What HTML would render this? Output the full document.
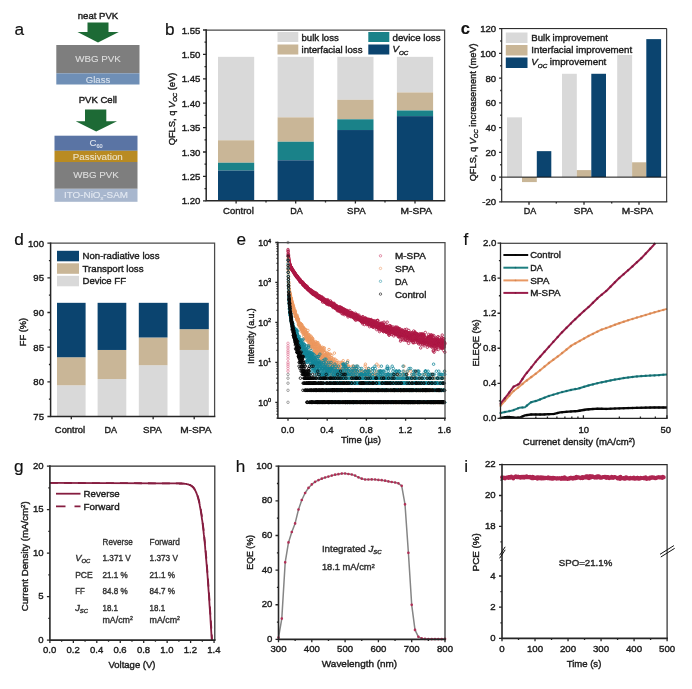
<!DOCTYPE html>
<html lang="en"><head><meta charset="utf-8"><title>Figure</title>
<style>html,body{margin:0;padding:0;background:#fff}svg{display:block}text{stroke:#1c1c1c;stroke-width:.4px}</style></head>
<body>
<svg width="692" height="689" viewBox="0 0 692 689" font-family='"Liberation Sans", sans-serif' fill="#1c1c1c">
<rect width="692" height="689" fill="#fff"/>
<text x="14.5" y="34.5" font-size="17.2" fill="#111" style="stroke:#111;stroke-width:0.15px">a</text>
<text x="165" y="34.5" font-size="17.2" fill="#111" style="stroke:#111;stroke-width:0.15px">b</text>
<text x="460.8" y="33.6" font-size="16.5" fill="#111" style="stroke:#111;stroke-width:0.15px" font-weight="bold">c</text>
<text x="14.3" y="244.9" font-size="17.2" fill="#111" style="stroke:#111;stroke-width:0.15px">d</text>
<text x="236.5" y="245.2" font-size="17.2" fill="#111" style="stroke:#111;stroke-width:0.15px">e</text>
<text x="463.5" y="244.9" font-size="17.2" fill="#111" style="stroke:#111;stroke-width:0.15px">f</text>
<text x="14" y="471.5" font-size="17.2" fill="#111" style="stroke:#111;stroke-width:0.15px">g</text>
<text x="235.8" y="471.7" font-size="17.2" fill="#111" style="stroke:#111;stroke-width:0.15px">h</text>
<text x="464.3" y="471.7" font-size="17.2" fill="#111" style="stroke:#111;stroke-width:0.15px">i</text>
<text x="98" y="18.6" font-size="9.7" text-anchor="middle" textLength="40.4" lengthAdjust="spacingAndGlyphs">neat PVK</text>
<path d="M87.5 22.5H108.5V32H118.8L98 42.6L77.5 32H87.5Z" fill="#1d6a35"/>
<rect x="56.3" y="45" width="83.2" height="28.3" fill="#7e7e7e"/>
<rect x="56.3" y="73.3" width="83.2" height="11.2" fill="#6f8fb6"/>
<text x="98" y="62.4" font-size="9.7" text-anchor="middle" textLength="45.5" lengthAdjust="spacingAndGlyphs" fill="#dedede" style="stroke:#dedede;stroke-width:0.12px">WBG PVK</text>
<text x="98" y="82.5" font-size="9.7" text-anchor="middle" textLength="24.5" lengthAdjust="spacingAndGlyphs" fill="#d6e0ec" style="stroke:#d6e0ec;stroke-width:0.12px">Glass</text>
<text x="97.8" y="102.6" font-size="9.7" text-anchor="middle" textLength="38.3" lengthAdjust="spacingAndGlyphs">PVK Cell</text>
<path d="M85 109.5H106.3V121.2H117L96.2 131.4L75.7 121.2H85Z" fill="#1d6a35"/>
<rect x="54.5" y="135.7" width="83" height="15.1" fill="#5a74a4"/>
<rect x="54.5" y="150.8" width="83" height="11.2" fill="#b98b22"/>
<rect x="54.5" y="162" width="83" height="26.8" fill="#7e7e7e"/>
<rect x="54.5" y="188.8" width="83" height="13" fill="#a8b7ce"/>
<text x="96" y="145.6" font-size="9.7" text-anchor="middle" fill="#dfe5ef" style="stroke:#dfe5ef;stroke-width:0.12px">C<tspan dy="2" font-size="5.5">60</tspan></text>
<text x="97.8" y="159.6" font-size="9.7" text-anchor="middle" textLength="50" lengthAdjust="spacingAndGlyphs" fill="#ece1c2" style="stroke:#ece1c2;stroke-width:0.12px">Passivation</text>
<text x="96" y="177.6" font-size="9.7" text-anchor="middle" textLength="45.5" lengthAdjust="spacingAndGlyphs" fill="#dedede" style="stroke:#dedede;stroke-width:0.12px">WBG PVK</text>
<text x="96" y="197.6" font-size="9.7" text-anchor="middle" textLength="64" lengthAdjust="spacingAndGlyphs" fill="#e3e9f2" style="stroke:#e3e9f2;stroke-width:0.12px">ITO-NiO<tspan dy="2" font-size="5.5">x</tspan><tspan dy="-2">-SAM</tspan></text>
<rect x="218" y="56.84" width="36.2" height="83.45" fill="#d9d9d9"/>
<rect x="218" y="140.29" width="36.2" height="22.45" fill="#c9b697"/>
<rect x="218" y="162.74" width="36.2" height="7.81" fill="#1a8289"/>
<rect x="218" y="170.54" width="36.2" height="30.26" fill="#0b446f"/>
<rect x="277.6" y="56.84" width="36.2" height="60.51" fill="#d9d9d9"/>
<rect x="277.6" y="117.35" width="36.2" height="24.4" fill="#c9b697"/>
<rect x="277.6" y="141.75" width="36.2" height="18.54" fill="#1a8289"/>
<rect x="277.6" y="160.3" width="36.2" height="40.5" fill="#0b446f"/>
<rect x="337.3" y="56.84" width="36.2" height="42.94" fill="#d9d9d9"/>
<rect x="337.3" y="99.78" width="36.2" height="19.52" fill="#c9b697"/>
<rect x="337.3" y="119.3" width="36.2" height="10.74" fill="#1a8289"/>
<rect x="337.3" y="130.04" width="36.2" height="70.76" fill="#0b446f"/>
<rect x="396.9" y="56.84" width="36.2" height="35.62" fill="#d9d9d9"/>
<rect x="396.9" y="92.46" width="36.2" height="18.06" fill="#c9b697"/>
<rect x="396.9" y="110.52" width="36.2" height="5.61" fill="#1a8289"/>
<rect x="396.9" y="116.13" width="36.2" height="84.67" fill="#0b446f"/>
<path d="M206.2 30H444.6V200.8" fill="none" stroke="#4a4a4a" stroke-width="1.25"/>
<path d="M206.2 30V200.8H444.6" fill="none" stroke="#262626" stroke-width="1.5" stroke-linecap="square"/>
<text x="200.4" y="204.3" font-size="9.6" text-anchor="end">1.20</text>
<text x="200.4" y="179.9" font-size="9.6" text-anchor="end">1.25</text>
<text x="200.4" y="155.5" font-size="9.6" text-anchor="end">1.30</text>
<text x="200.4" y="131.1" font-size="9.6" text-anchor="end">1.35</text>
<text x="200.4" y="106.7" font-size="9.6" text-anchor="end">1.40</text>
<text x="200.4" y="82.3" font-size="9.6" text-anchor="end">1.45</text>
<text x="200.4" y="57.9" font-size="9.6" text-anchor="end">1.50</text>
<text x="200.4" y="33.5" font-size="9.6" text-anchor="end">1.55</text>
<path d="M206.2 200.8h-3.2M206.2 188.6h-1.7M206.2 176.4h-3.2M206.2 164.2h-1.7M206.2 152h-3.2M206.2 139.8h-1.7M206.2 127.6h-3.2M206.2 115.4h-1.7M206.2 103.2h-3.2M206.2 91h-1.7M206.2 78.8h-3.2M206.2 66.6h-1.7M206.2 54.4h-3.2M206.2 42.2h-1.7M206.2 30h-3.2M236.1 200.8v2.8M295.7 200.8v2.8M355.4 200.8v2.8M415 200.8v2.8M266 200.8v1.6M325.5 200.8v1.6M385 200.8v1.6" fill="none" stroke="#262626" stroke-width="1.3"/>
<text x="238.4" y="214" font-size="9.7" text-anchor="middle" textLength="30.8" lengthAdjust="spacingAndGlyphs">Control</text>
<text x="296.4" y="214" font-size="9.7" text-anchor="middle" textLength="12.5" lengthAdjust="spacingAndGlyphs">DA</text>
<text x="356.4" y="214" font-size="9.7" text-anchor="middle" textLength="18.6" lengthAdjust="spacingAndGlyphs">SPA</text>
<text x="416.3" y="214" font-size="9.7" text-anchor="middle" textLength="31.6" lengthAdjust="spacingAndGlyphs">M-SPA</text>
<text x="175.2" y="109" font-size="9.6" text-anchor="middle" transform="rotate(-90 175.2 109)" textLength="72.7" lengthAdjust="spacingAndGlyphs">QFLS, q <tspan font-style="italic">V</tspan><tspan dy="2.2" font-size="6.2" font-style="italic">OC</tspan><tspan dy="-2.2"> (eV)</tspan></text>
<rect x="277.5" y="32" width="20.8" height="10" fill="#d9d9d9"/>
<rect x="277.5" y="44.5" width="20.8" height="10" fill="#c9b697"/>
<rect x="368.3" y="32" width="21" height="10" fill="#1a8289"/>
<rect x="368.3" y="44.5" width="21" height="10" fill="#0b446f"/>
<text x="301.5" y="40.6" font-size="9.7" textLength="37.3" lengthAdjust="spacingAndGlyphs">bulk loss</text>
<text x="301.5" y="52.8" font-size="9.7" textLength="61" lengthAdjust="spacingAndGlyphs">interfacial loss</text>
<text x="392.5" y="40.6" font-size="9.7" textLength="48" lengthAdjust="spacingAndGlyphs">device loss</text>
<text x="392.5" y="52.3" font-size="9.7"><tspan font-style="italic">V</tspan><tspan dy="2.2" font-size="6.2" font-style="italic">OC</tspan></text>
<rect x="507" y="117.35" width="15" height="59.79" fill="#d9d9d9"/>
<rect x="522" y="177.14" width="14.8" height="4.95" fill="#c9b697"/>
<rect x="536.8" y="151.15" width="14.5" height="25.99" fill="#0b446f"/>
<rect x="562" y="73.78" width="14.8" height="103.36" fill="#d9d9d9"/>
<rect x="576.8" y="170.09" width="14.5" height="7.06" fill="#c9b697"/>
<rect x="591.3" y="73.78" width="14.7" height="103.36" fill="#0b446f"/>
<rect x="617.2" y="54.97" width="14.9" height="122.18" fill="#d9d9d9"/>
<rect x="632.1" y="162.29" width="14.2" height="14.85" fill="#c9b697"/>
<rect x="646.3" y="39.12" width="14.8" height="138.02" fill="#0b446f"/>
<line x1="501.7" y1="177.14" x2="666.7" y2="177.14" stroke="#111" stroke-width="1"/>
<path d="M501.7 28.6H666.7V201.9" fill="none" stroke="#1a1a1a" stroke-width="1"/>
<path d="M501.7 28.6V201.9H666.7" fill="none" stroke="#262626" stroke-width="1.15" stroke-linecap="square"/>
<text x="496.2" y="205.4" font-size="9.6" text-anchor="end">-20</text>
<text x="496.2" y="180.64" font-size="9.6" text-anchor="end">0</text>
<text x="496.2" y="155.89" font-size="9.6" text-anchor="end">20</text>
<text x="496.2" y="131.13" font-size="9.6" text-anchor="end">40</text>
<text x="496.2" y="106.37" font-size="9.6" text-anchor="end">60</text>
<text x="496.2" y="81.61" font-size="9.6" text-anchor="end">80</text>
<text x="496.2" y="56.86" font-size="9.6" text-anchor="end">100</text>
<text x="496.2" y="32.1" font-size="9.6" text-anchor="end">120</text>
<path d="M501.7 201.9h-2.6M501.7 189.52h-1.5M501.7 177.14h-2.6M501.7 164.76h-1.5M501.7 152.39h-2.6M501.7 140.01h-1.5M501.7 127.63h-2.6M501.7 115.25h-1.5M501.7 102.87h-2.6M501.7 90.49h-1.5M501.7 78.11h-2.6M501.7 65.74h-1.5M501.7 53.36h-2.6M501.7 40.98h-1.5M501.7 28.6h-2.6M529 201.9v2.8M584 201.9v2.8M639 201.9v2.8M556.3 201.9v1.6M611.7 201.9v1.6" fill="none" stroke="#262626" stroke-width="1.3"/>
<text x="529.9" y="214.4" font-size="9.7" text-anchor="middle" textLength="12.5" lengthAdjust="spacingAndGlyphs">DA</text>
<text x="583.4" y="214.4" font-size="9.7" text-anchor="middle" textLength="19.3" lengthAdjust="spacingAndGlyphs">SPA</text>
<text x="637.4" y="214.4" font-size="9.7" text-anchor="middle" textLength="31.4" lengthAdjust="spacingAndGlyphs">M-SPA</text>
<text x="476.2" y="112.4" font-size="9.6" text-anchor="middle" transform="rotate(-90 476.2 112.4)" textLength="137.9" lengthAdjust="spacingAndGlyphs">QFLS, q <tspan font-style="italic">V</tspan><tspan dy="2.2" font-size="6.2" font-style="italic">OC</tspan><tspan dy="-2.2"> increasement (meV)</tspan></text>
<rect x="505.8" y="32.5" width="21.7" height="10.5" fill="#d9d9d9"/>
<rect x="505.8" y="45" width="21.7" height="10.5" fill="#c9b697"/>
<rect x="505.8" y="57.5" width="21.7" height="10.5" fill="#0b446f"/>
<text x="531.3" y="40.9" font-size="9.7" textLength="76.7" lengthAdjust="spacingAndGlyphs">Bulk improvement</text>
<text x="531.3" y="53.3" font-size="9.7" textLength="100.8" lengthAdjust="spacingAndGlyphs">Interfacial improvement</text>
<text x="531.3" y="65.3" font-size="9.7" textLength="75" lengthAdjust="spacingAndGlyphs"><tspan font-style="italic">V</tspan><tspan dy="2.2" font-size="6.2" font-style="italic">OC</tspan><tspan dy="-2.2"> improvement</tspan></text>
<rect x="57" y="385.31" width="28.6" height="31.19" fill="#d9d9d9"/>
<rect x="57" y="357.23" width="28.6" height="28.07" fill="#c9b697"/>
<rect x="57" y="302.82" width="28.6" height="54.42" fill="#0b446f"/>
<rect x="97.6" y="379.07" width="28.7" height="37.43" fill="#d9d9d9"/>
<rect x="97.6" y="349.95" width="28.7" height="29.11" fill="#c9b697"/>
<rect x="97.6" y="302.82" width="28.7" height="47.14" fill="#0b446f"/>
<rect x="138.8" y="365.2" width="28.7" height="51.3" fill="#d9d9d9"/>
<rect x="138.8" y="337.48" width="28.7" height="27.73" fill="#c9b697"/>
<rect x="138.8" y="302.82" width="28.7" height="34.66" fill="#0b446f"/>
<rect x="179.6" y="349.95" width="29.2" height="66.55" fill="#d9d9d9"/>
<rect x="179.6" y="329.16" width="29.2" height="20.8" fill="#c9b697"/>
<rect x="179.6" y="302.82" width="29.2" height="26.34" fill="#0b446f"/>
<path d="M50.6 243.2H214.6V416.5" fill="none" stroke="#4a4a4a" stroke-width="1.25"/>
<path d="M50.6 243.2V416.5H214.6" fill="none" stroke="#262626" stroke-width="1.5" stroke-linecap="square"/>
<text x="44" y="420" font-size="9.6" text-anchor="end">75</text>
<text x="44" y="385.34" font-size="9.6" text-anchor="end">80</text>
<text x="44" y="350.68" font-size="9.6" text-anchor="end">85</text>
<text x="44" y="316.02" font-size="9.6" text-anchor="end">90</text>
<text x="44" y="281.36" font-size="9.6" text-anchor="end">95</text>
<text x="44" y="246.7" font-size="9.6" text-anchor="end">100</text>
<path d="M50.6 416.5h-3.2M50.6 399.17h-1.7M50.6 381.84h-3.2M50.6 364.51h-1.7M50.6 347.18h-3.2M50.6 329.85h-1.7M50.6 312.52h-3.2M50.6 295.19h-1.7M50.6 277.86h-3.2M50.6 260.53h-1.7M50.6 243.2h-3.2M71.3 416.5v2.8M111.95 416.5v2.8M153.15 416.5v2.8M194.2 416.5v2.8" fill="none" stroke="#262626" stroke-width="1.3"/>
<text x="70" y="432.9" font-size="9.7" text-anchor="middle" textLength="30.3" lengthAdjust="spacingAndGlyphs">Control</text>
<text x="110.8" y="432.9" font-size="9.7" text-anchor="middle" textLength="12.5" lengthAdjust="spacingAndGlyphs">DA</text>
<text x="152.3" y="432.9" font-size="9.7" text-anchor="middle" textLength="18.8" lengthAdjust="spacingAndGlyphs">SPA</text>
<text x="195.8" y="432.9" font-size="9.7" text-anchor="middle" textLength="31.3" lengthAdjust="spacingAndGlyphs">M-SPA</text>
<text x="26" y="332" font-size="9.6" text-anchor="middle" transform="rotate(-90 26 332)" textLength="28.4" lengthAdjust="spacingAndGlyphs">FF (%)</text>
<rect x="57" y="250.8" width="22" height="10.5" fill="#0b446f"/>
<rect x="57" y="263.3" width="22" height="10.5" fill="#c9b697"/>
<rect x="57" y="275.8" width="22" height="10.5" fill="#d9d9d9"/>
<text x="82.5" y="259.4" font-size="9.7" textLength="77" lengthAdjust="spacingAndGlyphs">Non-radiative loss</text>
<text x="82.5" y="271.9" font-size="9.7" textLength="61" lengthAdjust="spacingAndGlyphs">Transport loss</text>
<text x="82.5" y="284.4" font-size="9.7" textLength="43.5" lengthAdjust="spacingAndGlyphs">Device FF</text>
<defs>
<marker id="mm" markerWidth="5" markerHeight="5" refX="2.5" refY="2.5" markerUnits="userSpaceOnUse"><circle cx="2.5" cy="2.5" r="1.25" fill="none" stroke="#b01c48" stroke-width="0.8"/></marker>
<marker id="ms" markerWidth="5" markerHeight="5" refX="2.5" refY="2.5" markerUnits="userSpaceOnUse"><circle cx="2.5" cy="2.5" r="1.25" fill="none" stroke="#ee9b62" stroke-width="0.8"/></marker>
<marker id="md" markerWidth="5" markerHeight="5" refX="2.5" refY="2.5" markerUnits="userSpaceOnUse"><circle cx="2.5" cy="2.5" r="1.25" fill="none" stroke="#16889a" stroke-width="0.8"/></marker>
<marker id="mc" markerWidth="5" markerHeight="5" refX="2.5" refY="2.5" markerUnits="userSpaceOnUse"><circle cx="2.5" cy="2.5" r="1.25" fill="none" stroke="#0a0a0a" stroke-width="0.8"/></marker>
<marker id="mg" markerWidth="5" markerHeight="5" refX="2.5" refY="2.5" markerUnits="userSpaceOnUse"><circle cx="2.5" cy="2.5" r="1.25" fill="none" stroke="#8a8a8a" stroke-width="0.8"/></marker>
<marker id="mp" markerWidth="5" markerHeight="5" refX="2.5" refY="2.5" markerUnits="userSpaceOnUse"><circle cx="2.5" cy="2.5" r="1.25" fill="none" stroke="#e58aa5" stroke-width="0.8"/></marker>
<clipPath id="ce"><rect x="275.9" y="240.5" width="171.1" height="177.7"/></clipPath>
</defs>
<polyline clip-path="url(#ce)" points="288.0,249.5 288.1,250.9 288.2,251.5 288.2,253.2 288.3,254.5 288.4,254.8 288.5,255.7 288.5,256.8 288.6,257.6 288.7,258.2 288.8,258.8 288.9,259.6 288.9,260.1 289.0,260.2 289.1,261.2 289.2,261.5 289.3,262.2 289.3,262.5 289.4,263.1 289.5,263.2 289.6,263.5 289.6,264.1 289.7,264.5 289.8,264.4 289.9,264.7 290.0,264.7 290.0,265.0 290.1,265.5 290.2,265.8 290.3,266.0 290.4,266.7 290.4,266.0 290.5,266.2 290.6,266.5 290.7,267.4 290.7,267.3 290.8,267.6 290.9,267.1 291.0,267.2 291.1,266.9 291.1,267.5 291.2,267.4 291.3,267.8 291.4,268.0 291.5,268.2 291.5,268.8 291.6,268.1 291.7,269.3 291.8,268.2 291.8,269.0 291.9,269.4 292.0,269.9 292.1,269.2 292.2,269.6 292.2,270.0 292.3,269.6 292.4,270.1 292.5,269.1 292.5,270.9 292.6,270.9 292.7,270.3 292.8,270.9 292.9,270.4 292.9,270.9 293.0,270.4 293.1,270.7 293.2,270.9 293.3,271.0 293.3,271.1 293.4,271.7 293.5,271.1 293.6,271.2 293.6,272.2 293.7,271.7 293.8,272.3 293.9,271.7 294.0,272.7 294.0,271.9 294.1,272.8 294.2,272.6 294.3,272.3 294.4,272.5 294.4,273.2 294.5,272.9 294.6,274.3 294.7,273.0 294.7,273.4 294.8,273.1 294.9,273.7 295.0,273.2 295.1,274.7 295.1,274.0 295.2,274.6 295.3,274.3 295.4,274.2 295.5,274.3 295.5,274.9 295.6,275.2 295.7,275.2 295.8,275.0 295.8,274.8 295.9,275.0 296.0,275.4 296.1,275.4 296.2,275.3 296.2,276.0 296.3,276.0 296.4,274.9 296.5,276.5 296.5,275.9 296.6,277.3 296.7,275.9 296.8,276.0 296.9,276.5 296.9,277.0 297.0,276.4 297.1,276.5 297.2,276.5 297.3,277.0 297.3,276.2 297.4,277.5 297.5,277.5 297.6,277.1 297.6,277.1 297.7,277.6 297.8,278.0 297.9,277.5 298.0,277.2 298.0,277.2 298.1,278.1 298.2,278.9 298.3,278.8 298.4,279.0 298.4,278.3 298.5,278.3 298.6,278.5 298.7,278.6 298.7,278.8 298.8,279.0 298.9,278.8 299.0,279.3 299.1,279.9 299.1,279.8 299.2,279.4 299.3,279.0 299.4,278.9 299.5,279.4 299.5,279.7 299.6,279.0 299.7,280.7 299.8,280.4 299.8,280.1 299.9,280.3 300.0,280.7 300.1,281.7 300.2,280.7 300.2,279.6 300.3,282.2 300.4,281.4 300.5,280.9 300.6,281.1 300.6,280.6 300.7,281.8 300.8,281.5 300.9,281.9 300.9,281.8 301.0,282.2 301.1,281.5 301.2,282.1 301.3,281.5 301.3,282.6 301.4,282.4 301.5,281.8 301.6,281.4 301.6,282.4 301.7,282.6 301.8,282.9 301.9,283.1 302.0,282.6 302.0,282.4 302.1,283.0 302.2,282.2 302.3,282.1 302.4,283.4 302.4,282.9 302.5,283.5 302.6,284.4 302.7,284.1 302.7,282.1 302.8,283.9 302.9,284.9 303.0,283.4 303.1,284.1 303.1,284.0 303.2,284.2 303.3,283.9 303.4,283.4 303.5,283.2 303.5,284.5 303.6,284.0 303.7,284.0 303.8,285.7 303.8,284.9 303.9,285.4 304.0,285.5 304.1,284.4 304.2,285.1 304.2,285.1 304.3,285.4 304.4,285.8 304.5,284.7 304.6,285.7 304.6,285.3 304.7,285.6 304.8,285.9 304.9,285.1 304.9,286.3 305.0,285.2 305.1,286.0 305.2,285.3 305.3,286.0 305.3,287.3 305.4,287.2 305.5,285.3 305.6,286.7 305.6,285.6 305.7,285.7 305.8,286.6 305.9,287.4 306.0,288.0 306.0,287.7 306.1,286.5 306.2,286.5 306.3,286.5 306.4,287.1 306.4,287.3 306.5,287.4 306.6,287.8 306.7,286.5 306.7,287.0 306.8,287.7 306.9,287.3 307.0,287.8 307.1,286.3 307.1,287.3 307.2,288.1 307.3,287.7 307.4,288.2 307.5,288.1 307.5,288.0 307.6,287.5 307.7,287.7 307.8,289.3 307.8,289.7 307.9,288.4 308.0,288.1 308.1,289.6 308.2,290.0 308.2,289.4 308.3,288.6 308.4,289.0 308.5,289.4 308.6,288.7 308.6,289.0 308.7,289.3 308.8,289.9 308.9,289.9 308.9,288.6 309.0,289.9 309.1,289.7 309.2,289.2 309.3,289.1 309.3,290.3 309.4,289.5 309.5,289.9 309.6,290.4 309.6,290.2 309.7,289.8 309.8,291.3 309.9,290.6 310.0,291.3 310.0,290.6 310.1,291.5 310.2,289.8 310.3,290.1 310.4,291.8 310.4,291.7 310.5,290.3 310.6,290.1 310.7,291.8 310.7,291.1 310.8,290.5 310.9,289.9 311.0,291.4 311.1,291.0 311.1,292.2 311.2,290.7 311.3,292.8 311.4,291.9 311.5,291.5 311.5,291.1 311.6,291.8 311.7,291.9 311.8,290.7 311.8,292.4 311.9,291.5 312.0,292.1 312.1,292.5 312.2,292.6 312.2,292.1 312.3,293.8 312.4,292.8 312.5,293.2 312.6,292.1 312.6,291.2 312.7,291.8 312.8,293.5 312.9,292.7 312.9,292.6 313.0,291.8 313.1,292.6 313.2,293.2 313.3,292.9 313.3,294.4 313.4,292.7 313.5,293.9 313.6,293.1 313.6,294.2 313.7,293.8 313.8,294.2 313.9,293.7 314.0,293.5 314.0,292.4 314.1,294.1 314.2,294.3 314.3,293.6 314.4,294.7 314.4,293.8 314.5,292.3 314.6,293.9 314.7,293.8 314.7,295.3 314.8,293.9 314.9,293.7 315.0,293.4 315.1,294.1 315.1,295.3 315.2,294.4 315.3,293.7 315.4,294.2 315.5,294.2 315.5,293.9 315.6,295.1 315.7,294.3 315.8,295.3 315.8,295.4 315.9,292.8 316.0,294.5 316.1,295.4 316.2,296.7 316.2,295.2 316.3,295.8 316.4,294.2 316.5,295.7 316.6,295.4 316.6,294.9 316.7,295.1 316.8,295.2 316.9,294.9 316.9,293.7 317.0,295.3 317.1,294.8 317.2,295.7 317.3,295.0 317.3,295.9 317.4,294.7 317.5,297.4 317.6,295.5 317.7,296.1 317.7,296.5 317.8,296.4 317.9,296.6 318.0,296.5 318.0,296.9 318.1,295.6 318.2,297.1 318.3,296.3 318.4,297.5 318.4,296.1 318.5,297.6 318.6,296.9 318.7,297.0 318.7,296.7 318.8,295.9 318.9,295.9 319.0,298.0 319.1,297.8 319.1,295.8 319.2,296.9 319.3,298.0 319.4,296.6 319.5,297.1 319.5,298.2 319.6,297.3 319.7,298.0 319.8,298.5 319.8,298.2 319.9,296.7 320.0,296.0 320.1,296.9 320.2,297.4 320.2,297.5 320.3,298.5 320.4,297.6 320.5,298.3 320.6,299.1 320.6,297.8 320.7,297.6 320.8,298.9 320.9,297.4 320.9,297.5 321.0,298.7 321.1,298.0 321.2,297.9 321.3,298.5 321.3,299.3 321.4,298.0 321.5,298.3 321.6,298.2 321.7,296.7 321.7,299.7 321.8,299.2 321.9,298.7 322.0,299.6 322.0,297.7 322.1,297.6 322.2,298.7 322.3,299.9 322.4,297.9 322.4,300.6 322.5,299.1 322.6,302.1 322.7,300.1 322.7,300.0 322.8,299.1 322.9,299.9 323.0,300.0 323.1,299.9 323.1,299.1 323.2,300.2 323.3,300.6 323.4,300.4 323.5,299.6 323.5,300.0 323.6,300.5 323.7,299.1 323.8,299.9 323.8,298.3 323.9,299.0 324.0,301.9 324.1,300.1 324.2,300.0 324.2,300.0 324.3,301.6 324.4,300.0 324.5,300.9 324.6,299.9 324.6,302.0 324.7,301.9 324.8,301.4 324.9,300.4 324.9,300.0 325.0,300.7 325.1,301.3 325.2,300.4 325.3,301.8 325.3,300.5 325.4,301.8 325.5,301.1 325.6,300.6 325.7,300.7 325.7,300.0 325.8,302.0 325.9,302.9 326.0,300.7 326.0,302.8 326.1,300.9 326.2,301.5 326.3,301.4 326.4,302.2 326.4,301.4 326.5,300.3 326.6,300.2 326.7,301.5 326.7,304.2 326.8,303.3 326.9,301.4 327.0,303.1 327.1,302.1 327.1,301.5 327.2,302.0 327.3,301.1 327.4,301.3 327.5,300.8 327.5,302.4 327.6,302.4 327.7,299.7 327.8,302.2 327.8,303.9 327.9,302.4 328.0,300.5 328.1,302.3 328.2,302.8 328.2,302.3 328.3,304.7 328.4,302.2 328.5,303.5 328.6,304.5 328.6,302.4 328.7,302.9 328.8,303.7 328.9,303.0 328.9,301.6 329.0,302.7 329.1,302.1 329.2,303.6 329.3,303.7 329.3,301.8 329.4,304.4 329.5,303.5 329.6,303.6 329.7,303.9 329.7,303.3 329.8,304.2 329.9,304.2 330.0,303.9 330.0,303.2 330.1,303.7 330.2,305.0 330.3,304.7 330.4,302.9 330.4,300.9 330.5,304.9 330.6,304.8 330.7,304.4 330.7,303.0 330.8,304.3 330.9,304.5 331.0,304.3 331.1,304.5 331.1,305.4 331.2,302.1 331.3,304.7 331.4,303.7 331.5,302.9 331.5,303.9 331.6,304.2 331.7,304.7 331.8,303.5 331.8,304.8 331.9,303.1 332.0,304.2 332.1,304.6 332.2,303.7 332.2,306.0 332.3,304.9 332.4,303.8 332.5,306.5 332.6,305.1 332.6,304.8 332.7,305.3 332.8,306.1 332.9,305.0 332.9,305.8 333.0,306.3 333.1,307.6 333.2,304.0 333.3,304.0 333.3,305.1 333.4,304.8 333.5,305.2 333.6,305.8 333.7,305.5 333.7,307.0 333.8,305.0 333.9,303.4 334.0,306.4 334.0,303.4 334.1,305.7 334.2,305.1 334.3,305.5 334.4,307.4 334.4,306.4 334.5,305.2 334.6,305.8 334.7,307.5 334.7,306.9 334.8,306.0 334.9,306.9 335.0,306.9 335.1,308.0 335.1,304.9 335.2,308.3 335.3,305.8 335.4,307.2 335.5,306.4 335.5,305.6 335.6,306.8 335.7,306.6 335.8,308.6 335.8,306.0 335.9,307.3 336.0,307.2 336.1,308.1 336.2,305.5 336.2,305.6 336.3,305.8 336.4,308.2 336.5,307.3 336.6,308.1 336.6,308.6 336.7,307.5 336.8,306.7 336.9,309.0 336.9,308.0 337.0,308.0 337.1,309.7 337.2,307.9 337.3,306.3 337.3,310.7 337.4,307.5 337.5,308.6 337.6,308.6 337.7,307.9 337.7,309.4 337.8,306.9 337.9,307.9 338.0,309.9 338.0,308.6 338.1,308.4 338.2,310.5 338.3,309.4 338.4,307.4 338.4,308.9 338.5,307.9 338.6,310.9 338.7,307.8 338.8,309.6 338.8,309.1 338.9,307.2 339.0,309.0 339.1,308.8 339.1,309.7 339.2,310.4 339.3,309.7 339.4,310.1 339.5,307.1 339.5,308.0 339.6,311.0 339.7,307.8 339.8,306.9 339.8,310.0 339.9,311.4 340.0,310.1 340.1,311.8 340.2,307.8 340.2,309.0 340.3,307.2 340.4,309.4 340.5,310.7 340.6,308.7 340.6,308.6 340.7,310.4 340.8,310.9 340.9,310.5 340.9,307.5 341.0,309.4 341.1,309.9 341.2,309.7 341.3,310.1 341.3,310.8 341.4,307.6 341.5,308.0 341.6,308.8 341.7,309.3 341.7,311.4 341.8,313.5 341.9,308.6 342.0,310.5 342.0,310.5 342.1,309.4 342.2,309.4 342.3,310.4 342.4,310.8 342.4,308.3 342.5,309.6 342.6,310.1 342.7,313.9 342.8,311.4 342.8,310.8 342.9,310.6 343.0,310.1 343.1,310.9 343.1,312.5 343.2,311.8 343.3,312.7 343.4,311.0 343.5,310.0 343.5,312.3 343.6,311.2 343.7,311.4 343.8,309.1 343.8,309.0 343.9,310.5 344.0,311.8 344.1,309.5 344.2,309.9 344.2,309.9 344.3,314.7 344.4,311.0 344.5,312.2 344.6,311.8 344.6,313.3 344.7,309.8 344.8,311.4 344.9,313.1 344.9,309.9 345.0,313.7 345.1,313.3 345.2,313.1 345.3,311.4 345.3,312.5 345.4,311.6 345.5,312.7 345.6,310.5 345.7,313.6 345.7,313.2 345.8,312.1 345.9,311.9 346.0,312.4 346.0,311.7 346.1,310.5 346.2,312.8 346.3,313.6 346.4,311.0 346.4,312.3 346.5,312.2 346.6,313.8 346.7,314.9 346.8,310.9 346.8,310.3 346.9,311.4 347.0,312.7 347.1,313.5 347.1,312.1 347.2,312.6 347.3,313.2 347.4,313.8 347.5,313.6 347.5,313.1 347.6,314.8 347.7,314.8 347.8,311.7 347.8,313.5 347.9,311.4 348.0,316.9 348.1,313.1 348.2,315.5 348.2,311.4 348.3,312.1 348.4,312.1 348.5,312.5 348.6,313.4 348.6,311.7 348.7,313.3 348.8,313.8 348.9,313.5 348.9,313.2 349.0,313.0 349.1,313.9 349.2,313.4 349.3,315.4 349.3,313.5 349.4,313.0 349.5,315.8 349.6,314.7 349.7,313.8 349.7,310.6 349.8,312.8 349.9,315.7 350.0,314.9 350.0,315.4 350.1,313.3 350.2,314.0 350.3,315.4 350.4,315.8 350.4,315.4 350.5,314.5 350.6,313.0 350.7,316.0 350.8,314.1 350.8,312.9 350.9,316.4 351.0,313.5 351.1,314.5 351.1,316.9 351.2,313.3 351.3,314.4 351.4,312.9 351.5,314.9 351.5,316.0 351.6,314.4 351.7,312.5 351.8,313.6 351.8,315.1 351.9,314.8 352.0,313.5 352.1,314.0 352.2,316.1 352.2,312.7 352.3,315.5 352.4,314.7 352.5,316.3 352.6,315.4 352.6,315.1 352.7,315.2 352.8,314.4 352.9,315.5 352.9,314.4 353.0,317.1 353.1,317.3 353.2,316.1 353.3,314.2 353.3,316.8 353.4,313.5 353.5,315.6 353.6,317.2 353.7,314.9 353.7,316.6 353.8,314.9 353.9,315.2 354.0,316.0 354.0,315.4 354.1,317.2 354.2,318.5 354.3,317.8 354.4,315.0 354.4,317.7 354.5,316.6 354.6,317.1 354.7,315.4 354.8,316.8 354.8,315.4 354.9,316.8 355.0,319.5 355.1,315.4 355.1,316.9 355.2,315.7 355.3,313.2 355.4,316.1 355.5,314.7 355.5,317.8 355.6,317.7 355.7,314.5 355.8,315.4 355.8,320.3 355.9,318.1 356.0,315.5 356.1,316.4 356.2,314.6 356.2,315.1 356.3,315.2 356.4,316.7 356.5,318.0 356.6,318.1 356.6,319.1 356.7,317.1 356.8,316.2 356.9,316.4 356.9,317.8 357.0,316.0 357.1,318.8 357.2,317.6 357.3,314.7 357.3,316.8 357.4,319.1 357.5,318.4 357.6,317.3 357.7,316.6 357.7,317.6 357.8,318.0 357.9,316.1 358.0,316.9 358.0,319.1 358.1,316.9 358.2,319.8 358.3,317.2 358.4,318.9 358.4,316.7 358.5,319.4 358.6,318.1 358.7,316.6 358.8,319.1 358.8,318.0 358.9,317.8 359.0,315.2 359.1,318.4 359.1,317.6 359.2,317.8 359.3,318.7 359.4,318.4 359.5,318.8 359.5,318.3 359.6,317.1 359.7,318.1 359.8,319.2 359.9,319.4 359.9,318.3 360.0,318.1 360.1,318.9 360.2,319.2 360.2,317.2 360.3,320.4 360.4,318.5 360.5,319.4 360.6,320.3 360.6,318.1 360.7,319.8 360.8,320.7 360.9,319.4 360.9,320.4 361.0,321.1 361.1,320.6 361.2,317.6 361.3,320.4 361.3,318.9 361.4,318.1 361.5,322.1 361.6,320.0 361.7,320.7 361.7,319.7 361.8,320.6 361.9,320.9 362.0,321.9 362.0,317.7 362.1,321.9 362.2,320.4 362.3,320.3 362.4,318.7 362.4,321.6 362.5,321.2 362.6,319.4 362.7,316.8 362.8,323.8 362.8,316.7 362.9,320.7 363.0,321.1 363.1,322.1 363.1,318.7 363.2,320.1 363.3,318.9 363.4,320.9 363.5,320.6 363.5,322.4 363.6,321.6 363.7,319.1 363.8,319.4 363.9,322.1 363.9,318.5 364.0,319.4 364.1,321.7 364.2,321.9 364.2,320.3 364.3,320.7 364.4,324.6 364.5,320.7 364.6,321.2 364.6,319.2 364.7,320.3 364.8,322.2 364.9,320.3 364.9,320.9 365.0,319.5 365.1,320.7 365.2,318.0 365.3,318.1 365.3,322.4 365.4,320.4 365.5,319.4 365.6,320.6 365.7,321.2 365.7,319.2 365.8,320.0 365.9,319.2 366.0,322.8 366.0,321.7 366.1,318.4 366.2,320.4 366.3,322.8 366.4,322.4 366.4,320.6 366.5,321.1 366.6,319.8 366.7,322.1 366.8,324.6 366.8,320.7 366.9,319.4 367.0,319.4 367.1,320.4 367.1,324.0 367.2,320.1 367.3,320.4 367.4,319.8 367.5,321.4 367.5,321.1 367.6,322.8 367.7,321.9 367.8,319.7 367.9,320.0 367.9,319.7 368.0,324.2 368.1,319.1 368.2,320.0 368.2,322.2 368.3,321.7 368.4,320.4 368.5,321.7 368.6,322.2 368.6,324.8 368.7,319.7 368.8,321.9 368.9,324.4 368.9,323.7 369.0,322.8 369.1,324.2 369.2,320.4 369.3,322.1 369.3,319.5 369.4,320.0 369.5,319.7 369.6,326.7 369.7,321.4 369.7,324.6 369.8,323.5 369.9,322.9 370.0,321.7 370.0,323.8 370.1,324.6 370.2,323.5 370.3,323.5 370.4,322.8 370.4,321.9 370.5,322.2 370.6,321.6 370.7,320.4 370.8,324.0 370.8,322.8 370.9,325.8 371.0,324.2 371.1,323.5 371.1,320.0 371.2,319.5 371.3,323.3 371.4,321.1 371.5,324.8 371.5,324.6 371.6,320.7 371.7,321.2 371.8,325.8 371.9,323.1 371.9,323.8 372.0,325.0 372.1,323.1 372.2,326.1 372.2,323.5 372.3,324.2 372.4,326.7 372.5,322.6 372.6,324.2 372.6,323.7 372.7,320.7 372.8,320.9 372.9,323.5 372.9,324.0 373.0,325.4 373.1,327.2 373.2,322.1 373.3,323.3 373.3,326.7 373.4,325.0 373.5,324.4 373.6,324.6 373.7,321.7 373.7,325.2 373.8,325.4 373.9,324.4 374.0,325.2 374.0,325.4 374.1,325.2 374.2,320.7 374.3,322.2 374.4,325.8 374.4,327.6 374.5,323.8 374.6,324.0 374.7,321.7 374.8,323.5 374.8,323.5 374.9,322.6 375.0,324.0 375.1,323.3 375.1,324.8 375.2,325.4 375.3,323.7 375.4,323.3 375.5,325.8 375.5,325.0 375.6,325.6 375.7,321.1 375.8,326.5 375.9,322.6 375.9,326.3 376.0,325.4 376.1,326.5 376.2,325.0 376.2,326.7 376.3,325.4 376.4,324.8 376.5,327.4 376.6,323.5 376.6,326.9 376.7,329.6 376.8,325.6 376.9,325.6 377.0,320.7 377.0,323.5 377.1,326.5 377.2,326.3 377.3,325.0 377.3,325.2 377.4,325.2 377.5,327.4 377.6,323.7 377.7,320.7 377.7,320.3 377.8,325.0 377.9,327.4 378.0,328.6 378.0,325.6 378.1,325.6 378.2,325.2 378.3,324.0 378.4,325.8 378.4,326.3 378.5,327.4 378.6,328.1 378.7,325.0 378.8,327.2 378.8,325.2 378.9,326.7 379.0,324.0 379.1,327.2 379.1,326.9 379.2,323.7 379.3,324.6 379.4,329.9 379.5,327.2 379.5,331.6 379.6,328.6 379.7,327.9 379.8,326.5 379.9,325.8 379.9,327.6 380.0,323.1 380.1,326.9 380.2,328.8 380.2,323.8 380.3,325.6 380.4,324.6 380.5,327.4 380.6,326.3 380.6,326.3 380.7,326.3 380.8,326.7 380.9,329.9 381.0,329.1 381.0,324.0 381.1,325.4 381.2,326.5 381.3,328.8 381.3,327.4 381.4,325.6 381.5,325.8 381.6,326.7 381.7,323.5 381.7,326.3 381.8,325.4 381.9,324.6 382.0,324.8 382.0,324.6 382.1,322.9 382.2,325.2 382.3,324.6 382.4,326.7 382.4,330.7 382.5,326.5 382.6,325.2 382.7,325.8 382.8,326.9 382.8,325.8 382.9,330.7 383.0,325.8 383.1,324.6 383.1,328.1 383.2,329.6 383.3,324.6 383.4,327.6 383.5,331.6 383.5,325.6 383.6,331.6 383.7,326.5 383.8,327.6 383.9,330.1 383.9,328.6 384.0,322.2 384.1,326.5 384.2,329.1 384.2,328.6 384.3,326.7 384.4,328.3 384.5,327.9 384.6,331.0 384.6,331.0 384.7,329.6 384.8,329.1 384.9,328.8 385.0,327.6 385.0,330.1 385.1,329.6 385.2,324.2 385.3,327.9 385.3,327.4 385.4,326.5 385.5,328.8 385.6,327.2 385.7,331.9 385.7,330.4 385.8,331.6 385.9,329.1 386.0,326.7 386.0,331.6 386.1,328.8 386.2,326.9 386.3,331.9 386.4,328.6 386.4,331.9 386.5,328.1 386.6,331.0 386.7,328.1 386.8,329.3 386.8,326.7 386.9,331.6 387.0,326.5 387.1,332.5 387.1,330.1 387.2,322.2 387.3,326.5 387.4,328.8 387.5,327.6 387.5,331.0 387.6,327.2 387.7,327.4 387.8,328.1 387.9,327.9 387.9,326.3 388.0,331.6 388.1,333.4 388.2,327.9 388.2,328.3 388.3,327.2 388.4,331.3 388.5,328.3 388.6,331.3 388.6,329.1 388.7,331.0 388.8,328.3 388.9,328.6 389.0,335.1 389.0,328.8 389.1,333.7 389.2,329.3 389.3,331.3 389.3,335.1 389.4,326.1 389.5,329.9 389.6,327.9 389.7,333.1 389.7,325.6 389.8,329.9 389.9,329.9 390.0,330.1 390.0,329.1 390.1,329.3 390.2,332.2 390.3,333.1 390.4,328.1 390.4,325.8 390.5,327.4 390.6,330.1 390.7,331.0 390.8,331.6 390.8,328.1 390.9,326.9 391.0,330.7 391.1,328.6 391.1,329.9 391.2,327.4 391.3,330.1 391.4,329.6 391.5,334.4 391.5,328.8 391.6,329.1 391.7,331.6 391.8,331.9 391.9,332.2 391.9,328.6 392.0,331.3 392.1,331.9 392.2,330.7 392.2,328.8 392.3,334.1 392.4,329.9 392.5,331.9 392.6,330.1 392.6,331.6 392.7,330.4 392.8,331.9 392.9,326.9 393.0,328.8 393.0,332.2 393.1,330.7 393.2,328.6 393.3,329.6 393.3,330.1 393.4,328.6 393.5,332.8 393.6,330.1 393.7,333.4 393.7,329.6 393.8,335.9 393.9,332.8 394.0,331.0 394.0,332.8 394.1,331.9 394.2,328.6 394.3,331.6 394.4,329.9 394.4,329.1 394.5,330.1 394.6,333.4 394.7,330.1 394.8,331.3 394.8,333.7 394.9,334.1 395.0,332.8 395.1,329.3 395.1,327.2 395.2,333.1 395.3,330.4 395.4,331.3 395.5,332.2 395.5,329.6 395.6,330.1 395.7,328.1 395.8,332.5 395.9,329.1 395.9,331.0 396.0,327.2 396.1,329.6 396.2,334.8 396.2,333.7 396.3,330.1 396.4,329.9 396.5,334.1 396.6,331.3 396.6,334.1 396.7,334.1 396.8,331.9 396.9,332.5 397.0,331.6 397.0,331.9 397.1,327.2 397.2,330.7 397.3,332.5 397.3,333.7 397.4,333.7 397.5,334.4 397.6,331.0 397.7,332.8 397.7,331.9 397.8,332.5 397.9,328.3 398.0,330.1 398.1,328.1 398.1,328.6 398.2,336.6 398.3,330.7 398.4,334.4 398.4,333.7 398.5,335.1 398.6,333.7 398.7,330.4 398.8,329.6 398.8,337.0 398.9,335.9 399.0,334.1 399.1,330.7 399.1,334.4 399.2,330.7 399.3,330.4 399.4,329.1 399.5,334.4 399.5,331.6 399.6,332.8 399.7,337.0 399.8,328.6 399.9,336.3 399.9,331.3 400.0,335.9 400.1,334.1 400.2,330.7 400.2,334.4 400.3,332.2 400.4,333.4 400.5,341.1 400.6,333.7 400.6,334.8 400.7,333.1 400.8,332.5 400.9,339.7 401.0,334.1 401.0,334.1 401.1,331.3 401.2,331.6 401.3,334.1 401.3,336.3 401.4,330.4 401.5,335.1 401.6,332.2 401.7,335.1 401.7,331.3 401.8,335.1 401.9,334.1 402.0,330.1 402.1,330.1 402.1,335.5 402.2,335.1 402.3,333.4 402.4,334.4 402.4,330.7 402.5,339.2 402.6,335.9 402.7,332.2 402.8,335.5 402.8,335.1 402.9,334.4 403.0,332.5 403.1,333.7 403.1,333.4 403.2,337.5 403.3,333.1 403.4,332.8 403.5,340.1 403.5,335.5 403.6,335.5 403.7,335.1 403.8,332.5 403.9,336.6 403.9,335.1 404.0,335.5 404.1,331.0 404.2,331.6 404.2,331.6 404.3,332.8 404.4,335.9 404.5,334.1 404.6,333.7 404.6,333.7 404.7,336.3 404.8,329.6 404.9,335.1 405.0,334.4 405.0,333.4 405.1,340.1 405.2,334.8 405.3,333.4 405.3,337.9 405.4,335.1 405.5,339.2 405.6,334.1 405.7,337.0 405.7,331.6 405.8,332.5 405.9,337.0 406.0,336.3 406.1,334.4 406.1,332.8 406.2,332.8 406.3,332.8 406.4,335.5 406.4,336.3 406.5,332.2 406.6,329.3 406.7,340.6 406.8,334.1 406.8,332.2 406.9,332.2 407.0,332.5 407.1,333.1 407.1,333.1 407.2,340.6 407.3,334.4 407.4,334.1 407.5,333.4 407.5,334.4 407.6,337.9 407.7,333.1 407.8,335.1 407.9,332.5 407.9,340.1 408.0,333.1 408.1,334.4 408.2,336.6 408.2,336.3 408.3,337.9 408.4,337.0 408.5,336.6 408.6,335.1 408.6,343.3 408.7,337.9 408.8,330.4 408.9,338.7 409.0,334.1 409.0,333.1 409.1,334.4 409.2,335.1 409.3,335.9 409.3,336.3 409.4,335.5 409.5,332.8 409.6,337.0 409.7,336.6 409.7,336.3 409.8,335.5 409.9,335.1 410.0,336.6 410.1,336.3 410.1,340.6 410.2,334.8 410.3,337.5 410.4,338.3 410.4,337.5 410.5,336.3 410.6,335.9 410.7,339.2 410.8,334.1 410.8,332.5 410.9,337.9 411.0,340.6 411.1,334.1 411.1,337.9 411.2,336.3 411.3,338.3 411.4,340.1 411.5,337.5 411.5,338.7 411.6,339.7 411.7,334.8 411.8,335.5 411.9,333.4 411.9,334.4 412.0,332.8 412.1,335.5 412.2,340.6 412.2,338.7 412.3,336.6 412.4,335.5 412.5,335.1 412.6,336.6 412.6,340.1 412.7,337.9 412.8,336.6 412.9,335.9 413.0,334.8 413.0,342.7 413.1,342.2 413.2,334.1 413.3,338.7 413.3,335.1 413.4,337.5 413.5,339.2 413.6,335.9 413.7,334.1 413.7,331.0 413.8,339.2 413.9,334.8 414.0,342.7 414.1,334.4 414.1,337.0 414.2,333.1 414.3,335.9 414.4,338.7 414.4,335.9 414.5,340.6 414.6,335.9 414.7,333.1 414.8,337.0 414.8,336.3 414.9,331.9 415.0,339.2 415.1,334.8 415.1,332.8 415.2,337.9 415.3,333.4 415.4,339.2 415.5,337.9 415.5,342.2 415.6,333.7 415.7,335.5 415.8,339.2 415.9,339.2 415.9,337.5 416.0,338.7 416.1,338.3 416.2,338.3 416.2,337.0 416.3,337.0 416.4,338.7 416.5,333.7 416.6,339.2 416.6,334.1 416.7,334.4 416.8,339.2 416.9,335.5 417.0,334.1 417.0,340.6 417.1,334.4 417.2,337.9 417.3,335.5 417.3,338.3 417.4,335.1 417.5,339.2 417.6,334.1 417.7,341.1 417.7,334.8 417.8,342.7 417.9,335.5 418.0,335.5 418.1,342.7 418.1,337.9 418.2,337.5 418.3,339.7 418.4,337.5 418.4,337.0 418.5,339.2 418.6,340.6 418.7,343.9 418.8,339.2 418.8,337.5 418.9,340.6 419.0,341.1 419.1,338.3 419.2,340.6 419.2,335.9 419.3,339.7 419.4,339.2 419.5,334.8 419.5,341.6 419.6,337.9 419.7,333.7 419.8,336.6 419.9,338.3 419.9,335.1 420.0,341.6 420.1,340.1 420.2,342.7 420.2,337.9 420.3,341.1 420.4,340.6 420.5,341.6 420.6,344.5 420.6,337.0 420.7,347.9 420.8,341.6 420.9,334.1 421.0,339.7 421.0,339.2 421.1,339.2 421.2,342.7 421.3,339.7 421.3,334.4 421.4,335.5 421.5,338.7 421.6,335.9 421.7,342.7 421.7,335.1 421.8,342.7 421.9,334.4 422.0,342.2 422.1,337.0 422.1,337.0 422.2,340.6 422.3,342.2 422.4,342.2 422.4,333.7 422.5,338.3 422.6,344.5 422.7,335.1 422.8,340.1 422.8,334.8 422.9,340.6 423.0,340.6 423.1,341.1 423.2,337.9 423.2,334.4 423.3,343.3 423.4,339.7 423.5,334.8 423.5,335.9 423.6,336.3 423.7,338.7 423.8,338.7 423.9,339.7 423.9,338.3 424.0,345.8 424.1,336.6 424.2,335.9 424.2,343.9 424.3,340.6 424.4,343.3 424.5,335.5 424.6,340.6 424.6,341.6 424.7,343.3 424.8,341.1 424.9,343.3 425.0,342.7 425.0,340.6 425.1,339.7 425.2,341.6 425.3,332.5 425.3,342.7 425.4,337.9 425.5,341.1 425.6,340.1 425.7,342.2 425.7,341.6 425.8,340.6 425.9,341.1 426.0,342.2 426.1,341.1 426.1,338.7 426.2,340.6 426.3,339.7 426.4,342.2 426.4,341.6 426.5,340.1 426.6,344.5 426.7,341.6 426.8,342.2 426.8,344.5 426.9,343.9 427.0,340.6 427.1,342.7 427.2,338.3 427.2,338.7 427.3,347.2 427.4,340.6 427.5,342.7 427.5,338.7 427.6,337.9 427.7,337.5 427.8,341.1 427.9,337.0 427.9,339.7 428.0,344.5 428.1,341.6 428.2,338.7 428.2,343.9 428.3,341.1 428.4,339.2 428.5,338.3 428.6,341.6 428.6,337.9 428.7,334.4 428.8,336.6 428.9,342.7 429.0,339.2 429.0,345.8 429.1,336.3 429.2,340.1 429.3,338.3 429.3,343.3 429.4,337.5 429.5,337.9 429.6,337.5 429.7,337.9 429.7,341.1 429.8,336.3 429.9,343.9 430.0,345.1 430.1,340.6 430.1,336.3 430.2,342.2 430.3,342.2 430.4,337.0 430.4,345.8 430.5,337.5 430.6,343.9 430.7,338.3 430.8,337.5 430.8,338.3 430.9,335.1 431.0,343.3 431.1,344.5 431.2,335.9 431.2,339.7 431.3,340.1 431.4,340.6 431.5,342.7 431.5,334.8 431.6,337.0 431.7,338.7 431.8,341.1 431.9,346.5 431.9,347.2 432.0,345.1 432.1,339.2 432.2,342.7 432.2,343.3 432.3,342.7 432.4,335.9 432.5,345.1 432.6,343.9 432.6,345.1 432.7,339.7 432.8,339.7 432.9,336.3 433.0,341.1 433.0,342.7 433.1,340.1 433.2,344.5 433.3,350.3 433.3,344.5 433.4,351.2 433.5,340.1 433.6,342.2 433.7,335.5 433.7,345.1 433.8,345.8 433.9,340.1 434.0,341.1 434.1,342.7 434.1,352.2 434.2,341.1 434.3,343.9 434.4,339.7 434.4,347.2 434.5,343.3 434.6,346.5 434.7,342.2 434.8,344.5 434.8,339.2 434.9,345.8 435.0,343.3 435.1,348.7 435.2,339.2 435.2,338.7 435.3,340.1 435.4,342.7 435.5,344.5 435.5,348.7 435.6,344.5 435.7,341.6 435.8,337.5 435.9,345.8 435.9,343.3 436.0,342.2 436.1,341.1 436.2,345.8 436.3,343.3 436.3,340.1 436.4,343.3 436.5,340.1 436.6,347.2 436.6,349.5 436.7,345.8 436.8,343.3 436.9,345.8 437.0,342.2 437.0,338.3 437.1,341.6 437.2,345.8 437.3,342.2 437.3,343.9 437.4,343.3 437.5,339.7 437.6,340.6 437.7,341.6 437.7,344.5 437.8,340.6 437.9,345.8 438.0,336.6 438.1,339.7 438.1,345.1 438.2,340.1 438.3,349.5 438.4,343.9 438.4,342.2 438.5,345.8 438.6,340.6 438.7,340.6 438.8,342.7 438.8,344.5 438.9,340.6 439.0,340.6 439.1,342.2 439.2,337.5 439.2,340.6 439.3,344.5 439.4,341.6 439.5,342.7 439.5,342.2 439.6,343.3 439.7,343.3 439.8,345.8 439.9,346.5 439.9,345.8 440.0,341.1 440.1,344.5 440.2,343.9 440.3,343.3 440.3,345.8 440.4,342.2 440.5,341.1 440.6,340.1 440.6,341.1 440.7,343.9 440.8,339.7 440.9,343.9 441.0,347.9 441.0,340.1 441.1,347.9 441.2,347.9 441.3,338.7 441.3,345.8 441.4,342.2 441.5,340.6 441.6,343.9 441.7,343.3 441.7,343.3 441.8,337.5 441.9,347.9 442.0,342.2 442.1,343.9 442.1,347.2 442.2,335.1 442.3,343.9 442.4,344.5 442.4,347.9 442.5,340.6 442.6,346.5 442.7,347.9 442.8,342.7 442.8,344.5 442.9,343.3 443.0,339.2 443.1,343.3 443.2,338.7 443.2,347.2 443.3,340.6 443.4,347.9 443.5,342.7 443.5,350.3 443.6,342.7 443.7,345.8 443.8,346.5 443.9,341.6 443.9,338.7 444.0,342.7 444.1,344.5 444.2,345.1 444.3,342.7 444.3,347.2 444.4,342.2 444.5,343.9 444.6,343.9 444.6,342.7 444.7,343.9 444.8,352.2" fill="none" stroke="none" marker-start="url(#mm)" marker-mid="url(#mm)" marker-end="url(#mm)"/>
<polyline clip-path="url(#ce)" points="288.0,258.7 288.1,262.4 288.2,266.0 288.2,269.0 288.3,271.2 288.4,274.5 288.5,276.8 288.5,279.3 288.6,281.8 288.7,282.8 288.8,283.3 288.9,285.4 288.9,286.8 289.0,288.6 289.1,288.8 289.2,289.1 289.3,290.1 289.3,291.8 289.4,290.8 289.5,292.0 289.6,291.8 289.6,292.8 289.7,293.2 289.8,294.1 289.9,294.1 290.0,293.2 290.0,294.1 290.1,294.6 290.2,294.2 290.3,296.5 290.4,296.0 290.4,296.9 290.5,295.8 290.6,297.2 290.7,297.4 290.7,298.0 290.8,297.8 290.9,297.7 291.0,298.0 291.1,299.1 291.1,299.2 291.2,301.0 291.3,298.6 291.4,300.2 291.5,300.4 291.5,301.3 291.6,301.4 291.7,300.2 291.8,303.3 291.8,302.2 291.9,303.5 292.0,302.9 292.1,302.8 292.2,302.0 292.2,304.0 292.3,303.5 292.4,304.5 292.5,303.7 292.5,304.6 292.6,305.1 292.7,308.3 292.8,307.1 292.9,304.8 292.9,306.4 293.0,307.4 293.1,307.9 293.2,306.4 293.3,306.6 293.3,309.8 293.4,307.6 293.5,306.0 293.6,307.9 293.6,308.7 293.7,309.7 293.8,310.8 293.9,308.1 294.0,311.1 294.0,309.6 294.1,310.7 294.2,310.5 294.3,312.8 294.4,311.5 294.4,312.7 294.5,311.2 294.6,313.1 294.7,313.7 294.7,312.9 294.8,311.4 294.9,312.2 295.0,310.3 295.1,311.3 295.1,312.7 295.2,311.8 295.3,315.8 295.4,316.3 295.5,316.6 295.5,315.2 295.6,314.0 295.7,316.6 295.8,316.2 295.8,316.6 295.9,315.8 296.0,316.2 296.1,316.4 296.2,316.4 296.2,316.4 296.3,314.8 296.4,316.1 296.5,317.5 296.5,317.8 296.6,319.7 296.7,318.1 296.8,316.9 296.9,318.7 296.9,317.8 297.0,318.1 297.1,317.2 297.2,319.4 297.3,315.5 297.3,320.1 297.4,318.9 297.5,317.1 297.6,318.8 297.6,318.9 297.7,319.1 297.8,319.1 297.9,320.6 298.0,320.9 298.0,321.4 298.1,319.4 298.2,322.6 298.3,318.8 298.4,319.4 298.4,324.4 298.5,320.9 298.6,325.2 298.7,322.6 298.7,322.9 298.8,325.0 298.9,323.1 299.0,322.4 299.1,325.0 299.1,323.1 299.2,325.0 299.3,325.0 299.4,327.2 299.5,324.6 299.5,323.3 299.6,324.0 299.7,323.8 299.8,323.1 299.8,323.7 299.9,324.8 300.0,323.5 300.1,325.0 300.2,325.8 300.2,323.5 300.3,325.0 300.4,326.7 300.5,325.8 300.6,326.1 300.6,326.1 300.7,323.7 300.8,324.0 300.9,331.0 300.9,328.6 301.0,326.7 301.1,328.8 301.2,326.9 301.3,328.3 301.3,324.4 301.4,325.2 301.5,329.3 301.6,326.1 301.6,326.9 301.7,328.6 301.8,329.3 301.9,329.6 302.0,324.8 302.0,330.7 302.1,326.3 302.2,329.1 302.3,326.7 302.4,330.1 302.4,328.3 302.5,332.8 302.6,328.6 302.7,329.9 302.7,329.9 302.8,331.3 302.9,328.3 303.0,330.1 303.1,328.3 303.1,331.9 303.2,328.8 303.3,332.2 303.4,334.4 303.5,327.2 303.5,328.3 303.6,331.3 303.7,328.3 303.8,336.3 303.8,333.4 303.9,330.7 304.0,331.0 304.1,331.9 304.2,331.3 304.2,331.0 304.3,334.4 304.4,338.7 304.5,333.1 304.6,329.3 304.6,333.7 304.7,329.6 304.8,340.1 304.9,337.9 304.9,331.9 305.0,331.9 305.1,331.6 305.2,331.9 305.3,333.7 305.3,333.1 305.4,329.3 305.5,333.1 305.6,331.9 305.6,329.9 305.7,334.4 305.8,338.7 305.9,337.0 306.0,332.5 306.0,337.5 306.1,336.6 306.2,333.4 306.3,334.1 306.4,333.1 306.4,335.1 306.5,332.2 306.6,334.8 306.7,337.9 306.7,333.7 306.8,336.3 306.9,334.8 307.0,334.4 307.1,336.6 307.1,337.0 307.2,337.0 307.3,339.2 307.4,337.9 307.5,337.9 307.5,337.0 307.6,340.6 307.7,340.6 307.8,335.1 307.8,338.7 307.9,330.4 308.0,341.6 308.1,334.1 308.2,337.0 308.2,339.7 308.3,337.0 308.4,334.4 308.5,337.9 308.6,337.5 308.6,340.1 308.7,336.3 308.8,339.2 308.9,337.0 308.9,344.5 309.0,342.7 309.1,337.5 309.2,339.7 309.3,341.1 309.3,338.7 309.4,339.2 309.5,339.7 309.6,343.9 309.6,335.1 309.7,340.1 309.8,337.9 309.9,348.7 310.0,339.7 310.0,339.2 310.1,345.1 310.2,345.8 310.3,338.7 310.4,341.6 310.4,339.2 310.5,339.2 310.6,341.1 310.7,341.1 310.7,341.6 310.8,345.1 310.9,337.0 311.0,339.7 311.1,336.3 311.1,345.8 311.2,343.9 311.3,345.1 311.4,339.7 311.5,341.1 311.5,344.5 311.6,342.2 311.7,346.5 311.8,341.1 311.8,345.8 311.9,342.7 312.0,346.5 312.1,343.3 312.2,337.9 312.2,340.6 312.3,343.9 312.4,340.1 312.5,348.7 312.6,338.7 312.6,345.1 312.7,347.2 312.8,339.2 312.9,347.2 312.9,341.6 313.0,343.3 313.1,343.9 313.2,342.7 313.3,346.5 313.3,341.1 313.4,356.5 313.5,342.2 313.6,347.2 313.6,345.1 313.7,347.2 313.8,345.1 313.9,352.2 314.0,346.5 314.0,342.7 314.1,343.9 314.2,345.8 314.3,347.2 314.4,343.3 314.4,344.5 314.5,351.2 314.6,351.2 314.7,345.8 314.7,344.5 314.8,346.5 314.9,344.5 315.0,349.5 315.1,349.5 315.1,346.5 315.2,349.5 315.3,347.2 315.4,352.2 315.5,347.2 315.5,341.6 315.6,350.3 315.7,359.2 315.8,343.3 315.8,344.5 315.9,344.5 316.0,350.3 316.1,342.2 316.2,352.2 316.2,353.1 316.3,351.2 316.4,355.3 316.5,347.9 316.6,353.1 316.6,345.8 316.7,343.9 316.8,349.5 316.9,350.3 316.9,354.2 317.0,352.2 317.1,352.2 317.2,347.2 317.3,342.7 317.3,354.2 317.4,351.2 317.5,348.7 317.6,354.2 317.7,343.9 317.7,349.5 317.8,348.7 317.9,366.2 318.0,342.7 318.0,353.1 318.1,349.5 318.2,356.5 318.3,347.9 318.4,362.4 318.4,353.1 318.5,345.1 318.6,355.3 318.7,345.8 318.7,353.1 318.8,349.5 318.9,354.2 319.0,353.1 319.1,352.2 319.1,346.5 319.2,348.7 319.3,356.5 319.4,354.2 319.5,345.1 319.5,351.2 319.6,352.2 319.7,347.2 319.8,346.5 319.8,349.5 319.9,362.4 320.0,347.9 320.1,351.2 320.2,357.8 320.2,352.2 320.3,362.4 320.4,349.5 320.5,353.1 320.6,362.4 320.6,356.5 320.7,350.3 320.8,347.9 320.9,355.3 320.9,353.1 321.0,350.3 321.1,357.8 321.2,350.3 321.3,354.2 321.3,356.5 321.4,354.2 321.5,350.3 321.6,356.5 321.7,359.2 321.7,359.2 321.8,347.9 321.9,360.7 322.0,356.5 322.0,355.3 322.1,355.3 322.2,355.3 322.3,354.2 322.4,347.2 322.4,355.3 322.5,355.3 322.6,359.2 322.7,356.5 322.7,359.2 322.8,350.3 322.9,355.3 323.0,351.2 323.1,360.7 323.1,362.4 323.2,350.3 323.3,359.2 323.4,359.2 323.5,351.2 323.5,357.8 323.6,347.9 323.7,355.3 323.8,359.2 323.8,359.2 323.9,360.7 324.0,362.4 324.1,355.3 324.2,357.8 324.2,357.8 324.3,347.9 324.4,364.2 324.5,364.2 324.6,352.2 324.6,350.3 324.7,352.2 324.8,357.8 324.9,364.2 324.9,357.8 325.0,374.4 325.1,359.2 325.2,354.2 325.3,360.7 325.3,364.2 325.4,359.2 325.5,366.2 325.6,368.5 325.7,360.7 325.7,374.4 325.8,355.3 325.9,364.2 326.0,355.3 326.0,356.5 326.1,355.3 326.2,356.5 326.3,353.1 326.4,368.5 326.4,368.5 326.5,366.2 326.6,364.2 326.7,359.2 326.7,354.2 326.8,364.2 326.9,371.2 327.0,357.8 327.1,360.7 327.1,364.2 327.2,356.5 327.3,357.8 327.4,360.7 327.5,353.1 327.5,353.1 327.6,359.2 327.7,362.4 327.8,371.2 327.8,357.8 327.9,366.2 328.0,359.2 328.1,360.7 328.2,371.2 328.2,364.2 328.3,362.4 328.4,354.2 328.5,366.2 328.6,366.2 328.6,371.2 328.7,356.5 328.8,359.2 328.9,366.2 328.9,355.3 329.0,349.5 329.1,368.5 329.2,359.2 329.3,359.2 329.3,364.2 329.4,362.4 329.5,362.4 329.6,354.2 329.7,368.5 329.7,366.2 329.8,360.7 329.9,362.4 330.0,360.7 330.0,359.2 330.1,366.2 330.2,357.8 330.3,362.4 330.4,354.2 330.4,362.4 330.5,371.2 330.6,371.2 330.7,364.2 330.7,364.2 330.8,359.2 330.9,366.2 331.0,362.4 331.1,374.4 331.1,362.4 331.2,364.2 331.3,360.7 331.4,357.8 331.5,366.2 331.5,357.8 331.6,364.2 331.7,366.2 331.8,366.2 331.8,355.3 331.9,374.4 332.0,362.4 332.1,360.7 332.2,390.3 332.2,364.2 332.3,368.5 332.4,374.4 332.5,364.2 332.6,374.4 332.6,368.5 332.7,362.4 332.8,364.2 332.9,362.4 332.9,371.2 333.0,360.7 333.1,383.2 333.2,364.2 333.3,366.2 333.3,371.2 333.4,362.4 333.5,374.4 333.6,359.2 333.7,368.5 333.7,366.2 333.8,359.2 333.9,366.2 334.0,366.2 334.0,374.4 334.1,368.5 334.2,362.4 334.3,364.2 334.4,353.1 334.4,374.4 334.5,371.2 334.6,368.5 334.7,374.4 334.7,374.4 334.8,371.2 334.9,374.4 335.0,383.2 335.1,359.2 335.1,371.2 335.2,371.2 335.3,374.4 335.4,368.5 335.5,366.2 335.5,378.2 335.6,364.2 335.7,364.2 335.8,368.5 335.8,366.2 335.9,390.3 336.0,366.2 336.1,374.4 336.2,362.4 336.2,371.2 336.3,364.2 336.4,366.2 336.5,378.2 336.6,378.2 336.6,371.2 336.7,362.4 336.8,366.2 336.9,374.4 336.9,360.7 337.0,362.4 337.1,378.2 337.2,378.2 337.3,368.5 337.3,378.2 337.4,371.2 337.5,378.2 337.6,368.5 337.7,383.2 337.7,366.2 337.8,366.2 337.9,374.4 338.0,378.2 338.0,366.2 338.1,402.3 338.2,390.3 338.3,368.5 338.4,374.4 338.4,374.4 338.5,371.2 338.6,366.2 338.7,366.2 338.8,383.2 338.8,374.4 338.9,368.5 339.0,371.2 339.1,362.4 339.1,378.2 339.2,374.4 339.3,378.2 339.4,378.2 339.5,371.2 339.5,368.5 339.6,378.2 339.7,383.2 339.8,368.5 339.8,378.2 339.9,374.4 340.0,368.5 340.1,378.2 340.2,378.2 340.2,390.3 340.3,374.4 340.5,374.4 340.6,390.3 340.6,390.3 340.7,374.4 340.8,383.2 340.9,362.4 340.9,371.2 341.0,374.4 341.1,364.2 341.2,390.3 341.3,364.2 341.3,390.3 341.4,368.5 341.5,368.5 341.6,366.2 341.7,378.2 341.7,383.2 341.8,374.4 341.9,374.4 342.0,374.4 342.0,378.2 342.1,378.2 342.2,364.2 342.3,374.4 342.4,374.4 342.4,362.4 342.5,383.2 342.6,371.2 342.7,378.2 342.8,378.2 342.8,390.3 342.9,371.2 343.0,378.2 343.1,402.3 343.1,383.2 343.2,360.7 343.3,368.5 343.4,374.4 343.5,378.2 343.5,383.2 343.6,366.2 343.7,383.2 343.8,383.2 343.8,374.4 343.9,390.3 344.0,390.3 344.2,366.2 344.2,374.4 344.3,371.2 344.4,383.2 344.5,364.2 344.6,368.5 344.6,378.2 344.7,383.2 344.8,374.4 344.9,374.4 344.9,378.2 345.0,368.5 345.1,383.2 345.2,378.2 345.3,390.3 345.3,374.4 345.4,378.2 345.5,368.5 345.6,378.2 345.7,368.5 345.7,368.5 345.8,402.3 345.9,371.2 346.0,371.2 346.0,378.2 346.1,374.4 346.2,374.4 346.3,390.3 346.4,378.2 346.4,383.2 346.5,364.2 346.6,374.4 346.7,383.2 346.8,374.4 346.8,374.4 346.9,390.3 347.0,390.3 347.1,383.2 347.1,378.2 347.2,390.3 347.3,390.3 347.4,362.4 347.5,368.5 347.5,371.2 347.6,374.4 347.7,374.4 347.8,383.2 347.8,360.7 347.9,374.4 348.0,366.2 348.1,378.2 348.2,366.2 348.2,383.2 348.3,383.2 348.4,374.4 348.5,383.2 348.6,383.2 348.6,383.2 348.7,371.2 348.8,383.2 348.9,390.3 348.9,383.2 349.0,374.4 349.1,366.2 349.2,383.2 349.3,374.4 349.3,390.3 349.4,390.3 349.5,374.4 349.6,383.2 349.7,402.3 349.7,371.2 349.8,374.4 349.9,383.2 350.0,383.2 350.0,390.3 350.1,402.3 350.2,378.2 350.3,390.3 350.4,383.2 350.4,383.2 350.5,378.2 350.6,378.2 350.7,402.3 350.8,383.2 350.8,378.2 350.9,374.4 351.0,378.2 351.1,374.4 351.1,378.2 351.2,374.4 351.3,402.3 351.5,371.2 351.5,378.2 351.6,383.2 351.7,402.3 351.8,378.2 351.8,390.3 351.9,383.2 352.0,378.2 352.1,383.2 352.2,390.3 352.2,383.2 352.3,366.2 352.4,374.4 352.5,371.2 352.6,378.2 352.6,374.4 352.7,374.4 352.8,378.2 352.9,368.5 352.9,390.3 353.0,371.2 353.1,390.3 353.2,383.2 353.3,390.3 353.3,390.3 353.4,366.2 353.5,368.5 353.6,390.3 353.7,390.3 353.7,390.3 353.8,390.3 353.9,374.4 354.0,390.3 354.0,378.2 354.1,378.2 354.2,374.4 354.3,374.4 354.4,378.2 354.4,383.2 354.5,374.4 354.6,371.2 354.7,378.2 354.8,383.2 354.9,390.3 355.0,378.2 355.1,390.3 355.1,368.5 355.2,371.2 355.3,378.2 355.4,371.2 355.5,378.2 355.6,390.3 355.8,390.3 355.8,390.3 355.9,383.2 356.0,402.3 356.1,378.2 356.2,402.3 356.2,371.2 356.3,368.5 356.4,383.2 356.5,383.2 356.6,390.3 356.6,390.3 356.7,378.2 356.9,371.2 356.9,374.4 357.0,366.2 357.1,374.4 357.2,390.3 357.3,383.2 357.3,378.2 357.4,402.3 357.5,383.2 357.6,383.2 357.7,374.4 357.7,390.3 357.8,383.2 357.9,402.3 358.0,390.3 358.0,383.2 358.1,383.2 358.3,390.3 358.4,402.3 358.5,371.2 358.6,383.2 358.7,390.3 358.8,402.3 358.8,390.3 358.9,390.3 359.0,390.3 359.1,378.2 359.1,390.3 359.2,383.2 359.4,383.2 359.5,390.3 359.5,390.3 359.6,383.2 359.7,402.3 359.8,383.2 359.9,383.2 359.9,390.3 360.0,390.3 360.1,371.2 360.2,390.3 360.2,383.2 360.3,383.2 360.4,402.3 360.5,402.3 360.6,390.3 360.6,390.3 360.7,378.2 360.8,402.3 360.9,378.2 360.9,374.4 361.0,383.2 361.1,383.2 361.2,383.2 361.3,383.2 361.3,383.2 361.4,402.3 361.6,383.2 361.7,402.3 361.7,383.2 361.8,371.2 361.9,374.4 362.0,402.3 362.0,378.2 362.1,378.2 362.2,383.2 362.3,383.2 362.4,402.3 362.4,390.3 362.5,378.2 362.6,378.2 362.7,378.2 362.8,371.2 362.8,402.3 363.1,402.3 363.1,383.2 363.2,378.2 363.3,374.4 363.4,383.2 363.5,383.2 363.5,390.3 363.6,402.3 363.8,390.3 363.9,374.4 363.9,402.3 364.0,383.2 364.1,383.2 364.2,378.2 364.2,383.2 364.4,390.3 364.5,374.4 364.6,390.3 364.6,390.3 364.7,378.2 364.8,371.2 364.9,374.4 364.9,378.2 365.0,402.3 365.1,366.2 365.2,378.2 365.3,402.3 365.4,364.2 365.5,383.2 365.6,383.2 365.7,390.3 365.7,383.2 365.8,378.2 365.9,390.3 366.0,378.2 366.0,371.2 366.1,378.2 366.2,374.4 366.3,378.2 366.4,383.2 366.4,378.2 366.6,368.5 366.7,390.3 366.8,371.2 366.9,390.3 367.0,402.3 367.1,390.3 367.2,390.3 367.3,383.2 367.4,390.3 367.5,390.3 367.5,390.3 367.6,390.3 367.7,402.3 367.9,402.3 367.9,383.2 368.0,383.2 368.1,390.3 368.2,368.5 368.2,374.4 368.3,374.4 368.4,371.2 368.5,402.3 368.6,402.3 368.6,383.2 368.7,390.3 368.8,383.2 368.9,378.2 368.9,402.3 369.0,378.2 369.1,378.2 369.2,390.3 369.3,383.2 369.4,378.2 369.5,390.3 369.6,383.2 369.7,371.2 369.7,383.2 369.8,378.2 369.9,371.2 370.0,402.3 370.1,402.3 370.2,402.3 370.4,378.2 370.4,390.3 370.5,402.3 370.6,402.3 370.7,390.3 370.8,378.2 370.8,390.3 370.9,378.2 371.0,390.3 371.1,390.3 371.1,378.2 371.2,390.3 371.3,402.3 371.4,402.3 371.5,378.2 371.5,402.3 371.6,374.4 371.7,402.3 371.8,378.2 371.9,390.3 371.9,383.2 372.0,390.3 372.1,402.3 372.2,390.3 372.2,383.2 372.3,383.2 372.4,390.3 372.5,402.3 372.6,390.3 372.6,374.4 372.7,402.3 372.8,390.3 372.9,402.3 373.0,390.3 373.1,390.3 373.2,390.3 373.3,402.3 373.3,390.3 373.4,383.2 373.5,390.3 373.7,390.3 373.7,378.2 373.8,383.2 374.0,374.4 374.0,402.3 374.2,402.3 374.3,383.2 374.4,402.3 374.5,390.3 374.7,390.3 374.8,378.2 374.8,378.2 374.9,390.3 375.1,383.2 375.1,390.3 375.2,390.3 375.3,374.4 375.4,390.3 375.5,402.3 375.5,378.2 375.6,383.2 375.7,383.2 375.8,390.3 375.9,378.2 375.9,374.4 376.0,371.2 376.1,402.3 376.2,402.3 376.2,390.3 376.3,402.3 376.4,390.3 376.5,383.2 376.6,383.2 376.6,383.2 376.7,383.2 376.8,364.2 376.9,383.2 377.0,378.2 377.0,383.2 377.1,402.3 377.2,378.2 377.3,390.3 377.3,378.2 377.4,383.2 377.5,383.2 377.6,402.3 377.7,383.2 377.7,378.2 377.8,378.2 377.9,383.2 378.0,383.2 378.0,383.2 378.1,378.2 378.2,383.2 378.3,402.3 378.4,402.3 378.4,383.2 378.7,402.3 378.8,402.3 378.8,366.2 378.9,371.2 379.0,378.2 379.1,378.2 379.1,390.3 379.2,383.2 379.3,383.2 379.5,383.2 379.5,383.2 379.7,390.3 379.8,378.2 379.9,402.3 379.9,402.3 380.0,383.2 380.1,390.3 380.2,383.2 380.3,402.3 380.4,402.3 380.5,378.2 380.6,378.2 380.6,402.3 380.7,378.2 380.8,390.3 380.9,402.3 381.0,378.2 381.0,390.3 381.1,390.3 381.2,383.2 381.3,390.3 381.3,390.3 381.4,402.3 381.5,383.2 381.6,383.2 381.7,402.3 381.7,402.3 381.8,383.2 381.9,378.2 382.0,402.3 382.0,402.3 382.1,390.3 382.2,383.2 382.3,402.3 382.4,390.3 382.4,390.3 382.5,390.3 382.6,378.2 382.7,402.3 382.8,390.3 382.9,402.3 383.0,378.2 383.1,390.3 383.1,402.3 383.2,402.3 383.3,402.3 383.4,390.3 383.5,383.2 383.5,383.2 383.6,378.2 383.7,390.3 383.9,402.3 384.0,390.3 384.1,402.3 384.2,390.3 384.2,378.2 384.3,378.2 384.4,390.3 384.5,390.3 384.6,402.3 384.6,390.3 384.8,390.3 385.0,390.3 385.1,390.3 385.2,390.3 385.3,378.2 385.5,383.2 385.6,402.3 385.7,374.4 385.8,390.3 385.9,390.3 386.0,390.3 386.0,383.2 386.1,402.3 386.2,402.3 386.3,378.2 386.4,383.2 386.4,402.3 386.5,383.2 386.6,402.3 386.7,402.3 386.8,378.2 386.9,390.3 387.0,390.3 387.1,390.3 387.2,390.3 387.3,390.3 387.4,390.3 387.5,383.2 387.5,402.3 387.6,402.3 387.7,390.3 387.8,402.3 387.9,402.3 387.9,402.3 388.0,390.3 388.1,383.2 388.2,390.3 388.3,374.4 388.4,390.3 388.5,402.3 388.6,390.3 388.6,390.3 388.9,378.2 389.0,390.3 389.0,383.2 389.1,402.3 389.2,402.3 389.3,390.3 389.3,378.2 389.4,383.2 389.5,402.3 389.7,383.2 389.7,383.2 389.9,390.3 390.0,374.4 390.0,390.3 390.1,383.2 390.2,383.2 390.3,390.3 390.4,383.2 390.5,402.3 390.7,390.3 390.8,390.3 390.8,402.3 390.9,402.3 391.1,383.2 391.1,390.3 391.2,390.3 391.4,390.3 391.5,383.2 391.5,383.2 391.6,390.3 391.7,383.2 391.8,383.2 391.9,383.2 391.9,402.3 392.0,402.3 392.1,390.3 392.2,378.2 392.2,390.3 392.3,383.2 392.4,378.2 392.6,390.3 392.6,390.3 392.8,378.2 392.9,378.2 393.0,383.2 393.0,402.3 393.1,402.3 393.2,378.2 393.3,383.2 393.3,383.2 393.4,402.3 393.5,374.4 393.6,402.3 393.7,383.2 393.7,402.3 393.8,390.3 394.0,402.3 394.0,390.3 394.1,378.2 394.2,383.2 394.3,390.3 394.4,390.3 394.4,383.2 394.5,402.3 394.6,402.3 394.7,390.3 394.8,390.3 394.8,402.3 394.9,383.2 395.0,402.3 395.1,390.3 395.1,374.4 395.2,390.3 395.3,402.3 395.4,383.2 395.5,402.3 395.5,390.3 395.6,390.3 395.7,383.2 395.8,402.3 395.9,402.3 395.9,383.2 396.0,402.3 396.1,402.3 396.2,402.3 396.2,390.3 396.3,402.3 396.4,390.3 396.5,390.3 396.6,383.2 396.6,402.3 396.7,402.3 396.8,383.2 396.9,402.3 397.0,374.4 397.0,402.3 397.1,383.2 397.2,390.3 397.3,378.2 397.3,383.2 397.4,383.2 397.5,390.3 397.6,402.3 397.7,390.3 397.7,402.3 398.1,402.3 398.1,374.4 398.2,390.3 398.3,390.3 398.4,378.2 398.4,378.2 398.5,402.3 398.7,383.2 398.8,383.2 398.8,383.2 399.1,378.2 399.1,402.3 399.2,390.3 399.3,390.3 399.4,390.3 399.5,402.3 399.6,378.2 399.7,402.3 399.8,383.2 399.9,390.3 399.9,402.3 400.0,402.3 400.1,390.3 400.2,402.3 400.2,390.3 400.3,402.3 400.4,390.3 400.6,390.3 400.6,378.2 400.7,390.3 400.8,402.3 400.9,390.3 401.0,390.3 401.1,390.3 401.2,390.3 401.3,390.3 401.3,390.3 401.4,374.4 401.5,390.3 401.6,402.3 401.7,390.3 401.7,402.3 401.8,390.3 401.9,402.3 402.0,383.2 402.1,378.2 402.1,402.3 402.2,390.3 402.3,402.3 402.4,383.2 402.6,390.3 402.7,390.3 402.8,378.2 402.8,383.2 403.0,374.4 403.1,402.3 403.1,378.2 403.2,402.3 403.3,402.3 403.4,402.3 403.5,390.3 403.6,390.3 403.7,383.2 403.8,402.3 403.9,390.3 403.9,402.3 404.0,366.2 404.1,371.2 404.2,402.3 404.2,402.3 404.3,390.3 404.4,402.3 404.5,383.2 404.6,374.4 404.6,390.3 404.7,390.3 404.8,390.3 404.9,402.3 405.0,390.3 405.0,402.3 405.1,383.2 405.2,378.2 405.4,383.2 405.5,378.2 405.8,402.3 405.9,383.2 406.0,390.3 406.1,383.2 406.1,378.2 406.2,402.3 406.3,390.3 406.4,402.3 406.4,383.2 406.5,402.3 406.6,374.4 406.7,402.3 406.8,383.2 406.8,402.3 406.9,374.4 407.0,378.2 407.1,390.3 407.1,402.3 407.2,402.3 407.3,390.3 407.5,390.3 407.6,383.2 407.7,378.2 407.8,390.3 407.9,378.2 407.9,383.2 408.0,371.2 408.2,390.3 408.2,383.2 408.3,402.3 408.4,402.3 408.5,402.3 408.6,402.3 408.6,390.3 408.7,402.3 409.0,390.3 409.1,383.2 409.2,383.2 409.3,402.3 409.3,390.3 409.4,390.3 409.5,390.3 409.6,390.3 409.7,390.3 409.7,390.3 409.8,402.3 409.9,383.2 410.0,390.3 410.1,402.3 410.2,378.2 410.3,402.3 410.4,402.3 410.4,390.3 410.6,402.3 410.7,390.3 410.8,371.2 410.8,402.3 410.9,390.3 411.1,402.3 411.2,402.3 411.3,390.3 411.5,402.3 411.5,378.2 411.6,383.2 411.7,378.2 411.8,378.2 411.9,390.3 411.9,374.4 412.1,383.2 412.2,390.3 412.2,383.2 412.3,378.2 412.4,402.3 412.5,402.3 412.6,402.3 412.6,402.3 412.7,390.3 412.8,402.3 412.9,390.3 413.0,390.3 413.1,374.4 413.2,402.3 413.3,378.2 413.3,402.3 413.4,390.3 413.5,390.3 413.6,402.3 413.7,383.2 413.7,390.3 413.9,402.3 414.0,378.2 414.1,390.3 414.2,390.3 414.3,402.3 414.4,390.3 414.4,374.4 414.5,402.3 414.6,402.3 414.7,402.3 414.8,390.3 414.8,390.3 415.0,378.2 415.1,402.3 415.1,402.3 415.2,402.3 415.3,402.3 415.4,390.3 415.5,374.4 415.5,402.3 415.6,402.3 415.7,378.2 415.9,383.2 415.9,390.3 416.0,390.3 416.1,402.3 416.2,390.3 416.2,383.2 416.3,390.3 416.6,390.3 416.6,402.3 416.7,383.2 416.8,390.3 416.9,383.2 417.0,390.3 417.1,402.3 417.2,402.3 417.3,390.3 417.3,383.2 417.5,390.3 417.7,402.3 417.7,390.3 417.8,390.3 417.9,402.3 418.0,402.3 418.1,390.3 418.2,390.3 418.3,402.3 418.4,390.3 418.4,390.3 418.5,402.3 418.6,402.3 418.7,390.3 418.8,402.3 419.1,383.2 419.2,383.2 419.3,402.3 419.4,390.3 419.5,390.3 419.5,390.3 419.6,390.3 419.7,402.3 419.8,402.3 419.9,402.3 420.0,390.3 420.1,390.3 420.2,383.2 420.2,402.3 420.3,378.2 420.5,402.3 420.6,390.3 420.6,390.3 420.8,390.3 420.9,402.3 421.0,402.3 421.0,378.2 421.1,402.3 421.3,383.2 421.4,402.3 421.5,402.3 421.6,390.3 421.7,390.3 421.9,402.3 422.0,390.3 422.1,402.3 422.1,390.3 422.2,402.3 422.3,402.3 422.4,390.3 422.5,402.3 422.6,383.2 422.8,402.3 422.8,383.2 423.0,390.3 423.1,402.3 423.2,383.2 423.3,383.2 423.5,390.3 423.7,390.3 423.9,402.3 424.0,374.4 424.1,390.3 424.2,390.3 424.3,383.2 424.4,383.2 424.5,374.4 424.6,402.3 424.7,390.3 424.8,390.3 424.9,383.2 425.0,383.2 425.0,390.3 425.1,390.3 425.2,402.3 425.3,402.3 425.3,402.3 425.4,402.3 425.5,390.3 425.6,390.3 425.7,402.3 425.7,383.2 425.8,390.3 425.9,402.3 426.1,402.3 426.2,383.2 426.3,374.4 426.5,402.3 426.7,402.3 426.8,390.3 426.8,402.3 426.9,402.3 427.0,402.3 427.1,390.3 427.2,402.3 427.3,378.2 427.5,390.3 427.5,390.3 427.7,390.3 427.8,402.3 427.9,402.3 428.0,402.3 428.1,390.3 428.2,390.3 428.3,402.3 428.4,402.3 428.5,390.3 428.6,390.3 428.6,390.3 428.8,390.3 428.9,402.3 429.0,402.3 429.2,383.2 429.3,390.3 429.3,383.2 429.4,383.2 429.5,383.2 429.6,378.2 429.7,402.3 429.7,402.3 429.9,383.2 430.0,383.2 430.3,402.3 430.4,402.3 430.4,402.3 430.7,402.3 430.8,383.2 430.9,390.3 431.0,402.3 431.1,402.3 431.2,402.3 431.2,374.4 431.3,402.3 431.4,390.3 431.5,390.3 431.7,402.3 431.8,383.2 431.9,402.3 431.9,390.3 432.0,390.3 432.1,402.3 432.2,402.3 432.2,390.3 432.5,402.3 432.6,378.2 432.6,390.3 432.7,390.3 432.8,390.3 432.9,383.2 433.0,374.4 433.0,378.2 433.2,383.2 433.3,402.3 433.3,402.3 433.4,402.3 433.5,402.3 433.6,390.3 433.7,390.3 433.8,390.3 433.9,390.3 434.1,402.3 434.2,383.2 434.3,390.3 434.4,402.3 434.4,383.2 434.5,390.3 434.6,402.3 434.7,383.2 434.8,383.2 434.8,402.3 434.9,402.3 435.0,402.3 435.1,402.3 435.2,378.2 435.3,402.3 435.4,402.3 435.5,402.3 435.5,402.3 435.6,402.3 435.9,402.3 436.0,390.3 436.1,402.3 436.3,390.3 436.4,383.2 436.6,390.3 436.6,402.3 436.8,390.3 437.0,383.2 437.1,402.3 437.2,390.3 437.3,402.3 437.3,378.2 437.4,390.3 437.7,383.2 437.8,402.3 437.9,383.2 438.0,402.3 438.1,390.3 438.1,383.2 438.2,383.2 438.4,402.3 438.4,402.3 438.5,402.3 438.7,402.3 438.8,390.3 438.8,390.3 438.9,383.2 439.0,390.3 439.1,390.3 439.2,390.3 439.2,402.3 439.3,383.2 439.5,378.2 439.6,402.3 439.7,390.3 439.8,402.3 439.9,402.3 439.9,402.3 440.1,402.3 440.2,402.3 440.3,402.3 440.4,390.3 440.5,390.3 440.6,402.3 440.6,378.2 440.7,402.3 440.8,402.3 440.9,402.3 441.0,402.3 441.1,402.3 441.2,390.3 441.3,390.3 441.4,378.2 441.5,402.3 441.7,378.2 441.7,383.2 441.8,383.2 441.9,390.3 442.0,402.3 442.1,402.3 442.1,402.3 442.2,402.3 442.3,390.3 442.4,402.3 442.4,402.3 442.6,378.2 442.7,390.3 442.8,383.2 442.8,383.2 442.9,402.3 443.0,383.2 443.2,390.3 443.2,402.3 443.3,383.2 443.4,390.3 443.5,402.3 443.5,390.3 443.6,390.3 443.7,402.3 443.8,378.2 443.9,390.3 444.0,402.3 444.6,390.3 444.6,371.2" fill="none" stroke="none" marker-start="url(#ms)" marker-mid="url(#ms)" marker-end="url(#ms)"/>
<polyline clip-path="url(#ce)" points="288.0,260.0 288.1,263.9 288.2,267.7 288.2,272.3 288.3,276.1 288.4,279.9 288.5,283.3 288.5,286.6 288.6,288.9 288.7,291.5 288.8,296.4 288.9,296.8 288.9,299.4 289.0,300.9 289.1,301.0 289.2,303.8 289.3,304.4 289.3,306.0 289.4,309.0 289.5,308.1 289.6,308.2 289.6,309.7 289.7,308.9 289.8,311.4 289.9,312.0 290.0,313.5 290.0,314.6 290.1,313.0 290.2,315.4 290.3,315.1 290.4,313.4 290.4,315.7 290.5,314.9 290.6,316.8 290.7,314.1 290.7,318.9 290.8,317.5 290.9,318.5 291.0,320.4 291.1,321.6 291.1,319.4 291.2,318.3 291.3,319.1 291.4,318.3 291.5,317.5 291.5,319.7 291.6,320.9 291.7,322.9 291.8,323.7 291.8,323.5 291.9,324.2 292.0,325.6 292.1,322.9 292.2,327.2 292.2,324.6 292.3,324.6 292.4,326.5 292.5,324.8 292.5,328.3 292.6,326.7 292.7,326.1 292.8,325.4 292.9,326.5 292.9,326.9 293.0,327.9 293.1,323.7 293.2,326.1 293.3,327.6 293.3,326.3 293.4,328.6 293.5,331.3 293.6,328.1 293.6,328.8 293.7,333.1 293.8,333.7 293.9,334.1 294.0,327.9 294.0,327.4 294.1,334.1 294.2,331.0 294.3,328.3 294.4,332.5 294.4,331.0 294.5,330.7 294.6,336.3 294.7,331.6 294.7,329.9 294.8,329.9 294.9,331.0 295.0,331.3 295.1,329.1 295.1,331.3 295.2,341.1 295.3,333.7 295.4,333.4 295.5,334.8 295.5,335.5 295.6,332.5 295.7,333.4 295.8,329.1 295.8,335.5 295.9,330.4 296.0,333.1 296.1,337.0 296.2,331.9 296.2,337.0 296.3,341.1 296.4,339.7 296.5,329.9 296.5,330.1 296.6,338.3 296.7,334.8 296.8,331.6 296.9,332.8 296.9,334.4 297.0,339.7 297.1,340.1 297.2,337.5 297.3,334.1 297.3,338.3 297.4,334.1 297.5,335.1 297.6,339.7 297.6,331.0 297.7,336.6 297.8,337.9 297.9,341.6 298.0,344.5 298.0,339.2 298.1,340.6 298.2,338.3 298.3,339.2 298.4,337.5 298.4,343.9 298.5,338.3 298.6,342.2 298.7,340.1 298.7,336.3 298.8,343.9 298.9,339.2 299.0,342.2 299.1,340.1 299.1,342.2 299.2,339.7 299.3,343.9 299.4,336.6 299.5,340.6 299.5,347.9 299.6,341.1 299.7,342.2 299.8,339.7 299.8,342.2 299.9,341.1 300.0,344.5 300.1,343.9 300.2,348.7 300.2,343.3 300.3,339.7 300.4,343.3 300.5,353.1 300.6,346.5 300.6,342.2 300.7,343.3 300.8,341.6 300.9,343.3 300.9,345.1 301.0,343.9 301.1,347.2 301.2,341.6 301.3,342.7 301.3,343.9 301.4,339.7 301.5,343.3 301.6,345.1 301.6,342.7 301.7,345.1 301.8,347.2 301.9,347.2 302.0,344.5 302.0,343.9 302.1,344.5 302.2,350.3 302.3,346.5 302.4,344.5 302.4,340.6 302.5,354.2 302.6,345.1 302.7,348.7 302.7,355.3 302.8,348.7 302.9,343.3 303.0,351.2 303.1,339.2 303.1,349.5 303.2,352.2 303.3,349.5 303.4,352.2 303.5,353.1 303.5,351.2 303.6,346.5 303.7,347.2 303.8,343.9 303.8,350.3 303.9,347.2 304.0,350.3 304.1,351.2 304.2,345.1 304.2,344.5 304.3,344.5 304.4,356.5 304.5,349.5 304.6,350.3 304.6,354.2 304.7,350.3 304.8,354.2 304.9,350.3 304.9,347.2 305.0,354.2 305.1,349.5 305.2,362.4 305.3,352.2 305.3,355.3 305.4,351.2 305.5,355.3 305.6,356.5 305.6,351.2 305.7,351.2 305.8,356.5 305.9,356.5 306.0,356.5 306.0,356.5 306.1,349.5 306.2,349.5 306.3,352.2 306.4,346.5 306.4,349.5 306.5,350.3 306.6,355.3 306.7,354.2 306.7,360.7 306.8,345.8 306.9,353.1 307.0,357.8 307.1,352.2 307.1,360.7 307.2,362.4 307.3,353.1 307.4,360.7 307.5,351.2 307.5,354.2 307.6,362.4 307.7,360.7 307.8,360.7 307.8,355.3 307.9,353.1 308.0,347.9 308.1,357.8 308.2,357.8 308.2,354.2 308.3,352.2 308.4,357.8 308.5,360.7 308.6,353.1 308.6,345.8 308.7,347.2 308.8,353.1 308.9,359.2 308.9,360.7 309.0,353.1 309.1,359.2 309.2,359.2 309.3,357.8 309.3,359.2 309.4,352.2 309.5,354.2 309.6,355.3 309.6,355.3 309.7,356.5 309.8,359.2 309.9,362.4 310.0,352.2 310.0,354.2 310.1,357.8 310.2,357.8 310.3,374.4 310.4,354.2 310.4,355.3 310.5,360.7 310.6,357.8 310.7,364.2 310.7,362.4 310.8,353.1 310.9,355.3 311.0,350.3 311.1,371.2 311.1,360.7 311.2,366.2 311.3,359.2 311.4,353.1 311.5,366.2 311.5,356.5 311.6,357.8 311.7,355.3 311.8,364.2 311.8,359.2 311.9,357.8 312.0,356.5 312.1,353.1 312.2,354.2 312.2,368.5 312.3,362.4 312.4,359.2 312.5,354.2 312.6,364.2 312.6,364.2 312.7,357.8 312.8,359.2 312.9,368.5 312.9,371.2 313.0,360.7 313.1,356.5 313.2,362.4 313.3,368.5 313.3,360.7 313.4,362.4 313.5,360.7 313.6,354.2 313.6,360.7 313.7,362.4 313.8,356.5 313.9,368.5 314.0,357.8 314.0,364.2 314.1,368.5 314.2,359.2 314.3,364.2 314.4,362.4 314.4,364.2 314.5,355.3 314.6,371.2 314.7,357.8 314.7,368.5 314.8,374.4 314.9,364.2 315.0,359.2 315.1,366.2 315.1,362.4 315.2,371.2 315.3,360.7 315.4,402.3 315.5,364.2 315.5,364.2 315.6,359.2 315.7,378.2 315.8,368.5 315.8,371.2 315.9,378.2 316.0,368.5 316.1,371.2 316.2,362.4 316.2,357.8 316.3,371.2 316.4,362.4 316.5,362.4 316.6,364.2 316.6,366.2 316.7,368.5 316.8,368.5 316.9,356.5 316.9,362.4 317.0,362.4 317.1,371.2 317.2,366.2 317.3,364.2 317.3,383.2 317.4,371.2 317.5,359.2 317.6,368.5 317.7,362.4 317.7,371.2 317.8,364.2 317.9,360.7 318.0,366.2 318.0,356.5 318.1,374.4 318.2,360.7 318.3,383.2 318.4,366.2 318.4,374.4 318.5,362.4 318.6,356.5 318.7,368.5 318.7,362.4 318.8,378.2 318.9,366.2 319.0,374.4 319.1,368.5 319.1,360.7 319.2,362.4 319.3,378.2 319.4,368.5 319.5,368.5 319.5,362.4 319.6,364.2 319.7,364.2 319.8,364.2 319.8,371.2 319.9,354.2 320.0,366.2 320.1,362.4 320.2,368.5 320.2,368.5 320.3,378.2 320.4,364.2 320.5,366.2 320.6,366.2 320.6,371.2 320.7,362.4 320.8,378.2 320.9,402.3 320.9,402.3 321.0,374.4 321.1,383.2 321.2,374.4 321.3,374.4 321.3,366.2 321.4,371.2 321.5,364.2 321.6,378.2 321.7,374.4 321.7,378.2 321.8,378.2 321.9,374.4 322.0,374.4 322.0,390.3 322.1,368.5 322.2,368.5 322.3,366.2 322.4,378.2 322.4,368.5 322.5,383.2 322.6,368.5 322.7,374.4 322.7,390.3 322.8,368.5 322.9,374.4 323.0,360.7 323.1,378.2 323.1,371.2 323.2,371.2 323.3,378.2 323.4,368.5 323.5,364.2 323.5,378.2 323.6,362.4 323.7,402.3 323.8,368.5 323.8,362.4 323.9,374.4 324.0,366.2 324.1,378.2 324.2,378.2 324.2,366.2 324.3,374.4 324.4,368.5 324.5,383.2 324.6,371.2 324.6,371.2 324.7,374.4 324.8,359.2 324.9,368.5 324.9,374.4 325.0,374.4 325.1,378.2 325.2,364.2 325.3,366.2 325.3,374.4 325.4,374.4 325.5,368.5 325.6,374.4 325.7,378.2 325.7,378.2 325.8,368.5 325.9,390.3 326.0,359.2 326.0,374.4 326.1,390.3 326.2,366.2 326.3,390.3 326.4,371.2 326.4,362.4 326.5,378.2 326.6,383.2 326.7,368.5 326.7,383.2 326.8,374.4 326.9,368.5 327.0,371.2 327.1,390.3 327.1,374.4 327.2,402.3 327.3,371.2 327.4,366.2 327.5,368.5 327.5,374.4 327.6,371.2 327.7,374.4 327.8,374.4 327.8,371.2 327.9,402.3 328.0,402.3 328.1,368.5 328.2,402.3 328.2,368.5 328.3,378.2 328.4,374.4 328.5,390.3 328.6,362.4 328.6,371.2 328.7,390.3 328.8,402.3 328.9,364.2 328.9,378.2 329.0,378.2 329.1,390.3 329.2,368.5 329.3,383.2 329.3,383.2 329.4,371.2 329.5,383.2 329.6,383.2 329.7,390.3 329.7,368.5 329.8,374.4 329.9,368.5 330.0,390.3 330.0,402.3 330.1,371.2 330.2,371.2 330.3,383.2 330.4,378.2 330.4,383.2 330.5,368.5 330.6,371.2 330.7,368.5 330.7,371.2 330.8,368.5 330.9,368.5 331.0,390.3 331.1,368.5 331.1,362.4 331.2,390.3 331.3,378.2 331.5,374.4 331.5,402.3 331.6,378.2 331.7,371.2 331.8,390.3 331.8,378.2 331.9,368.5 332.0,383.2 332.1,402.3 332.2,366.2 332.2,378.2 332.3,402.3 332.4,390.3 332.5,366.2 332.6,383.2 332.6,378.2 332.7,371.2 332.8,371.2 332.9,383.2 332.9,374.4 333.0,368.5 333.1,374.4 333.3,374.4 333.3,374.4 333.4,378.2 333.5,383.2 333.6,378.2 333.7,390.3 333.7,378.2 333.8,402.3 333.9,374.4 334.0,402.3 334.0,378.2 334.1,374.4 334.2,378.2 334.3,402.3 334.4,368.5 334.4,378.2 334.5,402.3 334.6,371.2 334.7,378.2 334.7,383.2 334.8,371.2 334.9,364.2 335.0,378.2 335.1,383.2 335.1,390.3 335.2,368.5 335.3,383.2 335.4,374.4 335.5,402.3 335.5,378.2 335.6,371.2 335.7,378.2 335.8,366.2 335.8,402.3 335.9,383.2 336.0,390.3 336.1,383.2 336.2,374.4 336.2,374.4 336.3,378.2 336.4,371.2 336.5,374.4 336.6,374.4 336.6,383.2 336.7,383.2 336.8,371.2 336.9,371.2 336.9,383.2 337.0,378.2 337.1,383.2 337.2,374.4 337.3,390.3 337.3,390.3 337.4,390.3 337.5,368.5 337.6,402.3 337.7,383.2 337.7,390.3 337.8,371.2 337.9,378.2 338.0,371.2 338.0,402.3 338.1,390.3 338.2,390.3 338.3,374.4 338.4,378.2 338.4,383.2 338.5,366.2 338.6,390.3 338.7,383.2 338.8,390.3 338.8,374.4 338.9,402.3 339.0,378.2 339.1,378.2 339.1,378.2 339.2,374.4 339.3,390.3 339.4,371.2 339.5,383.2 339.5,390.3 339.6,374.4 339.7,371.2 339.8,378.2 339.8,383.2 339.9,371.2 340.0,383.2 340.1,402.3 340.2,378.2 340.2,383.2 340.3,378.2 340.4,402.3 340.5,383.2 340.6,402.3 340.6,374.4 340.7,374.4 340.8,402.3 340.9,374.4 340.9,383.2 341.0,378.2 341.1,378.2 341.2,390.3 341.3,383.2 341.3,378.2 341.4,383.2 341.5,383.2 341.6,383.2 341.7,383.2 341.7,390.3 341.8,371.2 341.9,378.2 342.0,383.2 342.0,374.4 342.1,374.4 342.2,390.3 342.3,390.3 342.4,383.2 342.4,368.5 342.5,374.4 342.6,378.2 342.7,364.2 342.8,371.2 342.8,390.3 342.9,378.2 343.0,378.2 343.1,378.2 343.1,374.4 343.2,383.2 343.3,378.2 343.4,402.3 343.5,368.5 343.5,366.2 343.6,364.2 343.7,378.2 343.8,390.3 343.8,364.2 343.9,371.2 344.0,390.3 344.1,390.3 344.2,390.3 344.2,378.2 344.3,374.4 344.4,383.2 344.5,378.2 344.6,390.3 344.6,366.2 344.7,371.2 344.8,378.2 344.9,374.4 345.0,402.3 345.1,383.2 345.2,383.2 345.3,366.2 345.3,364.2 345.4,378.2 345.6,368.5 345.7,390.3 345.7,378.2 345.8,402.3 345.9,402.3 346.0,366.2 346.0,378.2 346.1,390.3 346.3,402.3 346.4,383.2 346.4,368.5 346.5,374.4 346.6,368.5 346.7,383.2 346.8,374.4 346.8,371.2 346.9,371.2 347.0,383.2 347.1,378.2 347.1,390.3 347.2,374.4 347.3,374.4 347.4,362.4 347.5,374.4 347.5,402.3 347.6,383.2 347.7,402.3 347.8,378.2 347.8,390.3 347.9,383.2 348.0,402.3 348.1,378.2 348.2,374.4 348.2,402.3 348.3,371.2 348.4,383.2 348.5,383.2 348.6,402.3 348.6,371.2 348.7,374.4 348.8,390.3 348.9,374.4 348.9,368.5 349.0,383.2 349.1,390.3 349.2,390.3 349.3,368.5 349.3,402.3 349.4,383.2 349.5,383.2 349.6,378.2 349.7,390.3 349.7,390.3 349.8,374.4 349.9,378.2 350.0,390.3 350.0,378.2 350.1,383.2 350.2,383.2 350.3,390.3 350.4,402.3 350.5,390.3 350.6,402.3 350.7,383.2 350.8,383.2 350.8,374.4 350.9,390.3 351.0,371.2 351.1,390.3 351.1,390.3 351.2,402.3 351.3,371.2 351.4,374.4 351.5,390.3 351.5,378.2 351.6,390.3 351.7,383.2 351.8,390.3 351.8,374.4 352.0,383.2 352.1,383.2 352.2,383.2 352.2,368.5 352.3,371.2 352.4,390.3 352.5,390.3 352.6,383.2 352.6,402.3 352.7,390.3 352.8,378.2 352.9,402.3 352.9,390.3 353.0,390.3 353.2,378.2 353.3,378.2 353.3,390.3 353.4,374.4 353.5,402.3 353.6,378.2 353.7,371.2 353.7,366.2 353.9,402.3 354.0,368.5 354.0,390.3 354.1,383.2 354.2,402.3 354.3,383.2 354.4,378.2 354.4,383.2 354.5,402.3 354.6,374.4 354.7,378.2 354.8,402.3 354.8,371.2 354.9,378.2 355.0,390.3 355.1,378.2 355.1,383.2 355.2,374.4 355.3,390.3 355.4,383.2 355.5,402.3 355.5,378.2 355.6,402.3 355.7,383.2 355.8,374.4 355.9,383.2 356.0,368.5 356.1,383.2 356.2,366.2 356.2,383.2 356.3,378.2 356.4,378.2 356.5,368.5 356.6,390.3 356.6,402.3 356.7,383.2 356.8,378.2 356.9,402.3 356.9,378.2 357.0,383.2 357.1,383.2 357.2,371.2 357.3,390.3 357.3,371.2 357.4,371.2 357.5,383.2 357.6,378.2 357.7,390.3 357.7,366.2 357.8,390.3 357.9,390.3 358.0,378.2 358.0,390.3 358.1,374.4 358.2,402.3 358.3,378.2 358.4,390.3 358.4,383.2 358.5,390.3 358.6,383.2 358.7,378.2 358.8,383.2 358.8,378.2 358.9,383.2 359.0,402.3 359.1,378.2 359.1,390.3 359.3,383.2 359.4,383.2 359.5,390.3 359.5,390.3 359.6,374.4 359.7,402.3 359.8,378.2 359.9,383.2 359.9,368.5 360.0,374.4 360.1,374.4 360.2,378.2 360.2,402.3 360.3,374.4 360.4,402.3 360.5,374.4 360.6,390.3 360.6,383.2 360.7,378.2 360.8,402.3 360.9,390.3 360.9,402.3 361.0,402.3 361.1,374.4 361.2,371.2 361.3,383.2 361.3,390.3 361.4,378.2 361.5,374.4 361.6,374.4 361.7,368.5 361.7,402.3 361.8,383.2 361.9,374.4 362.0,390.3 362.0,378.2 362.1,390.3 362.2,383.2 362.3,402.3 362.4,378.2 362.4,374.4 362.5,374.4 362.6,378.2 362.7,374.4 362.8,374.4 362.8,390.3 362.9,383.2 363.0,378.2 363.1,374.4 363.1,378.2 363.2,390.3 363.3,383.2 363.4,383.2 363.5,383.2 363.5,383.2 363.6,378.2 363.7,390.3 363.8,383.2 363.9,390.3 363.9,390.3 364.0,402.3 364.1,390.3 364.2,383.2 364.3,374.4 364.4,383.2 364.5,374.4 364.6,374.4 364.6,390.3 364.7,374.4 364.8,371.2 364.9,378.2 364.9,378.2 365.0,374.4 365.1,402.3 365.2,371.2 365.3,383.2 365.3,390.3 365.4,371.2 365.5,402.3 365.6,374.4 365.7,383.2 365.7,378.2 365.8,390.3 365.9,383.2 366.0,390.3 366.0,383.2 366.1,383.2 366.2,402.3 366.3,374.4 366.4,390.3 366.4,402.3 366.5,390.3 366.6,383.2 366.7,390.3 366.8,378.2 366.8,383.2 366.9,390.3 367.0,390.3 367.1,383.2 367.1,374.4 367.2,402.3 367.3,374.4 367.4,383.2 367.5,371.2 367.5,378.2 367.6,383.2 367.7,402.3 367.8,402.3 367.9,374.4 367.9,383.2 368.0,371.2 368.1,390.3 368.2,378.2 368.2,383.2 368.3,371.2 368.4,383.2 368.5,390.3 368.6,383.2 368.6,383.2 368.7,390.3 368.8,368.5 368.9,383.2 368.9,378.2 369.0,383.2 369.1,402.3 369.2,371.2 369.3,378.2 369.3,383.2 369.4,383.2 369.5,374.4 369.6,374.4 369.7,383.2 369.7,383.2 369.8,374.4 369.9,390.3 370.0,402.3 370.0,378.2 370.1,383.2 370.2,374.4 370.3,378.2 370.4,383.2 370.4,378.2 370.5,390.3 370.6,378.2 370.7,390.3 370.8,383.2 370.8,402.3 370.9,378.2 371.0,383.2 371.1,390.3 371.1,390.3 371.2,390.3 371.3,378.2 371.4,383.2 371.5,378.2 371.5,390.3 371.6,390.3 371.7,378.2 371.8,402.3 371.9,402.3 371.9,383.2 372.0,390.3 372.1,378.2 372.2,378.2 372.2,383.2 372.3,371.2 372.4,390.3 372.5,368.5 372.6,402.3 372.6,374.4 372.7,368.5 372.8,390.3 372.9,383.2 372.9,374.4 373.0,402.3 373.1,390.3 373.2,390.3 373.3,378.2 373.3,383.2 373.4,390.3 373.5,378.2 373.6,390.3 373.7,383.2 373.7,390.3 373.8,378.2 373.9,390.3 374.0,383.2 374.0,390.3 374.1,378.2 374.3,378.2 374.4,371.2 374.4,378.2 374.5,390.3 374.6,390.3 374.7,378.2 374.8,378.2 374.8,402.3 374.9,366.2 375.0,383.2 375.1,390.3 375.1,378.2 375.2,378.2 375.3,368.5 375.4,402.3 375.5,402.3 375.5,390.3 375.6,383.2 375.7,390.3 375.8,390.3 375.9,390.3 375.9,383.2 376.0,383.2 376.1,402.3 376.2,390.3 376.2,383.2 376.3,383.2 376.4,378.2 376.5,402.3 376.6,390.3 376.6,374.4 376.7,390.3 376.8,383.2 376.9,402.3 377.0,383.2 377.0,402.3 377.1,378.2 377.2,390.3 377.3,378.2 377.3,374.4 377.4,402.3 377.5,390.3 377.6,378.2 377.7,378.2 377.7,390.3 377.8,378.2 377.9,402.3 378.0,383.2 378.0,383.2 378.1,402.3 378.2,371.2 378.3,374.4 378.4,402.3 378.4,390.3 378.5,383.2 378.6,383.2 378.7,378.2 378.8,383.2 378.8,378.2 378.9,383.2 379.0,390.3 379.1,378.2 379.1,383.2 379.2,378.2 379.3,402.3 379.4,378.2 379.5,402.3 379.5,383.2 379.6,390.3 379.7,402.3 379.9,371.2 379.9,374.4 380.0,374.4 380.1,371.2 380.2,371.2 380.2,383.2 380.3,378.2 380.4,383.2 380.5,378.2 380.6,390.3 380.6,402.3 380.7,374.4 380.8,371.2 380.9,402.3 381.0,378.2 381.0,402.3 381.1,390.3 381.2,402.3 381.3,383.2 381.3,390.3 381.4,366.2 381.5,371.2 381.6,402.3 381.7,390.3 381.7,378.2 381.8,378.2 381.9,390.3 382.0,390.3 382.0,383.2 382.1,378.2 382.2,374.4 382.3,390.3 382.4,383.2 382.4,402.3 382.5,390.3 382.6,374.4 382.7,383.2 382.8,378.2 382.9,371.2 383.0,383.2 383.1,378.2 383.1,383.2 383.2,390.3 383.3,402.3 383.4,390.3 383.5,402.3 383.5,371.2 383.6,383.2 383.7,402.3 383.8,374.4 383.9,383.2 383.9,390.3 384.0,383.2 384.1,383.2 384.2,390.3 384.2,371.2 384.3,390.3 384.4,390.3 384.5,378.2 384.6,390.3 384.6,390.3 384.7,378.2 384.8,378.2 384.9,402.3 385.0,390.3 385.0,383.2 385.1,378.2 385.2,383.2 385.3,383.2 385.3,383.2 385.4,378.2 385.5,390.3 385.6,390.3 385.7,390.3 385.7,383.2 385.8,374.4 385.9,378.2 386.0,374.4 386.0,383.2 386.1,383.2 386.2,402.3 386.3,390.3 386.4,390.3 386.4,378.2 386.5,378.2 386.6,368.5 386.7,390.3 386.8,378.2 386.8,402.3 386.9,378.2 387.0,374.4 387.1,383.2 387.1,383.2 387.2,390.3 387.3,366.2 387.4,378.2 387.5,368.5 387.5,374.4 387.6,368.5 387.8,383.2 387.9,383.2 387.9,383.2 388.0,402.3 388.1,390.3 388.2,374.4 388.2,371.2 388.4,402.3 388.6,390.3 388.7,378.2 388.8,374.4 388.9,378.2 389.0,378.2 389.0,374.4 389.1,378.2 389.2,383.2 389.3,383.2 389.3,368.5 389.4,383.2 389.5,390.3 389.6,383.2 389.7,390.3 389.7,402.3 389.8,402.3 389.9,383.2 390.0,378.2 390.1,383.2 390.2,402.3 390.3,402.3 390.4,378.2 390.5,383.2 390.6,383.2 390.7,374.4 390.8,378.2 390.8,390.3 390.9,402.3 391.0,383.2 391.1,390.3 391.1,378.2 391.2,383.2 391.3,383.2 391.4,383.2 391.5,402.3 391.5,402.3 391.6,402.3 391.8,402.3 391.9,378.2 391.9,374.4 392.0,383.2 392.1,402.3 392.2,366.2 392.2,378.2 392.3,390.3 392.4,390.3 392.6,374.4 392.7,402.3 392.8,383.2 392.9,371.2 393.0,390.3 393.0,383.2 393.1,402.3 393.2,383.2 393.3,378.2 393.3,368.5 393.4,390.3 393.5,383.2 393.6,374.4 393.7,374.4 393.7,402.3 393.8,390.3 393.9,390.3 394.0,390.3 394.0,390.3 394.2,402.3 394.3,390.3 394.4,378.2 394.4,383.2 394.5,390.3 394.6,378.2 394.7,390.3 394.8,390.3 394.8,374.4 394.9,378.2 395.0,402.3 395.1,402.3 395.1,390.3 395.2,390.3 395.3,383.2 395.4,378.2 395.5,402.3 395.5,383.2 395.6,371.2 395.7,383.2 395.8,390.3 395.9,383.2 395.9,383.2 396.0,390.3 396.1,374.4 396.2,390.3 396.2,390.3 396.3,390.3 396.4,371.2 396.5,378.2 396.6,383.2 396.6,371.2 396.7,371.2 396.8,383.2 396.9,402.3 397.0,402.3 397.0,390.3 397.1,390.3 397.2,383.2 397.3,378.2 397.3,390.3 397.4,390.3 397.5,390.3 397.6,378.2 397.7,383.2 397.8,383.2 397.9,390.3 398.0,383.2 398.1,383.2 398.1,390.3 398.4,378.2 398.4,378.2 398.5,383.2 398.6,390.3 398.7,402.3 398.8,383.2 398.8,371.2 398.9,383.2 399.1,371.2 399.1,383.2 399.2,402.3 399.3,378.2 399.4,371.2 399.5,383.2 399.5,402.3 399.6,402.3 399.8,390.3 399.9,374.4 399.9,383.2 400.0,374.4 400.1,383.2 400.2,390.3 400.2,383.2 400.3,378.2 400.4,390.3 400.5,383.2 400.6,383.2 400.6,390.3 400.8,390.3 400.9,378.2 401.0,383.2 401.1,390.3 401.2,402.3 401.3,383.2 401.3,383.2 401.4,402.3 401.5,383.2 401.6,390.3 401.7,383.2 401.7,402.3 401.8,390.3 401.9,390.3 402.0,378.2 402.1,383.2 402.1,378.2 402.2,383.2 402.4,383.2 402.4,402.3 402.5,374.4 402.6,383.2 402.7,390.3 402.8,390.3 402.8,390.3 402.9,378.2 403.0,402.3 403.1,366.2 403.1,371.2 403.2,383.2 403.3,402.3 403.4,383.2 403.5,378.2 403.5,378.2 403.6,383.2 403.7,402.3 403.9,383.2 404.0,374.4 404.1,402.3 404.2,378.2 404.2,402.3 404.3,402.3 404.4,383.2 404.5,383.2 404.6,383.2 404.6,390.3 404.7,383.2 404.8,402.3 404.9,390.3 405.0,378.2 405.0,390.3 405.1,383.2 405.2,402.3 405.3,390.3 405.3,390.3 405.4,390.3 405.5,374.4 405.6,374.4 405.7,383.2 405.7,383.2 405.8,390.3 405.9,402.3 406.0,402.3 406.1,378.2 406.1,390.3 406.3,402.3 406.4,383.2 406.4,378.2 406.5,383.2 406.6,390.3 406.8,383.2 406.9,378.2 407.0,378.2 407.1,378.2 407.1,402.3 407.2,371.2 407.3,402.3 407.4,378.2 407.5,402.3 407.5,383.2 407.6,390.3 407.7,378.2 407.8,378.2 407.9,383.2 407.9,390.3 408.0,390.3 408.1,390.3 408.2,383.2 408.2,390.3 408.3,390.3 408.4,383.2 408.6,390.3 408.6,402.3 408.7,402.3 408.8,378.2 408.9,390.3 409.0,402.3 409.0,383.2 409.1,368.5 409.2,390.3 409.3,390.3 409.3,383.2 409.4,378.2 409.5,402.3 409.7,390.3 409.7,390.3 409.8,390.3 409.9,402.3 410.0,402.3 410.1,378.2 410.1,402.3 410.2,402.3 410.3,390.3 410.4,390.3 410.4,402.3 410.6,402.3 410.7,368.5 410.8,390.3 410.8,378.2 410.9,402.3 411.0,383.2 411.1,390.3 411.2,390.3 411.3,383.2 411.4,402.3 411.5,402.3 411.5,390.3 411.6,390.3 411.7,390.3 411.8,374.4 411.9,402.3 411.9,390.3 412.0,402.3 412.1,390.3 412.2,402.3 412.2,383.2 412.3,402.3 412.4,378.2 412.5,390.3 412.6,383.2 412.6,378.2 412.7,390.3 412.8,390.3 412.9,402.3 413.0,402.3 413.1,390.3 413.2,402.3 413.3,390.3 413.3,402.3 413.4,374.4 413.5,402.3 413.6,402.3 413.7,402.3 413.7,383.2 413.8,371.2 413.9,383.2 414.0,390.3 414.1,390.3 414.1,383.2 414.2,374.4 414.3,390.3 414.4,378.2 414.4,371.2 414.5,383.2 414.7,402.3 414.8,383.2 414.8,402.3 414.9,383.2 415.0,390.3 415.1,390.3 415.2,383.2 415.3,374.4 415.4,402.3 415.5,390.3 415.5,378.2 415.6,383.2 415.8,378.2 415.9,383.2 415.9,378.2 416.0,402.3 416.1,378.2 416.2,390.3 416.2,383.2 416.3,390.3 416.4,383.2 416.5,390.3 416.6,390.3 416.6,390.3 416.9,390.3 417.0,378.2 417.1,402.3 417.2,402.3 417.3,383.2 417.3,390.3 417.5,383.2 417.6,371.2 417.7,390.3 417.7,402.3 417.8,383.2 417.9,402.3 418.0,378.2 418.1,402.3 418.2,371.2 418.3,374.4 418.4,383.2 418.4,383.2 418.5,402.3 418.6,402.3 418.7,402.3 418.8,390.3 418.8,402.3 418.9,371.2 419.0,402.3 419.1,383.2 419.2,383.2 419.2,374.4 419.3,374.4 419.5,390.3 419.5,383.2 419.6,374.4 419.7,390.3 419.8,390.3 419.9,383.2 419.9,390.3 420.0,378.2 420.1,402.3 420.2,383.2 420.2,390.3 420.4,402.3 420.5,402.3 420.6,390.3 420.7,390.3 420.8,383.2 420.9,402.3 421.0,390.3 421.0,383.2 421.1,378.2 421.2,402.3 421.3,390.3 421.3,383.2 421.5,383.2 421.6,402.3 421.7,383.2 421.7,383.2 422.0,378.2 422.1,390.3 422.1,383.2 422.2,402.3 422.4,390.3 422.5,383.2 422.6,390.3 422.7,374.4 422.8,390.3 422.8,378.2 422.9,390.3 423.0,383.2 423.2,402.3 423.2,402.3 423.3,402.3 423.4,402.3 423.5,383.2 423.7,390.3 423.8,402.3 423.9,390.3 423.9,390.3 424.1,378.2 424.2,383.2 424.2,374.4 424.3,390.3 424.4,402.3 424.5,402.3 424.6,383.2 424.6,378.2 424.7,383.2 424.8,402.3 424.9,390.3 425.0,402.3 425.0,390.3 425.1,402.3 425.2,371.2 425.3,383.2 425.4,371.2 425.5,390.3 425.6,371.2 425.7,390.3 425.7,383.2 425.8,402.3 425.9,371.2 426.0,383.2 426.1,383.2 426.1,402.3 426.2,383.2 426.3,402.3 426.4,383.2 426.4,402.3 426.5,390.3 426.6,402.3 426.7,383.2 426.8,390.3 426.8,378.2 426.9,402.3 427.0,390.3 427.1,374.4 427.2,383.2 427.2,402.3 427.3,402.3 427.4,402.3 427.5,402.3 427.5,390.3 427.6,383.2 427.7,390.3 427.9,390.3 427.9,402.3 428.0,378.2 428.1,371.2 428.2,383.2 428.2,374.4 428.3,383.2 428.4,383.2 428.6,390.3 428.6,378.2 428.7,383.2 428.8,374.4 428.9,378.2 429.0,402.3 429.0,374.4 429.1,390.3 429.2,378.2 429.3,390.3 429.3,390.3 429.5,402.3 429.6,383.2 429.7,390.3 429.8,402.3 429.9,383.2 430.0,378.2 430.1,383.2 430.1,402.3 430.2,383.2 430.3,402.3 430.4,378.2 430.5,383.2 430.6,402.3 430.7,374.4 430.8,383.2 430.8,390.3 430.9,402.3 431.0,402.3 431.1,374.4 431.2,383.2 431.2,383.2 431.3,402.3 431.4,378.2 431.5,402.3 431.5,402.3 431.6,383.2 431.8,383.2 431.9,390.3 432.0,402.3 432.1,390.3 432.2,383.2 432.2,383.2 432.3,383.2 432.5,402.3 432.6,390.3 432.7,402.3 432.8,402.3 432.9,402.3 433.0,383.2 433.0,402.3 433.1,390.3 433.2,390.3 433.3,374.4 433.4,390.3 433.5,402.3 433.6,364.2 433.7,402.3 433.7,402.3 433.8,402.3 433.9,383.2 434.0,402.3 434.1,402.3 434.1,390.3 434.2,383.2 434.3,374.4 434.4,378.2 434.4,402.3 434.5,402.3 434.7,390.3 434.8,383.2 434.8,390.3 434.9,402.3 435.0,383.2 435.1,390.3 435.2,390.3 435.2,390.3 435.3,402.3 435.4,402.3 435.5,390.3 435.6,383.2 435.7,383.2 435.8,390.3 435.9,390.3 435.9,402.3 436.0,383.2 436.1,402.3 436.2,383.2 436.3,390.3 436.4,371.2 436.5,383.2 436.6,383.2 436.7,390.3 436.8,378.2 436.9,390.3 437.0,402.3 437.1,383.2 437.2,383.2 437.3,402.3 437.3,383.2 437.4,402.3 437.5,378.2 437.6,383.2 437.7,383.2 437.8,378.2 437.9,383.2 438.0,390.3 438.2,390.3 438.4,390.3 438.5,374.4 438.6,390.3 438.7,378.2 438.8,371.2 438.9,402.3 439.0,390.3 439.1,383.2 439.2,402.3 439.2,390.3 439.4,390.3 439.5,390.3 439.5,402.3 439.7,374.4 439.8,390.3 439.9,402.3 439.9,383.2 440.0,378.2 440.1,402.3 440.2,374.4 440.3,390.3 440.3,383.2 440.5,390.3 440.6,390.3 440.6,390.3 440.7,383.2 440.8,383.2 440.9,402.3 441.0,374.4 441.2,390.3 441.3,383.2 441.4,390.3 441.5,390.3 441.6,390.3 441.7,378.2 441.7,402.3 441.8,374.4 441.9,402.3 442.1,383.2 442.1,402.3 442.2,378.2 442.3,383.2 442.4,402.3 442.5,402.3 442.6,402.3 442.7,402.3 442.8,378.2 442.8,390.3 442.9,402.3 443.0,383.2 443.1,390.3 443.2,402.3 443.2,383.2 443.3,383.2 443.4,402.3 443.5,402.3 443.5,374.4 443.6,390.3 443.7,402.3 443.8,383.2 443.9,390.3 443.9,390.3 444.0,390.3 444.1,390.3 444.2,402.3 444.3,402.3 444.3,390.3 444.4,390.3 444.5,371.2 444.6,402.3 444.6,402.3 444.7,374.4" fill="none" stroke="none" marker-start="url(#md)" marker-mid="url(#md)" marker-end="url(#md)"/>
<polyline clip-path="url(#ce)" points="288.0,256.1 288.1,260.3 288.1,265.5 288.2,268.9 288.2,272.4 288.3,276.7 288.4,279.1 288.4,281.9 288.5,285.2 288.5,285.7 288.6,288.2 288.7,291.7 288.7,292.5 288.8,294.3 288.8,295.0 288.9,295.7 289.0,297.5 289.0,299.9 289.1,298.3 289.1,299.1 289.2,299.2 289.3,300.6 289.3,302.7 289.4,303.8 289.4,303.1 289.5,302.2 289.6,303.6 289.6,303.7 289.7,305.1 289.7,306.5 289.8,307.1 289.9,306.4 289.9,308.9 290.0,308.2 290.1,309.0 290.1,312.5 290.2,312.0 290.2,311.0 290.3,312.2 290.4,311.4 290.4,313.6 290.5,312.3 290.5,313.6 290.6,315.0 290.7,313.9 290.7,314.1 290.8,317.2 290.8,315.6 290.9,315.7 291.0,318.7 291.0,317.3 291.1,321.7 291.1,320.3 291.2,318.3 291.3,320.4 291.3,316.8 291.4,319.1 291.4,320.3 291.5,323.1 291.6,321.6 291.6,322.2 291.7,321.9 291.7,324.0 291.8,323.8 291.9,324.0 291.9,321.9 292.0,323.1 292.0,322.4 292.1,324.8 292.2,329.9 292.2,326.5 292.3,325.8 292.3,327.9 292.4,325.2 292.5,326.5 292.5,329.1 292.6,329.3 292.6,326.1 292.7,326.5 292.8,327.6 292.8,329.6 292.9,329.1 292.9,328.1 293.0,328.1 293.1,331.9 293.1,328.8 293.2,329.1 293.2,331.9 293.3,332.8 293.4,335.5 293.4,335.5 293.5,329.9 293.6,335.1 293.6,334.8 293.7,332.8 293.7,333.7 293.8,330.7 293.9,337.0 293.9,331.0 294.0,332.8 294.0,333.4 294.1,337.9 294.2,332.5 294.2,334.8 294.3,337.0 294.3,337.9 294.4,336.6 294.5,334.4 294.5,335.1 294.6,338.3 294.6,334.8 294.7,340.1 294.8,339.2 294.8,338.3 294.9,337.9 294.9,339.7 295.0,336.3 295.1,336.3 295.1,335.5 295.2,342.2 295.2,341.6 295.3,342.2 295.4,338.7 295.4,345.1 295.5,343.9 295.5,340.1 295.6,348.7 295.7,341.6 295.7,343.9 295.8,338.7 295.8,339.2 295.9,341.1 296.0,339.7 296.0,342.2 296.1,339.2 296.1,349.5 296.2,341.6 296.3,348.7 296.3,342.2 296.4,341.1 296.4,343.9 296.5,347.9 296.6,343.9 296.6,343.9 296.7,347.2 296.7,343.9 296.8,348.7 296.9,352.2 296.9,346.5 297.0,352.2 297.0,347.2 297.1,343.3 297.2,349.5 297.2,352.2 297.3,345.8 297.4,347.9 297.4,347.9 297.5,353.1 297.5,341.1 297.6,348.7 297.7,352.2 297.7,341.6 297.8,350.3 297.8,348.7 297.9,346.5 298.0,346.5 298.0,344.5 298.1,353.1 298.1,352.2 298.2,347.2 298.3,350.3 298.3,352.2 298.4,353.1 298.4,356.5 298.5,352.2 298.6,355.3 298.6,352.2 298.7,356.5 298.7,356.5 298.8,356.5 298.9,345.8 298.9,357.8 299.0,347.9 299.0,366.2 299.1,348.7 299.2,357.8 299.2,362.4 299.3,356.5 299.3,347.9 299.4,355.3 299.5,347.9 299.5,362.4 299.6,359.2 299.6,359.2 299.7,357.8 299.8,356.5 299.8,351.2 299.9,368.5 299.9,355.3 300.0,353.1 300.1,356.5 300.1,355.3 300.2,356.5 300.2,353.1 300.3,360.7 300.4,353.1 300.4,378.2 300.5,362.4 300.5,356.5 300.6,360.7 300.7,360.7 300.7,355.3 300.8,362.4 300.9,357.8 300.9,357.8 301.0,362.4 301.0,371.2 301.1,366.2 301.2,360.7 301.2,362.4 301.3,357.8 301.3,352.2 301.4,368.5 301.5,359.2 301.5,366.2 301.6,357.8 301.6,357.8 301.7,360.7 301.8,357.8 301.8,359.2 301.9,357.8 301.9,356.5 302.0,366.2 302.1,371.2 302.1,371.2 302.2,366.2 302.2,374.4 302.3,359.2 302.4,356.5 302.4,362.4 302.5,368.5 302.5,364.2 302.6,356.5 302.7,356.5 302.7,374.4 302.8,357.8 302.8,371.2 302.9,390.3 303.0,360.7 303.0,366.2 303.1,371.2 303.1,383.2 303.2,374.4 303.3,371.2 303.3,356.5 303.4,374.4 303.4,368.5 303.5,371.2 303.6,374.4 303.6,383.2 303.7,362.4 303.7,362.4 303.8,378.2 303.9,371.2 303.9,371.2 304.0,371.2 304.0,374.4 304.1,368.5 304.2,364.2 304.2,378.2 304.3,383.2 304.3,374.4 304.4,383.2 304.5,374.4 304.5,374.4 304.6,378.2 304.7,371.2 304.7,390.3 304.8,366.2 304.8,378.2 304.9,371.2 305.0,378.2 305.0,383.2 305.1,374.4 305.1,374.4 305.2,390.3 305.3,378.2 305.3,378.2 305.4,366.2 305.4,378.2 305.5,383.2 305.6,390.3 305.6,374.4 305.7,374.4 305.7,378.2 305.8,378.2 305.9,390.3 305.9,374.4 306.0,371.2 306.0,378.2 306.1,390.3 306.2,371.2 306.3,374.4 306.3,378.2 306.4,383.2 306.5,383.2 306.5,371.2 306.6,383.2 306.6,374.4 306.7,390.3 306.8,402.3 306.8,383.2 306.9,378.2 306.9,378.2 307.0,374.4 307.1,374.4 307.1,402.3 307.2,371.2 307.2,383.2 307.3,378.2 307.4,374.4 307.4,390.3 307.5,383.2 307.5,402.3 307.6,390.3 307.7,402.3 307.7,378.2 307.8,374.4 307.8,378.2 307.9,390.3 308.0,378.2 308.0,371.2 308.1,378.2 308.2,383.2 308.2,383.2 308.3,383.2 308.3,374.4 308.4,371.2 308.5,383.2 308.5,378.2 308.6,383.2 308.6,374.4 308.7,368.5 308.8,378.2 308.8,390.3 308.9,371.2 308.9,374.4 309.0,368.5 309.1,371.2 309.1,383.2 309.2,402.3 309.2,390.3 309.3,378.2 309.4,366.2 309.4,378.2 309.5,383.2 309.5,402.3 309.6,374.4 309.7,390.3 309.7,402.3 309.8,383.2 309.8,378.2 309.9,383.2 310.0,383.2 310.1,383.2 310.1,390.3 310.2,378.2 310.3,390.3 310.4,390.3 310.4,383.2 310.5,378.2 310.6,402.3 310.6,378.2 310.7,378.2 310.7,402.3 310.8,378.2 310.9,378.2 310.9,383.2 311.0,402.3 311.0,378.2 311.1,390.3 311.2,402.3 311.2,402.3 311.3,402.3 311.3,383.2 311.4,390.3 311.5,390.3 311.5,402.3 311.6,402.3 311.7,390.3 311.8,383.2 311.8,402.3 311.9,366.2 312.0,383.2 312.0,383.2 312.1,383.2 312.2,390.3 312.3,402.3 312.3,390.3 312.4,378.2 312.5,402.3 312.6,402.3 312.6,402.3 312.7,374.4 312.8,378.2 312.9,383.2 312.9,402.3 313.0,402.3 313.0,378.2 313.1,383.2 313.2,366.2 313.3,378.2 313.3,390.3 313.5,378.2 313.5,390.3 313.6,390.3 313.6,383.2 313.7,402.3 313.8,383.2 313.9,402.3 313.9,383.2 314.0,383.2 314.1,390.3 314.1,390.3 314.2,383.2 314.3,402.3 314.4,390.3 314.4,402.3 314.5,383.2 314.7,378.2 314.7,383.2 314.8,383.2 315.0,390.3 315.0,390.3 315.1,402.3 315.1,383.2 315.2,378.2 315.3,383.2 315.4,383.2 315.5,390.3 315.5,390.3 315.6,390.3 315.6,383.2 315.8,402.3 315.8,402.3 315.9,402.3 316.0,390.3 316.1,402.3 316.1,402.3 316.2,390.3 316.2,402.3 316.3,383.2 316.4,378.2 316.4,390.3 316.5,390.3 316.5,390.3 316.6,374.4 316.7,402.3 316.7,390.3 316.8,378.2 316.9,402.3 317.0,383.2 317.0,390.3 317.1,402.3 317.1,402.3 317.2,390.3 317.3,402.3 317.4,402.3 317.4,402.3 317.5,402.3 317.6,402.3 317.7,402.3 317.8,371.2 317.9,390.3 317.9,402.3 318.0,402.3 318.0,402.3 318.1,402.3 318.2,383.2 318.2,402.3 318.3,390.3 318.4,390.3 318.5,402.3 318.6,383.2 318.6,402.3 318.7,402.3 318.8,378.2 318.8,383.2 318.9,383.2 318.9,390.3 319.0,390.3 319.1,390.3 319.1,402.3 319.2,374.4 319.3,390.3 319.3,390.3 319.4,383.2 319.5,402.3 319.6,402.3 319.6,402.3 319.7,402.3 319.7,390.3 319.9,402.3 320.0,402.3 320.0,390.3 320.1,378.2 320.2,383.2 320.3,383.2 320.3,383.2 320.4,402.3 320.5,390.3 320.5,402.3 320.6,390.3 320.6,402.3 320.7,390.3 320.8,378.2 320.9,378.2 321.0,383.2 321.1,402.3 321.1,402.3 321.2,390.3 321.3,383.2 321.4,402.3 321.4,383.2 321.5,402.3 321.5,402.3 321.6,390.3 321.7,383.2 321.8,390.3 322.0,390.3 322.0,390.3 322.1,402.3 322.1,402.3 322.2,402.3 322.3,390.3 322.3,390.3 322.4,402.3 322.4,402.3 322.5,383.2 322.6,402.3 322.7,402.3 322.8,402.3 322.8,390.3 322.9,390.3 322.9,378.2 323.0,402.3 323.1,390.3 323.1,378.2 323.2,383.2 323.2,383.2 323.3,390.3 323.4,402.3 323.4,378.2 323.5,402.3 323.5,390.3 323.6,383.2 323.7,390.3 323.8,402.3 323.8,402.3 323.9,402.3 324.0,402.3 324.1,402.3 324.1,402.3 324.2,402.3 324.3,402.3 324.3,402.3 324.4,390.3 324.5,390.3 324.6,402.3 324.7,402.3 324.8,378.2 324.9,390.3 325.0,402.3 325.0,378.2 325.2,378.2 325.2,378.2 325.3,402.3 325.3,402.3 325.4,390.3 325.5,402.3 325.7,402.3 325.8,383.2 325.9,402.3 325.9,390.3 326.0,402.3 326.1,390.3 326.1,390.3 326.2,374.4 326.3,390.3 326.4,390.3 326.4,402.3 326.6,378.2 326.7,390.3 326.8,383.2 326.9,402.3 326.9,383.2 327.0,402.3 327.0,402.3 327.1,402.3 327.2,402.3 327.3,383.2 327.3,402.3 327.5,378.2 327.5,402.3 327.6,383.2 327.6,390.3 327.8,390.3 327.9,390.3 328.0,402.3 328.1,390.3 328.3,402.3 328.4,402.3 328.4,402.3 328.5,402.3 328.5,402.3 328.7,402.3 328.7,402.3 328.8,402.3 328.8,390.3 328.9,402.3 329.0,402.3 329.0,383.2 329.1,402.3 329.1,390.3 329.3,390.3 329.4,390.3 329.4,402.3 329.5,402.3 329.6,378.2 329.6,402.3 329.7,383.2 329.7,383.2 329.8,402.3 329.9,402.3 329.9,402.3 330.0,402.3 330.1,378.2 330.2,402.3 330.2,402.3 330.3,390.3 330.4,378.2 330.5,383.2 330.6,390.3 330.7,390.3 330.7,390.3 330.8,378.2 330.8,402.3 331.0,402.3 331.1,402.3 331.1,402.3 331.2,383.2 331.3,390.3 331.4,390.3 331.4,402.3 331.5,383.2 331.6,390.3 331.6,402.3 331.7,378.2 331.7,402.3 331.9,402.3 331.9,402.3 332.0,402.3 332.0,390.3 332.1,402.3 332.2,402.3 332.2,402.3 332.3,390.3 332.3,402.3 332.4,402.3 332.5,390.3 332.5,390.3 332.6,390.3 332.6,390.3 332.7,390.3 332.8,390.3 332.9,390.3 332.9,402.3 333.0,402.3 333.1,402.3 333.1,378.2 333.2,390.3 333.2,383.2 333.3,378.2 333.4,390.3 333.4,390.3 333.5,383.2 333.6,390.3 333.7,402.3 333.9,402.3 333.9,402.3 334.0,402.3 334.0,383.2 334.1,390.3 334.2,383.2 334.3,390.3 334.3,390.3 334.4,402.3 334.5,390.3 334.5,390.3 334.6,390.3 334.6,390.3 334.8,402.3 334.8,402.3 334.9,390.3 334.9,390.3 335.0,383.2 335.1,378.2 335.2,402.3 335.2,402.3 335.4,402.3 335.5,378.2 335.5,390.3 335.6,383.2 335.7,402.3 335.7,402.3 335.8,390.3 335.8,402.3 335.9,383.2 336.0,402.3 336.0,402.3 336.1,390.3 336.2,390.3 336.3,402.3 336.3,390.3 336.5,390.3 336.6,390.3 336.6,390.3 336.7,402.3 336.8,390.3 336.9,402.3 337.0,390.3 337.0,402.3 337.1,390.3 337.2,390.3 337.3,383.2 337.4,390.3 337.4,378.2 337.5,383.2 337.5,402.3 337.6,390.3 337.7,402.3 337.7,374.4 337.8,402.3 338.0,402.3 338.0,390.3 338.1,402.3 338.2,402.3 338.4,378.2 338.4,402.3 338.5,402.3 338.6,390.3 338.6,390.3 338.7,402.3 338.8,402.3 338.9,390.3 339.0,390.3 339.2,383.2 339.3,402.3 339.3,402.3 339.4,390.3 339.5,390.3 339.5,402.3 339.6,383.2 339.6,402.3 339.7,402.3 339.8,378.2 339.8,390.3 339.9,383.2 339.9,402.3 340.1,390.3 340.2,402.3 340.4,390.3 340.5,371.2 340.6,402.3 340.7,390.3 340.8,390.3 340.9,402.3 341.0,383.2 341.0,378.2 341.1,390.3 341.2,402.3 341.2,402.3 341.3,390.3 341.4,390.3 341.6,390.3 341.7,402.3 341.8,402.3 341.9,374.4 342.0,390.3 342.1,390.3 342.2,383.2 342.3,402.3 342.4,390.3 342.5,383.2 342.5,402.3 342.6,390.3 342.7,402.3 342.7,402.3 342.8,390.3 342.8,402.3 343.0,402.3 343.1,402.3 343.1,390.3 343.3,402.3 343.4,402.3 343.4,378.2 343.5,383.2 343.6,402.3 343.6,374.4 343.7,383.2 344.0,402.3 344.0,390.3 344.1,390.3 344.2,383.2 344.2,402.3 344.3,383.2 344.4,402.3 344.5,402.3 344.6,402.3 344.7,390.3 344.7,374.4 344.9,390.3 345.1,390.3 345.1,402.3 345.2,402.3 345.3,402.3 345.3,402.3 345.4,374.4 345.4,402.3 345.5,402.3 345.6,402.3 345.6,402.3 345.7,402.3 345.7,390.3 345.8,402.3 345.9,390.3 345.9,390.3 346.0,378.2 346.1,383.2 346.3,402.3 346.4,402.3 346.6,402.3 346.6,383.2 346.7,383.2 346.8,383.2 346.9,402.3 346.9,390.3 347.0,390.3 347.1,402.3 347.1,390.3 347.2,390.3 347.2,390.3 347.3,390.3 347.4,402.3 347.4,402.3 347.5,402.3 347.5,402.3 347.7,402.3 347.8,402.3 347.8,402.3 347.9,402.3 348.0,402.3 348.1,390.3 348.1,402.3 348.3,383.2 348.5,402.3 348.5,383.2 348.6,390.3 348.7,390.3 348.8,390.3 348.9,402.3 348.9,390.3 349.1,390.3 349.2,383.2 349.2,402.3 349.3,402.3 349.4,402.3 349.4,390.3 349.5,402.3 349.5,402.3 349.7,402.3 349.7,390.3 349.8,402.3 350.2,402.3 350.3,390.3 350.3,390.3 350.4,390.3 350.4,402.3 350.5,390.3 350.6,390.3 350.6,402.3 350.7,402.3 350.8,390.3 350.9,402.3 351.0,390.3 351.2,402.3 351.3,390.3 351.3,390.3 351.4,402.3 351.5,383.2 351.6,402.3 351.6,402.3 351.7,383.2 351.8,378.2 351.9,378.2 352.0,390.3 352.1,390.3 352.1,402.3 352.4,390.3 352.5,402.3 352.6,390.3 352.6,402.3 352.7,402.3 352.8,402.3 352.9,402.3 352.9,390.3 353.0,402.3 353.2,402.3 353.2,402.3 353.3,402.3 353.4,402.3 353.5,402.3 353.5,390.3 353.6,402.3 353.6,402.3 353.7,402.3 353.8,402.3 353.8,402.3 353.9,378.2 354.0,402.3 354.1,390.3 354.1,402.3 354.2,390.3 354.4,390.3 354.5,402.3 354.7,390.3 354.7,383.2 354.8,402.3 354.8,390.3 354.9,402.3 355.0,390.3 355.0,390.3 355.2,402.3 355.3,390.3 355.4,402.3 355.4,402.3 355.6,390.3 355.8,402.3 355.8,390.3 355.9,378.2 355.9,390.3 356.0,402.3 356.1,402.3 356.2,390.3 356.2,390.3 356.3,402.3 356.4,378.2 356.4,378.2 356.5,390.3 356.7,402.3 356.7,402.3 356.8,402.3 356.8,402.3 356.9,390.3 357.0,390.3 357.1,390.3 357.2,402.3 357.3,402.3 357.3,390.3 357.4,390.3 357.5,402.3 357.6,402.3 357.6,402.3 357.7,378.2 357.8,390.3 358.1,402.3 358.2,402.3 358.4,390.3 358.6,390.3 358.8,402.3 358.9,390.3 359.1,390.3 359.2,402.3 359.3,402.3 359.4,390.3 359.5,378.2 359.6,383.2 359.6,378.2 359.7,390.3 359.7,402.3 359.8,402.3 359.9,402.3 360.0,390.3 360.0,390.3 360.1,390.3 360.2,402.3 360.3,390.3 360.3,402.3 360.4,383.2 360.5,402.3 360.6,383.2 360.7,402.3 360.8,402.3 360.9,402.3 361.1,402.3 361.1,402.3 361.2,390.3 361.2,402.3 361.4,402.3 361.4,390.3 361.5,383.2 361.6,390.3 361.7,383.2 361.7,402.3 361.8,390.3 361.8,390.3 361.9,383.2 362.0,383.2 362.3,390.3 362.4,402.3 362.6,402.3 362.6,390.3 362.7,402.3 362.8,402.3 362.9,383.2 363.0,383.2 363.1,383.2 363.1,402.3 363.3,402.3 363.4,402.3 363.4,402.3 363.5,390.3 363.6,383.2 363.7,383.2 363.7,402.3 363.8,402.3 363.8,402.3 363.9,402.3 364.0,402.3 364.1,390.3 364.2,402.3 364.3,402.3 364.3,383.2 364.4,402.3 364.5,390.3 364.6,402.3 364.7,402.3 364.8,390.3 364.9,402.3 365.0,402.3 365.0,402.3 365.2,402.3 365.3,402.3 365.3,402.3 365.4,402.3 365.5,402.3 365.5,402.3 365.6,402.3 365.6,390.3 365.7,383.2 365.9,378.2 366.1,390.3 366.2,402.3 366.2,390.3 366.3,402.3 366.4,402.3 366.6,390.3 366.8,390.3 366.9,390.3 366.9,402.3 367.0,390.3 367.0,402.3 367.1,402.3 367.2,383.2 367.3,390.3 367.5,402.3 367.6,402.3 367.8,402.3 367.8,402.3 367.9,402.3 367.9,402.3 368.0,390.3 368.1,378.2 368.2,390.3 368.4,390.3 368.7,390.3 368.7,402.3 368.8,383.2 368.9,402.3 369.0,402.3 369.1,390.3 369.3,402.3 369.3,402.3 369.4,390.3 369.4,402.3 369.6,402.3 369.6,402.3 369.7,402.3 369.7,383.2 369.8,383.2 369.9,402.3 369.9,402.3 370.0,402.3 370.1,390.3 370.1,402.3 370.2,402.3 370.3,378.2 370.4,402.3 370.4,390.3 370.5,390.3 370.7,402.3 371.1,402.3 371.1,402.3 371.2,402.3 371.3,402.3 371.3,390.3 371.4,390.3 371.7,402.3 371.8,390.3 371.9,383.2 372.0,390.3 372.2,402.3 372.2,402.3 372.3,402.3 372.4,402.3 372.5,402.3 372.6,402.3 372.6,390.3 372.7,390.3 372.8,383.2 373.1,383.2 373.1,383.2 373.2,402.3 373.2,402.3 373.3,402.3 373.4,402.3 373.5,402.3 373.6,390.3 373.7,383.2 373.8,402.3 373.9,402.3 373.9,390.3 374.0,402.3 374.2,390.3 374.3,402.3 374.5,402.3 374.6,402.3 374.6,402.3 374.8,390.3 374.9,402.3 375.1,390.3 375.2,402.3 375.4,402.3 375.7,402.3 375.7,378.2 375.8,390.3 376.0,390.3 376.1,402.3 376.2,378.2 376.3,402.3 376.3,390.3 376.4,383.2 376.4,402.3 376.6,378.2 376.6,383.2 376.7,402.3 376.8,402.3 376.9,390.3 376.9,402.3 377.0,402.3 377.0,402.3 377.1,390.3 377.2,390.3 377.3,402.3 377.5,390.3 377.5,402.3 377.7,390.3 377.7,402.3 377.8,390.3 377.9,390.3 378.0,390.3 378.0,402.3 378.1,390.3 378.1,402.3 378.2,390.3 378.3,390.3 378.4,390.3 378.5,390.3 378.6,402.3 378.6,402.3 378.7,390.3 378.7,390.3 378.8,402.3 378.9,402.3 378.9,402.3 379.0,402.3 379.1,390.3 379.3,402.3 379.3,390.3 379.5,402.3 379.6,390.3 379.6,402.3 379.8,402.3 380.0,402.3 380.1,402.3 380.1,402.3 380.2,402.3 380.5,402.3 380.5,390.3 380.7,402.3 380.8,402.3 380.9,390.3 381.0,402.3 381.0,402.3 381.2,402.3 381.3,402.3 381.3,402.3 381.4,402.3 381.5,378.2 381.6,390.3 381.9,402.3 381.9,383.2 382.0,390.3 382.1,402.3 382.2,390.3 382.3,402.3 382.4,383.2 382.4,383.2 382.6,390.3 382.7,402.3 382.9,402.3 383.0,390.3 383.1,390.3 383.3,402.3 383.3,378.2 383.4,402.3 383.5,402.3 383.6,402.3 383.7,402.3 383.8,402.3 383.9,378.2 384.1,390.3 384.2,402.3 384.4,390.3 384.5,402.3 384.6,383.2 384.7,402.3 384.9,402.3 385.0,402.3 385.2,402.3 385.3,402.3 385.3,402.3 385.4,402.3 385.4,402.3 385.5,390.3 385.6,402.3 385.6,383.2 385.7,383.2 385.8,402.3 385.9,390.3 386.0,402.3 386.1,390.3 386.2,402.3 386.3,390.3 386.4,390.3 386.6,383.2 386.6,402.3 386.7,402.3 386.8,390.3 386.8,390.3 387.0,390.3 387.1,402.3 387.1,383.2 387.4,390.3 387.4,402.3 387.5,402.3 387.6,383.2 387.7,402.3 387.8,402.3 387.8,402.3 387.9,402.3 388.1,402.3 388.1,402.3 388.3,402.3 388.3,402.3 388.4,402.3 388.5,390.3 388.5,378.2 388.6,383.2 388.8,402.3 388.9,390.3 389.0,402.3 389.1,383.2 389.1,402.3 389.3,402.3 389.6,402.3 390.0,402.3 390.1,383.2 390.3,390.3 390.4,390.3 390.4,402.3 390.5,383.2 390.6,390.3 390.6,402.3 390.7,383.2 390.7,402.3 390.8,402.3 391.0,402.3 391.2,402.3 391.6,390.3 391.6,390.3 391.7,402.3 391.8,402.3 391.9,402.3 392.0,402.3 392.0,378.2 392.1,402.3 392.2,402.3 392.4,390.3 392.5,402.3 392.7,402.3 392.9,402.3 393.0,390.3 393.2,402.3 393.2,383.2 393.3,383.2 393.3,402.3 393.4,402.3 393.5,402.3 393.5,402.3 393.6,390.3 393.8,390.3 393.8,390.3 393.9,390.3 393.9,374.4 394.0,378.2 394.1,402.3 394.2,390.3 394.2,390.3 394.3,390.3 394.4,402.3 394.5,390.3 394.7,390.3 394.8,402.3 394.9,402.3 395.0,402.3 395.1,402.3 395.3,402.3 395.4,402.3 395.6,402.3 395.7,402.3 395.8,390.3 395.9,390.3 395.9,402.3 396.0,390.3 396.1,383.2 396.2,390.3 396.2,383.2 396.4,402.3 396.4,402.3 396.5,402.3 396.7,402.3 396.9,402.3 397.2,402.3 397.3,374.4 397.4,402.3 397.6,402.3 397.7,402.3 397.9,390.3 398.0,383.2 398.1,390.3 398.3,390.3 398.4,390.3 398.5,402.3 398.6,402.3 398.6,402.3 398.7,402.3 398.8,383.2 398.9,390.3 398.9,402.3 399.1,402.3 399.1,390.3 399.2,402.3 399.6,402.3 399.8,402.3 400.0,402.3 400.2,383.2 400.2,390.3 400.3,390.3 400.4,402.3 400.5,390.3 400.6,390.3 400.6,402.3 400.7,390.3 400.8,402.3 400.9,390.3 401.1,390.3 401.1,402.3 401.2,402.3 401.3,383.2 401.4,402.3 401.4,383.2 401.5,402.3 401.5,402.3 401.7,402.3 401.7,390.3 401.9,402.3 402.0,402.3 402.0,402.3 402.1,402.3 402.1,402.3 402.2,402.3 402.3,402.3 402.4,402.3 402.4,390.3 402.6,402.3 402.9,402.3 402.9,402.3 403.1,390.3 403.2,390.3 403.3,402.3 403.4,390.3 403.5,390.3 403.6,390.3 403.7,402.3 403.7,390.3 403.8,402.3 403.9,402.3 404.0,402.3 404.0,390.3 404.1,402.3 404.3,402.3 404.4,390.3 404.5,402.3 404.6,402.3 404.6,402.3 404.7,390.3 404.7,390.3 404.8,402.3 404.9,390.3 405.0,402.3 405.2,402.3 405.3,402.3 405.5,390.3 405.6,402.3 405.6,402.3 405.7,402.3 405.8,402.3 405.9,402.3 406.0,402.3 406.1,390.3 406.2,390.3 406.2,402.3 406.3,402.3 406.4,402.3 406.4,390.3 406.6,374.4 406.7,402.3 406.7,390.3 406.9,402.3 406.9,390.3 407.0,390.3 407.0,383.2 407.2,378.2 407.2,402.3 407.3,402.3 407.4,402.3 407.5,402.3 407.6,390.3 407.6,402.3 407.7,402.3 407.8,402.3 407.9,402.3 408.0,390.3 408.1,390.3 408.1,402.3 408.2,402.3 408.2,390.3 408.3,402.3 408.4,402.3 408.4,402.3 408.5,402.3 408.6,402.3 408.9,402.3 409.0,390.3 409.1,402.3 409.1,402.3 409.2,402.3 409.3,402.3 409.3,383.2 409.4,402.3 409.4,383.2 409.5,402.3 409.6,390.3 409.7,390.3 409.8,390.3 409.9,402.3 410.0,390.3 410.1,402.3 410.3,402.3 410.5,402.3 410.5,390.3 410.6,402.3 410.7,390.3 410.7,402.3 410.8,402.3 410.9,402.3 411.0,402.3 411.3,402.3 411.3,390.3 411.4,402.3 411.5,383.2 411.6,378.2 411.6,390.3 411.7,402.3 411.8,390.3 411.9,402.3 412.0,383.2 412.0,390.3 412.1,402.3 412.3,390.3 412.3,402.3 412.5,402.3 412.5,390.3 412.6,402.3 412.7,402.3 412.8,383.2 412.9,402.3 412.9,390.3 413.2,402.3 413.2,402.3 413.3,402.3 413.4,402.3 413.4,390.3 413.6,390.3 413.9,390.3 413.9,402.3 414.1,402.3 414.2,402.3 414.3,402.3 414.6,402.3 414.7,402.3 414.8,378.2 414.8,402.3 414.9,402.3 415.3,402.3 415.4,402.3 415.5,390.3 415.5,402.3 415.7,383.2 415.8,390.3 415.8,371.2 416.1,383.2 416.1,402.3 416.2,390.3 416.3,402.3 416.4,390.3 416.6,390.3 416.7,383.2 416.7,402.3 416.9,383.2 417.0,390.3 417.1,402.3 417.2,390.3 417.3,402.3 417.4,402.3 417.5,402.3 417.5,402.3 417.7,402.3 417.7,402.3 417.9,402.3 418.1,402.3 418.1,402.3 418.3,390.3 418.4,402.3 418.5,390.3 418.6,383.2 418.8,390.3 418.9,402.3 419.0,383.2 419.1,402.3 419.2,378.2 419.2,402.3 419.3,390.3 419.4,402.3 419.5,402.3 419.5,402.3 419.6,402.3 419.8,402.3 419.9,402.3 420.0,402.3 420.1,402.3 420.1,402.3 420.2,402.3 420.5,390.3 420.6,390.3 420.7,390.3 420.9,402.3 421.0,383.2 421.2,402.3 421.3,383.2 421.5,402.3 421.9,390.3 421.9,402.3 422.0,402.3 422.1,378.2 422.2,390.3 422.3,390.3 422.4,390.3 422.5,390.3 422.7,402.3 422.7,402.3 422.8,390.3 422.9,390.3 423.1,390.3 423.1,402.3 423.2,402.3 423.3,390.3 423.4,390.3 423.5,402.3 423.7,383.2 423.7,402.3 423.8,402.3 423.9,402.3 423.9,390.3 424.0,402.3 424.0,402.3 424.1,383.2 424.3,390.3 424.5,402.3 424.5,390.3 424.8,402.3 424.9,402.3 425.1,390.3 425.2,402.3 425.3,390.3 425.4,390.3 425.4,390.3 425.5,390.3 425.6,402.3 425.6,390.3 425.9,390.3 426.0,402.3 426.1,390.3 426.3,390.3 426.4,390.3 426.5,390.3 426.6,402.3 426.8,390.3 426.9,390.3 426.9,402.3 427.0,402.3 427.1,378.2 427.2,390.3 427.4,402.3 427.5,402.3 427.6,402.3 427.7,402.3 427.8,390.3 427.9,390.3 428.0,402.3 428.0,402.3 428.1,402.3 428.2,390.3 428.3,390.3 428.3,402.3 428.5,383.2 428.6,402.3 428.7,402.3 428.8,383.2 429.0,390.3 429.1,402.3 429.2,402.3 429.3,402.3 429.5,390.3 429.5,402.3 429.7,390.3 429.7,390.3 429.8,378.2 430.0,390.3 430.1,402.3 430.1,378.2 430.2,402.3 430.3,390.3 430.5,390.3 430.6,402.3 430.6,402.3 430.7,402.3 430.7,402.3 431.2,402.3 431.3,390.3 431.3,402.3 431.4,402.3 431.6,402.3 431.6,402.3 431.7,383.2 431.9,402.3 432.0,390.3 432.1,390.3 432.1,383.2 432.2,402.3 432.3,402.3 432.3,402.3 432.4,390.3 432.5,374.4 432.7,378.2 432.8,402.3 433.0,390.3 433.1,390.3 433.2,402.3 433.3,402.3 433.4,402.3 433.5,402.3 433.5,402.3 433.6,402.3 433.9,402.3 433.9,402.3 434.1,402.3 434.2,402.3 434.4,402.3 434.4,390.3 434.5,402.3 435.0,402.3 435.1,383.2 435.1,402.3 435.4,402.3 435.4,402.3 435.6,402.3 435.8,402.3 435.9,402.3 436.1,390.3 436.1,402.3 436.2,402.3 436.4,402.3 436.5,390.3 436.7,402.3 436.8,402.3 437.1,390.3 437.4,390.3 437.4,402.3 437.5,402.3 437.6,390.3 437.6,402.3 437.7,378.2 437.7,402.3 437.9,402.3 438.0,402.3 438.0,402.3 438.1,402.3 438.3,390.3 438.3,390.3 438.4,402.3 438.5,402.3 438.6,402.3 438.6,402.3 438.7,390.3 438.9,390.3 438.9,402.3 439.2,402.3 439.3,402.3 439.4,402.3 439.5,390.3 439.6,402.3 439.6,402.3 439.7,390.3 439.8,390.3 440.0,402.3 440.2,383.2 440.3,402.3 440.5,402.3 440.6,402.3 440.8,402.3 441.0,402.3 441.1,390.3 441.1,402.3 441.2,402.3 441.3,402.3 441.4,402.3 441.5,390.3 441.5,402.3 441.6,402.3 441.8,402.3 441.9,402.3 442.0,378.2 442.4,402.3 442.4,402.3 442.5,402.3 442.7,402.3 442.8,402.3 442.9,402.3 442.9,383.2 443.0,402.3 443.1,402.3 443.1,402.3 443.2,402.3 443.2,383.2 443.5,402.3 443.5,402.3 443.6,402.3 443.7,402.3 443.8,390.3 443.8,402.3 444.0,402.3 444.2,402.3 444.3,383.2 444.5,402.3 444.6,390.3" fill="none" stroke="none" marker-start="url(#mc)" marker-mid="url(#mc)" marker-end="url(#mc)"/>
<polyline points="288.0,371.2 288.0,368.5 288.0,366.2 288.0,364.2 288.0,362.4 288.0,359.2 288.0,356.5 288.0,354.2 288.0,352.2 288.0,350.3 288.0,347.9 288.0,345.8 288.0,343.3" fill="none" stroke="none" marker-start="url(#mp)" marker-mid="url(#mp)" marker-end="url(#mp)"/>
<polyline points="288.0,402.3 288.0,390.3 288.0,383.2 288.0,378.2 288.0,374.4 288.0,242.5" fill="none" stroke="none" marker-start="url(#mg)" marker-mid="url(#mg)" marker-end="url(#mg)"/>
<path d="M277.9 242.5H445V418.2" fill="none" stroke="#4a4a4a" stroke-width="1.25"/>
<path d="M277.9 242.5V418.2H445" fill="none" stroke="#262626" stroke-width="1.5" stroke-linecap="square"/>
<text x="258.3" y="405.5" font-size="8.7">10<tspan dy="-3.2" font-size="5.6">0</tspan></text>
<text x="258.3" y="365.55" font-size="8.7">10<tspan dy="-3.2" font-size="5.6">1</tspan></text>
<text x="258.3" y="325.6" font-size="8.7">10<tspan dy="-3.2" font-size="5.6">2</tspan></text>
<text x="258.3" y="285.65" font-size="8.7">10<tspan dy="-3.2" font-size="5.6">3</tspan></text>
<text x="258.3" y="245.7" font-size="8.7">10<tspan dy="-3.2" font-size="5.6">4</tspan></text>
<text x="287.7" y="433" font-size="9.7" text-anchor="middle" textLength="13.4" lengthAdjust="spacingAndGlyphs">0.0</text>
<text x="326.9" y="433" font-size="9.7" text-anchor="middle" textLength="13.4" lengthAdjust="spacingAndGlyphs">0.4</text>
<text x="366.1" y="433" font-size="9.7" text-anchor="middle" textLength="13.4" lengthAdjust="spacingAndGlyphs">0.8</text>
<text x="405.3" y="433" font-size="9.7" text-anchor="middle" textLength="13.4" lengthAdjust="spacingAndGlyphs">1.2</text>
<text x="444.5" y="433" font-size="9.7" text-anchor="middle" textLength="13.4" lengthAdjust="spacingAndGlyphs">1.6</text>
<path d="M277.9 402.3h-2.6M277.9 390.27h-1.4M277.9 383.24h-1.4M277.9 378.25h-1.4M277.9 374.38h-1.4M277.9 371.21h-1.4M277.9 368.54h-1.4M277.9 366.22h-1.4M277.9 364.18h-1.4M277.9 362.35h-2.6M277.9 350.32h-1.4M277.9 343.29h-1.4M277.9 338.3h-1.4M277.9 334.43h-1.4M277.9 331.26h-1.4M277.9 328.59h-1.4M277.9 326.27h-1.4M277.9 324.23h-1.4M277.9 322.4h-2.6M277.9 310.37h-1.4M277.9 303.34h-1.4M277.9 298.35h-1.4M277.9 294.48h-1.4M277.9 291.31h-1.4M277.9 288.64h-1.4M277.9 286.32h-1.4M277.9 284.28h-1.4M277.9 282.45h-2.6M277.9 270.42h-1.4M277.9 263.39h-1.4M277.9 258.4h-1.4M277.9 254.53h-1.4M277.9 251.36h-1.4M277.9 248.69h-1.4M277.9 246.37h-1.4M277.9 244.33h-1.4M277.9 242.5h-2.6M277.9 418.2h-1.4M277.9 414.33h-1.4M277.9 411.16h-1.4M277.9 408.49h-1.4M277.9 406.17h-1.4M277.9 404.13h-1.4M288 418.2v2.6M307.6 418.2v1.5M327.2 418.2v2.6M346.8 418.2v1.5M366.4 418.2v2.6M386 418.2v1.5M405.6 418.2v2.6M425.2 418.2v1.5M444.8 418.2v2.6" fill="none" stroke="#262626" stroke-width="1.3"/>
<text x="361" y="442.5" font-size="9.7" text-anchor="middle" textLength="40" lengthAdjust="spacingAndGlyphs">Time (µs)</text>
<text x="253.8" y="336" font-size="8.8" text-anchor="middle" transform="rotate(-90 253.8 336)" textLength="55.5" lengthAdjust="spacingAndGlyphs">Intensity (a.u.)</text>
<circle cx="380.5" cy="255.8" r="1.2" fill="none" stroke="#d9708f" stroke-width="0.8"/>
<text x="395" y="259.2" font-size="9.7" textLength="30.8" lengthAdjust="spacingAndGlyphs">M-SPA</text>
<circle cx="380.5" cy="268.4" r="1.2" fill="none" stroke="#f2b48c" stroke-width="0.8"/>
<text x="395" y="271.8" font-size="9.7" textLength="19.6" lengthAdjust="spacingAndGlyphs">SPA</text>
<circle cx="380.5" cy="281.3" r="1.2" fill="none" stroke="#5fb0bd" stroke-width="0.8"/>
<text x="395" y="284.7" font-size="9.7" textLength="12.6" lengthAdjust="spacingAndGlyphs">DA</text>
<circle cx="380.5" cy="294.1" r="1.2" fill="none" stroke="#444" stroke-width="0.8"/>
<text x="395" y="297.5" font-size="9.7" textLength="31.3" lengthAdjust="spacingAndGlyphs">Control</text>
<polyline points="500.5,418.0 507.5,416.8 513.4,417.4 519.2,417.7 525.0,415.4 530.9,414.5 542.5,414.5 554.2,413.9 560.1,412.4 568.8,411.6 577.6,411.0 586.3,409.5 598.0,408.7 606.8,408.9 618.4,408.4 635.9,407.8 653.5,407.5 666.9,407.5" fill="none" stroke="#0a0a0a" stroke-width="2.3" stroke-linejoin="round"/>
<path d="M500.5 418.0h0M504.9 417.3h0M509.3 417.0h0M513.7 417.4h0M518.1 417.6h0M522.5 416.4h0M526.9 415.1h0M531.3 414.5h0M535.7 414.5h0M540.1 414.5h0M544.5 414.4h0M548.9 414.2h0M553.3 414.0h0M557.7 413.0h0M562.1 412.2h0M566.5 411.8h0M570.9 411.4h0M575.3 411.2h0M579.7 410.7h0M584.1 409.9h0M588.5 409.4h0M592.9 409.1h0M597.3 408.7h0M601.7 408.8h0M606.1 408.9h0M610.5 408.8h0M614.9 408.6h0M619.3 408.4h0M623.7 408.2h0M628.1 408.1h0M632.5 407.9h0M636.9 407.8h0M641.3 407.7h0M645.7 407.6h0M650.1 407.6h0M654.5 407.5h0M658.9 407.5h0M663.3 407.5h0" stroke="#000" stroke-width="2.5" stroke-linecap="round" fill="none" opacity="0.6"/>
<polyline points="500.5,413.0 507.5,411.6 513.4,410.2 519.2,407.8 525.0,407.2 530.9,402.3 536.7,400.8 548.4,396.1 560.1,392.6 571.7,389.7 577.6,388.8 589.2,385.3 600.9,382.4 612.6,380.0 624.3,378.0 635.9,376.5 647.6,375.7 659.3,375.1 666.9,374.5" fill="none" stroke="#1d7f80" stroke-width="2.0" stroke-linejoin="round"/>
<path d="M500.5 413.0h0M504.9 412.1h0M509.3 411.1h0M513.7 410.0h0M518.1 408.2h0M522.5 407.4h0M526.9 405.6h0M531.3 402.2h0M535.7 401.0h0M540.1 399.4h0M544.5 397.7h0M548.9 396.0h0M553.3 394.7h0M557.7 393.4h0M562.1 392.1h0M566.5 391.0h0M570.9 389.9h0M575.3 389.1h0M579.7 388.2h0M584.1 386.8h0M588.5 385.5h0M592.9 384.4h0M597.3 383.3h0M601.7 382.2h0M606.1 381.4h0M610.5 380.5h0M614.9 379.6h0M619.3 378.9h0M623.7 378.1h0M628.1 377.5h0M632.5 377.0h0M636.9 376.5h0M641.3 376.1h0M645.7 375.8h0M650.1 375.6h0M654.5 375.4h0M658.9 375.2h0M663.3 374.8h0" stroke="#0e5a62" stroke-width="2.5" stroke-linecap="round" fill="none" opacity="0.6"/>
<polyline points="500.5,405.8 507.5,397.9 513.4,391.2 519.2,386.8 525.0,381.8 530.9,377.4 536.7,373.0 548.4,363.4 560.1,354.7 571.7,345.4 577.6,342.1 589.2,335.7 600.9,329.9 606.8,327.9 618.4,323.5 630.1,319.6 641.8,316.1 653.5,312.6 666.9,308.9" fill="none" stroke="#e89863" stroke-width="2.0" stroke-linejoin="round"/>
<path d="M500.5 405.8h0M504.9 400.8h0M509.3 395.8h0M513.7 390.9h0M518.1 387.6h0M522.5 383.9h0M526.9 380.4h0M531.3 377.1h0M535.7 373.8h0M540.1 370.2h0M544.5 366.6h0M548.9 363.0h0M553.3 359.7h0M557.7 356.4h0M562.1 353.0h0M566.5 349.5h0M570.9 346.0h0M575.3 343.4h0M579.7 341.0h0M584.1 338.6h0M588.5 336.1h0M592.9 333.9h0M597.3 331.7h0M601.7 329.6h0M606.1 328.1h0M610.5 326.5h0M614.9 324.8h0M619.3 323.2h0M623.7 321.7h0M628.1 320.3h0M632.5 318.9h0M636.9 317.6h0M641.3 316.3h0M645.7 315.0h0M650.1 313.6h0M654.5 312.3h0M658.9 311.1h0M663.3 309.9h0" stroke="#c97a48" stroke-width="2.5" stroke-linecap="round" fill="none" opacity="0.6"/>
<polyline points="500.5,403.7 507.5,394.9 513.4,386.8 519.2,383.9 525.0,375.1 530.9,367.8 536.7,360.5 548.4,347.4 560.1,334.3 571.7,322.6 583.4,311.5 589.2,306.5 598.0,297.7 606.8,290.5 618.4,278.8 630.1,268.6 641.8,257.8 653.5,245.2 655.2,243.2" fill="none" stroke="#9a1c4a" stroke-width="2.0" stroke-linejoin="round"/>
<path d="M500.5 403.7h0M504.9 398.2h0M509.3 392.4h0M513.7 386.6h0M518.1 384.4h0M522.5 378.9h0M526.9 372.8h0M531.3 367.2h0M535.7 361.8h0M540.1 356.7h0M544.5 351.7h0M548.9 346.8h0M553.3 341.8h0M557.7 336.9h0M562.1 332.2h0M566.5 327.8h0M570.9 323.4h0M575.3 319.2h0M579.7 315.0h0M584.1 310.9h0M588.5 307.1h0M592.9 302.8h0M597.3 298.4h0M601.7 294.7h0M606.1 291.0h0M610.5 286.7h0M614.9 282.3h0M619.3 278.1h0M623.7 274.2h0M628.1 270.3h0M632.5 266.4h0M636.9 262.3h0M641.3 258.3h0M645.7 253.6h0M650.1 248.8h0M654.5 244.0h0" stroke="#6e1033" stroke-width="2.5" stroke-linecap="round" fill="none" opacity="0.6"/>
<path d="M500.5 243.2H667V418.3" fill="none" stroke="#1a1a1a" stroke-width="1.05"/>
<path d="M500.5 243.2V418.3H667" fill="none" stroke="#262626" stroke-width="1.3" stroke-linecap="square"/>
<text x="496.3" y="421.4" font-size="9.6" text-anchor="end" textLength="13.4" lengthAdjust="spacingAndGlyphs">0.0</text>
<text x="496.3" y="386.38" font-size="9.6" text-anchor="end" textLength="13.4" lengthAdjust="spacingAndGlyphs">0.4</text>
<text x="496.3" y="351.36" font-size="9.6" text-anchor="end" textLength="13.4" lengthAdjust="spacingAndGlyphs">0.8</text>
<text x="496.3" y="316.34" font-size="9.6" text-anchor="end" textLength="13.4" lengthAdjust="spacingAndGlyphs">1.2</text>
<text x="496.3" y="281.32" font-size="9.6" text-anchor="end" textLength="13.4" lengthAdjust="spacingAndGlyphs">1.6</text>
<text x="496.3" y="246.3" font-size="9.6" text-anchor="end" textLength="13.4" lengthAdjust="spacingAndGlyphs">2.0</text>
<path d="M500.5 418.3h-3M500.5 400.79h-1.6M500.5 383.28h-3M500.5 365.77h-1.6M500.5 348.26h-3M500.5 330.75h-1.6M500.5 313.24h-3M500.5 295.73h-1.6M500.5 278.22h-3M500.5 260.71h-1.6M500.5 243.2h-3M520.92 418.3v-1.8M535.85 418.3v-1.8M547.43 418.3v-1.8M556.89 418.3v-1.8M564.89 418.3v-1.8M571.82 418.3v-1.8M577.93 418.3v-1.8M619.37 418.3v-1.8M640.42 418.3v-1.8M655.35 418.3v-1.8M583.4 418.3v-3M666.93 418.3v-3" fill="none" stroke="#262626" stroke-width="1.3"/>
<text x="583.8" y="432.8" font-size="9.5" text-anchor="middle">10</text>
<text x="665.8" y="432.8" font-size="9.5" text-anchor="middle">50</text>
<text x="579" y="444.5" font-size="9.7" text-anchor="middle" textLength="112.4" lengthAdjust="spacingAndGlyphs">Currenet density (mA/cm<tspan dy="-3" font-size="6">2</tspan><tspan dy="3">)</tspan></text>
<text x="478.8" y="343" font-size="9.6" text-anchor="middle" transform="rotate(-90 478.8 343)" textLength="47.2" lengthAdjust="spacingAndGlyphs">ELEQE (%)</text>
<line x1="503.4" y1="255" x2="528.2" y2="255" stroke="#0a0a0a" stroke-width="2"/>
<circle cx="515.5" cy="255" r="0.9" fill="#000" opacity="0.6"/>
<text x="530.2" y="258.3" font-size="9.7" textLength="30.7" lengthAdjust="spacingAndGlyphs">Control</text>
<line x1="503.4" y1="267.7" x2="528.2" y2="267.7" stroke="#1d7f80" stroke-width="2"/>
<circle cx="515.5" cy="267.7" r="0.9" fill="#0e5a62" opacity="0.6"/>
<text x="530.2" y="271" font-size="9.7" textLength="12.4" lengthAdjust="spacingAndGlyphs">DA</text>
<line x1="503.4" y1="280.4" x2="528.2" y2="280.4" stroke="#e89863" stroke-width="2"/>
<circle cx="515.5" cy="280.4" r="0.9" fill="#c97a48" opacity="0.6"/>
<text x="530.2" y="283.7" font-size="9.7" textLength="19.3" lengthAdjust="spacingAndGlyphs">SPA</text>
<line x1="503.4" y1="292.9" x2="528.2" y2="292.9" stroke="#9a1c4a" stroke-width="2"/>
<circle cx="515.5" cy="292.9" r="0.9" fill="#6e1033" opacity="0.6"/>
<text x="530.2" y="296.2" font-size="9.7" textLength="30.3" lengthAdjust="spacingAndGlyphs">M-SPA</text>
<polyline points="49.9,482.9 160.4,483.3 160.5,483.3 160.7,483.3 160.9,483.3 161.0,483.3 161.2,483.3 161.3,483.3 161.5,483.3 161.6,483.3 161.8,483.3 161.9,483.3 162.1,483.3 162.2,483.3 162.4,483.3 162.5,483.3 162.7,483.3 162.8,483.3 163.0,483.3 163.1,483.3 163.3,483.3 163.5,483.3 163.6,483.3 163.8,483.3 163.9,483.3 164.1,483.3 164.2,483.3 164.4,483.3 164.5,483.3 164.7,483.3 164.8,483.3 165.0,483.3 165.1,483.3 165.3,483.3 165.4,483.3 165.6,483.3 165.7,483.3 165.9,483.3 166.1,483.3 166.2,483.3 166.4,483.3 166.5,483.3 166.7,483.3 166.8,483.3 167.0,483.3 167.1,483.3 167.3,483.3 167.4,483.3 167.6,483.3 167.7,483.3 167.9,483.3 168.0,483.3 168.2,483.3 168.3,483.3 168.5,483.3 168.7,483.3 168.8,483.3 169.0,483.3 169.1,483.3 169.3,483.3 169.4,483.3 169.6,483.3 169.7,483.3 169.9,483.3 170.0,483.3 170.2,483.3 170.3,483.3 170.5,483.3 170.6,483.3 170.8,483.3 170.9,483.3 171.1,483.3 171.3,483.3 171.4,483.3 171.6,483.4 171.7,483.4 171.9,483.4 172.0,483.4 172.2,483.4 172.3,483.4 172.5,483.4 172.6,483.4 172.8,483.4 172.9,483.4 173.1,483.4 173.2,483.4 173.4,483.4 173.5,483.4 173.7,483.4 173.9,483.4 174.0,483.4 174.2,483.4 174.3,483.4 174.5,483.4 174.6,483.4 174.8,483.4 174.9,483.4 175.1,483.4 175.2,483.4 175.4,483.4 175.5,483.4 175.7,483.4 175.8,483.4 176.0,483.4 176.2,483.4 176.3,483.4 176.5,483.4 176.6,483.4 176.8,483.4 176.9,483.4 177.1,483.4 177.2,483.4 177.4,483.4 177.5,483.4 177.7,483.4 177.8,483.4 178.0,483.4 178.1,483.4 178.3,483.4 178.4,483.4 178.6,483.4 178.8,483.4 178.9,483.4 179.1,483.4 179.2,483.4 179.4,483.4 179.5,483.5 179.7,483.5 179.8,483.5 180.0,483.5 180.1,483.5 180.3,483.5 180.4,483.5 180.6,483.5 180.7,483.5 180.9,483.5 181.0,483.5 181.2,483.5 181.4,483.5 181.5,483.5 181.7,483.5 181.8,483.5 182.0,483.5 182.1,483.6 182.3,483.6 182.4,483.6 182.6,483.6 182.7,483.6 182.9,483.6 183.0,483.6 183.2,483.6 183.3,483.6 183.5,483.6 183.7,483.7 183.8,483.7 184.0,483.7 184.1,483.7 184.3,483.7 184.4,483.7 184.6,483.7 184.7,483.7 184.9,483.8 185.0,483.8 185.2,483.8 185.3,483.8 185.5,483.8 185.6,483.9 185.8,483.9 186.0,483.9 186.1,483.9 186.3,483.9 186.4,484.0 186.6,484.0 186.7,484.0 186.9,484.1 187.0,484.1 187.2,484.1 187.3,484.1 187.5,484.2 187.7,484.2 187.8,484.3 188.0,484.3 188.1,484.3 188.3,484.4 188.4,484.4 188.6,484.5 188.7,484.5 188.9,484.6 189.0,484.6 189.2,484.7 189.4,484.7 189.5,484.8 189.7,484.8 189.8,484.9 190.0,485.0 190.1,485.0 190.3,485.1 190.4,485.2 190.6,485.3 190.8,485.4 190.9,485.4 191.1,485.5 191.2,485.6 191.4,485.7 191.5,485.8 191.7,485.9 191.8,486.1 192.0,486.2 192.2,486.3 192.3,486.4 192.5,486.6 192.6,486.7 192.8,486.8 193.0,487.0 193.1,487.2 193.3,487.3 193.4,487.5 193.6,487.7 193.8,487.9 193.9,488.1 194.1,488.3 194.2,488.5 194.4,488.7 194.6,489.0 194.7,489.2 194.9,489.5 195.0,489.7 195.2,490.0 195.4,490.3 195.5,490.6 195.7,490.9 195.9,491.3 196.0,491.6 196.2,492.0 196.4,492.4 196.5,492.7 196.7,493.2 196.9,493.6 197.0,494.0 197.2,494.5 197.4,495.0 197.6,495.5 197.7,496.1 197.9,496.6 198.1,497.2 198.3,497.8 198.4,498.5 198.6,499.1 198.8,499.8 199.0,500.6 199.2,501.3 199.3,502.1 199.5,503.0 199.7,503.8 199.9,504.7 200.1,505.7 200.3,506.7 200.5,507.7 200.7,508.8 200.9,509.9 201.0,511.1 201.2,512.3 201.4,513.6 201.7,514.9 201.9,516.3 202.1,517.8 202.3,519.3 202.5,520.9 202.7,522.6 202.9,524.3 203.1,526.1 203.4,528.0 203.6,530.0 203.8,532.1 204.1,534.2 204.3,536.5 204.5,538.8 204.8,541.3 205.0,543.9 205.3,546.6 205.6,549.4 205.8,552.3 206.1,555.3 206.4,558.5 206.6,561.9 206.9,565.4 207.2,569.0 207.5,572.8 207.8,576.8 208.1,580.9 208.4,585.3 208.8,589.8 209.1,594.5 209.4,599.4 209.8,604.6 210.1,610.0 210.5,615.6 210.9,621.5 211.3,627.6 211.7,634.0 212.1,640.7" fill="none" stroke="#861d40" stroke-width="1.8" stroke-dasharray="8 6"/>
<polyline points="49.9,482.9 160.2,483.3 160.3,483.3 160.5,483.3 160.6,483.3 160.8,483.3 160.9,483.3 161.1,483.3 161.2,483.3 161.4,483.3 161.5,483.3 161.7,483.3 161.8,483.3 162.0,483.3 162.2,483.3 162.3,483.3 162.5,483.3 162.6,483.3 162.8,483.3 162.9,483.3 163.1,483.3 163.2,483.3 163.4,483.3 163.5,483.3 163.7,483.3 163.8,483.3 164.0,483.3 164.1,483.3 164.3,483.3 164.4,483.3 164.6,483.3 164.8,483.3 164.9,483.3 165.1,483.3 165.2,483.3 165.4,483.3 165.5,483.3 165.7,483.3 165.8,483.3 166.0,483.3 166.1,483.3 166.3,483.3 166.4,483.3 166.6,483.3 166.7,483.3 166.9,483.3 167.0,483.3 167.2,483.3 167.4,483.3 167.5,483.3 167.7,483.3 167.8,483.3 168.0,483.3 168.1,483.3 168.3,483.3 168.4,483.3 168.6,483.3 168.7,483.3 168.9,483.3 169.0,483.3 169.2,483.3 169.3,483.3 169.5,483.3 169.6,483.3 169.8,483.3 170.0,483.3 170.1,483.3 170.3,483.3 170.4,483.3 170.6,483.3 170.7,483.3 170.9,483.3 171.0,483.3 171.2,483.3 171.3,483.3 171.5,483.4 171.6,483.4 171.8,483.4 171.9,483.4 172.1,483.4 172.2,483.4 172.4,483.4 172.6,483.4 172.7,483.4 172.9,483.4 173.0,483.4 173.2,483.4 173.3,483.4 173.5,483.4 173.6,483.4 173.8,483.4 173.9,483.4 174.1,483.4 174.2,483.4 174.4,483.4 174.5,483.4 174.7,483.4 174.8,483.4 175.0,483.4 175.2,483.4 175.3,483.4 175.5,483.4 175.6,483.4 175.8,483.4 175.9,483.4 176.1,483.4 176.2,483.4 176.4,483.4 176.5,483.4 176.7,483.4 176.8,483.4 177.0,483.4 177.1,483.4 177.3,483.4 177.4,483.4 177.6,483.4 177.8,483.4 177.9,483.4 178.1,483.4 178.2,483.4 178.4,483.4 178.5,483.4 178.7,483.4 178.8,483.4 179.0,483.4 179.1,483.4 179.3,483.5 179.4,483.5 179.6,483.5 179.7,483.5 179.9,483.5 180.0,483.5 180.2,483.5 180.4,483.5 180.5,483.5 180.7,483.5 180.8,483.5 181.0,483.5 181.1,483.5 181.3,483.5 181.4,483.5 181.6,483.5 181.7,483.5 181.9,483.6 182.0,483.6 182.2,483.6 182.3,483.6 182.5,483.6 182.7,483.6 182.8,483.6 183.0,483.6 183.1,483.6 183.3,483.6 183.4,483.6 183.6,483.7 183.7,483.7 183.9,483.7 184.0,483.7 184.2,483.7 184.3,483.7 184.5,483.7 184.6,483.8 184.8,483.8 185.0,483.8 185.1,483.8 185.3,483.8 185.4,483.9 185.6,483.9 185.7,483.9 185.9,483.9 186.0,483.9 186.2,484.0 186.3,484.0 186.5,484.0 186.6,484.1 186.8,484.1 187.0,484.1 187.1,484.1 187.3,484.2 187.4,484.2 187.6,484.3 187.7,484.3 187.9,484.3 188.0,484.4 188.2,484.4 188.3,484.5 188.5,484.5 188.7,484.6 188.8,484.6 189.0,484.7 189.1,484.7 189.3,484.8 189.4,484.8 189.6,484.9 189.7,485.0 189.9,485.0 190.0,485.1 190.2,485.2 190.4,485.3 190.5,485.4 190.7,485.4 190.8,485.5 191.0,485.6 191.1,485.7 191.3,485.8 191.5,485.9 191.6,486.1 191.8,486.2 191.9,486.3 192.1,486.4 192.2,486.6 192.4,486.7 192.6,486.8 192.7,487.0 192.9,487.2 193.0,487.3 193.2,487.5 193.4,487.7 193.5,487.9 193.7,488.1 193.8,488.3 194.0,488.5 194.2,488.7 194.3,489.0 194.5,489.2 194.6,489.5 194.8,489.7 195.0,490.0 195.1,490.3 195.3,490.6 195.5,490.9 195.6,491.3 195.8,491.6 196.0,492.0 196.1,492.4 196.3,492.7 196.5,493.2 196.6,493.6 196.8,494.0 197.0,494.5 197.2,495.0 197.3,495.5 197.5,496.1 197.7,496.6 197.8,497.2 198.0,497.8 198.2,498.5 198.4,499.1 198.6,499.8 198.7,500.6 198.9,501.3 199.1,502.1 199.3,502.9 199.5,503.8 199.7,504.7 199.8,505.7 200.0,506.7 200.2,507.7 200.4,508.8 200.6,509.9 200.8,511.1 201.0,512.3 201.2,513.6 201.4,514.9 201.6,516.3 201.8,517.8 202.0,519.3 202.3,520.9 202.5,522.6 202.7,524.3 202.9,526.1 203.1,528.0 203.4,530.0 203.6,532.1 203.8,534.2 204.1,536.5 204.3,538.8 204.6,541.3 204.8,543.9 205.1,546.6 205.3,549.4 205.6,552.3 205.8,555.3 206.1,558.5 206.4,561.9 206.7,565.4 207.0,569.0 207.3,572.8 207.6,576.8 207.9,580.9 208.2,585.3 208.5,589.8 208.9,594.5 209.2,599.4 209.5,604.6 209.9,610.0 210.3,615.6 210.6,621.5 211.0,627.6 211.4,634.0 211.8,640.7" fill="none" stroke="#861d40" stroke-width="1.8" stroke-linejoin="round"/>
<path d="M49.9 466.1H214.8V640.1" fill="none" stroke="#2a2a2a" stroke-width="1.2"/>
<path d="M49.9 466.1V640.1H214.8" fill="none" stroke="#262626" stroke-width="1.6" stroke-linecap="square"/>
<text x="43.6" y="642.6" font-size="9.6" text-anchor="end">0</text>
<text x="43.6" y="599.1" font-size="9.6" text-anchor="end">5</text>
<text x="43.6" y="555.6" font-size="9.6" text-anchor="end">10</text>
<text x="43.6" y="512.1" font-size="9.6" text-anchor="end">15</text>
<text x="43.6" y="468.6" font-size="9.6" text-anchor="end">20</text>
<text x="49.7" y="652.5" font-size="9.7" text-anchor="middle" textLength="13.2" lengthAdjust="spacingAndGlyphs">0.0</text>
<text x="73.15" y="652.5" font-size="9.7" text-anchor="middle" textLength="13.2" lengthAdjust="spacingAndGlyphs">0.2</text>
<text x="96.6" y="652.5" font-size="9.7" text-anchor="middle" textLength="13.2" lengthAdjust="spacingAndGlyphs">0.4</text>
<text x="120.05" y="652.5" font-size="9.7" text-anchor="middle" textLength="13.2" lengthAdjust="spacingAndGlyphs">0.6</text>
<text x="143.5" y="652.5" font-size="9.7" text-anchor="middle" textLength="13.2" lengthAdjust="spacingAndGlyphs">0.8</text>
<text x="166.95" y="652.5" font-size="9.7" text-anchor="middle" textLength="13.2" lengthAdjust="spacingAndGlyphs">1.0</text>
<text x="190.4" y="652.5" font-size="9.7" text-anchor="middle" textLength="13.2" lengthAdjust="spacingAndGlyphs">1.2</text>
<text x="213.85" y="652.5" font-size="9.7" text-anchor="middle" textLength="13.2" lengthAdjust="spacingAndGlyphs">1.4</text>
<path d="M49.9 640.1h-3M49.9 618.35h-1.6M49.9 596.6h-3M49.9 574.85h-1.6M49.9 553.1h-3M49.9 531.35h-1.6M49.9 509.6h-3M49.9 487.85h-1.6M49.9 466.1h-3M49.9 640.1v2.8M61.62 640.1v1.6M73.35 640.1v2.8M85.08 640.1v1.6M96.8 640.1v2.8M108.53 640.1v1.6M120.25 640.1v2.8M131.97 640.1v1.6M143.7 640.1v2.8M155.43 640.1v1.6M167.15 640.1v2.8M178.88 640.1v1.6M190.6 640.1v2.8M202.33 640.1v1.6M214.05 640.1v2.8" fill="none" stroke="#262626" stroke-width="1.3"/>
<text x="132" y="667.9" font-size="9.7" text-anchor="middle" textLength="47" lengthAdjust="spacingAndGlyphs">Voltage (V)</text>
<text x="28.3" y="556.3" font-size="9.6" text-anchor="middle" transform="rotate(-90 28.3 556.3)" textLength="110" lengthAdjust="spacingAndGlyphs">Current Density (mA/cm<tspan dy="-3" font-size="6">2</tspan><tspan dy="3">)</tspan></text>
<line x1="56" y1="493.7" x2="80.5" y2="493.7" stroke="#861d40" stroke-width="1.8"/>
<line x1="56" y1="506.4" x2="80.5" y2="506.4" stroke="#861d40" stroke-width="1.8" stroke-dasharray="9.5 9"/>
<text x="83.6" y="497.2" font-size="9.7" textLength="36" lengthAdjust="spacingAndGlyphs">Reverse</text>
<text x="83.6" y="509.6" font-size="9.7" textLength="36" lengthAdjust="spacingAndGlyphs">Forward</text>
<text x="102.5" y="544.6" font-size="9.3" textLength="30.3" lengthAdjust="spacingAndGlyphs" fill="#333" style="stroke:#333">Reverse</text>
<text x="102.5" y="561.4" font-size="9.3" textLength="28.3" lengthAdjust="spacingAndGlyphs" fill="#333" style="stroke:#333">1.371 V</text>
<text x="102.5" y="578" font-size="9.3" textLength="25.3" lengthAdjust="spacingAndGlyphs" fill="#333" style="stroke:#333">21.1 %</text>
<text x="102.5" y="594.3" font-size="9.3" textLength="25.3" lengthAdjust="spacingAndGlyphs" fill="#333" style="stroke:#333">84.8 %</text>
<text x="102.5" y="610.9" font-size="9.3" textLength="15.5" lengthAdjust="spacingAndGlyphs" fill="#333" style="stroke:#333">18.1</text>
<text x="102.5" y="622.7" font-size="9.3" textLength="30.3" lengthAdjust="spacingAndGlyphs" fill="#333" style="stroke:#333">mA/cm<tspan dy="-2.6" font-size="5.4">2</tspan></text>
<text x="149.6" y="544.6" font-size="9.3" textLength="30.3" lengthAdjust="spacingAndGlyphs" fill="#333" style="stroke:#333">Forward</text>
<text x="149.6" y="561.4" font-size="9.3" textLength="28.3" lengthAdjust="spacingAndGlyphs" fill="#333" style="stroke:#333">1.373 V</text>
<text x="149.6" y="578" font-size="9.3" textLength="25.3" lengthAdjust="spacingAndGlyphs" fill="#333" style="stroke:#333">21.1 %</text>
<text x="149.6" y="594.3" font-size="9.3" textLength="25.3" lengthAdjust="spacingAndGlyphs" fill="#333" style="stroke:#333">84.7 %</text>
<text x="149.6" y="610.9" font-size="9.3" textLength="15.5" lengthAdjust="spacingAndGlyphs" fill="#333" style="stroke:#333">18.1</text>
<text x="149.6" y="622.7" font-size="9.3" textLength="30.3" lengthAdjust="spacingAndGlyphs" fill="#333" style="stroke:#333">mA/cm<tspan dy="-2.6" font-size="5.4">2</tspan></text>
<text x="75.2" y="561.4" font-size="9.3" fill="#333" style="stroke:#333"><tspan font-style="italic">V</tspan><tspan dy="2" font-size="5.8" font-style="italic">OC</tspan></text>
<text x="75.2" y="578" font-size="9.3" textLength="17.5" lengthAdjust="spacingAndGlyphs" fill="#333" style="stroke:#333">PCE</text>
<text x="75.2" y="594.3" font-size="9.3" textLength="9.5" lengthAdjust="spacingAndGlyphs" fill="#333" style="stroke:#333">FF</text>
<text x="75.2" y="610.9" font-size="9.3" fill="#333" style="stroke:#333"><tspan font-style="italic">J</tspan><tspan dy="2" font-size="5.8" font-style="italic">SC</tspan></text>
<polyline points="278.5,637.7 281.8,618.6 285.2,562.3 288.5,542.4 291.8,532.0 295.1,523.4 298.5,509.5 301.8,500.0 305.1,493.0 308.5,487.9 311.8,484.4 315.1,481.8 318.5,480.1 321.8,478.7 325.1,477.5 328.4,476.6 331.8,475.6 335.1,474.7 338.4,474.2 341.8,473.6 345.1,473.5 348.4,474.0 351.8,474.5 355.1,475.6 358.4,477.3 361.8,478.7 365.1,479.5 368.4,479.5 371.7,479.4 375.1,479.5 378.4,479.9 381.7,480.2 385.1,480.7 388.4,481.4 391.7,482.0 395.1,482.5 398.4,483.3 401.7,485.8 405.0,504.3 408.4,552.8 411.7,604.8 415.0,629.9 418.4,636.8 421.7,638.4 425.0,638.9 428.4,639.1 431.7,639.1 435.0,639.1 438.3,639.1 441.7,639.1 445.0,638.9" fill="none" stroke="#858585" stroke-width="1.5" stroke-linejoin="round"/>
<path d="M278.5 637.7h0M281.8 618.6h0M285.2 562.3h0M288.5 542.4h0M291.8 532.0h0M295.1 523.4h0M298.5 509.5h0M301.8 500.0h0M305.1 493.0h0M308.5 487.9h0M311.8 484.4h0M315.1 481.8h0M318.5 480.1h0M321.8 478.7h0M325.1 477.5h0M328.4 476.6h0M331.8 475.6h0M335.1 474.7h0M338.4 474.2h0M341.8 473.6h0M345.1 473.5h0M348.4 474.0h0M351.8 474.5h0M355.1 475.6h0M358.4 477.3h0M361.8 478.7h0M365.1 479.5h0M368.4 479.5h0M371.7 479.4h0M375.1 479.5h0M378.4 479.9h0M381.7 480.2h0M385.1 480.7h0M388.4 481.4h0M391.7 482.0h0M395.1 482.5h0M398.4 483.3h0M401.7 485.8h0M405.0 504.3h0M408.4 552.8h0M411.7 604.8h0M415.0 629.9h0M418.4 636.8h0M421.7 638.4h0M425.0 638.9h0M428.4 639.1h0M431.7 639.1h0M435.0 639.1h0M438.3 639.1h0M441.7 639.1h0M445.0 638.9h0" stroke="#b3234f" stroke-width="2.7" stroke-linecap="round" fill="none" opacity="0.9"/>
<path d="M278.5 466.2H445V639.4" fill="none" stroke="#2a2a2a" stroke-width="1.2"/>
<path d="M278.5 466.2V639.4H445" fill="none" stroke="#262626" stroke-width="1.6" stroke-linecap="square"/>
<text x="272.3" y="641.8" font-size="9.6" text-anchor="end">0</text>
<text x="272.3" y="607.16" font-size="9.6" text-anchor="end">20</text>
<text x="272.3" y="572.52" font-size="9.6" text-anchor="end">40</text>
<text x="272.3" y="537.88" font-size="9.6" text-anchor="end">60</text>
<text x="272.3" y="503.24" font-size="9.6" text-anchor="end">80</text>
<text x="272.3" y="468.6" font-size="9.6" text-anchor="end">100</text>
<text x="278.5" y="652.3" font-size="9.7" text-anchor="middle" textLength="16" lengthAdjust="spacingAndGlyphs">300</text>
<text x="311.8" y="652.3" font-size="9.7" text-anchor="middle" textLength="16" lengthAdjust="spacingAndGlyphs">400</text>
<text x="345.1" y="652.3" font-size="9.7" text-anchor="middle" textLength="16" lengthAdjust="spacingAndGlyphs">500</text>
<text x="378.4" y="652.3" font-size="9.7" text-anchor="middle" textLength="16" lengthAdjust="spacingAndGlyphs">600</text>
<text x="411.7" y="652.3" font-size="9.7" text-anchor="middle" textLength="16" lengthAdjust="spacingAndGlyphs">700</text>
<text x="445" y="652.3" font-size="9.7" text-anchor="middle" textLength="16" lengthAdjust="spacingAndGlyphs">800</text>
<path d="M278.5 639.4h-3M278.5 622.08h-1.6M278.5 604.76h-3M278.5 587.44h-1.6M278.5 570.12h-3M278.5 552.8h-1.6M278.5 535.48h-3M278.5 518.16h-1.6M278.5 500.84h-3M278.5 483.52h-1.6M278.5 466.2h-3M278.5 639.4v2.8M295.15 639.4v1.6M311.8 639.4v2.8M328.45 639.4v1.6M345.1 639.4v2.8M361.75 639.4v1.6M378.4 639.4v2.8M395.05 639.4v1.6M411.7 639.4v2.8M428.35 639.4v1.6M445 639.4v2.8" fill="none" stroke="#262626" stroke-width="1.3"/>
<text x="359.5" y="666.9" font-size="9.7" text-anchor="middle" textLength="75.3" lengthAdjust="spacingAndGlyphs">Wavelength (nm)</text>
<text x="253.3" y="552.3" font-size="9.6" text-anchor="middle" transform="rotate(-90 253.3 552.3)" textLength="34.7" lengthAdjust="spacingAndGlyphs">EQE (%)</text>
<text x="321.9" y="551.7" font-size="8.8" textLength="59.7" lengthAdjust="spacingAndGlyphs" fill="#333" style="stroke:#333">Integrated <tspan font-style="italic">J</tspan><tspan dy="2.4" font-size="5.4" font-style="italic">SC</tspan></text>
<text x="321.9" y="570.3" font-size="8.8" textLength="53" lengthAdjust="spacingAndGlyphs" fill="#333" style="stroke:#333">18.1 mA/cm<tspan dy="-2.8" font-size="5.6">2</tspan></text>
<path d="M502.0 477.2h0M502.5 478.2h0M503.0 478.1h0M503.5 477.6h0M504.0 477.8h0M504.5 477.7h0M505.0 478.5h0M505.4 478.0h0M505.9 477.6h0M506.4 477.4h0M506.9 477.6h0M507.4 477.6h0M507.9 477.3h0M508.4 478.0h0M508.9 477.0h0M509.4 477.0h0M509.9 477.1h0M510.4 477.8h0M510.9 477.1h0M511.3 476.5h0M511.8 477.5h0M512.3 477.3h0M512.8 477.1h0M513.3 478.5h0M513.8 477.2h0M514.3 476.9h0M514.8 476.7h0M515.3 477.0h0M515.8 476.3h0M516.3 476.7h0M516.8 477.4h0M517.2 477.4h0M517.7 476.7h0M518.2 476.6h0M518.7 476.6h0M519.2 477.3h0M519.7 477.0h0M520.2 477.7h0M520.7 477.7h0M521.2 476.7h0M521.7 477.2h0M522.2 477.6h0M522.7 476.7h0M523.1 477.2h0M523.6 476.7h0M524.1 477.7h0M524.6 476.6h0M525.1 477.4h0M525.6 477.4h0M526.1 477.3h0M526.6 476.3h0M527.1 477.3h0M527.6 477.3h0M528.1 477.3h0M528.6 477.0h0M529.0 477.1h0M529.5 477.2h0M530.0 476.7h0M530.5 477.1h0M531.0 477.9h0M531.5 477.4h0M532.0 478.4h0M532.5 476.8h0M533.0 477.5h0M533.5 478.2h0M534.0 477.1h0M534.5 478.1h0M534.9 478.1h0M535.4 477.6h0M535.9 478.1h0M536.4 477.5h0M536.9 477.3h0M537.4 478.8h0M537.9 477.4h0M538.4 477.3h0M538.9 478.2h0M539.4 477.6h0M539.9 478.0h0M540.4 477.1h0M540.9 478.6h0M541.3 477.6h0M541.8 477.3h0M542.3 478.5h0M542.8 478.3h0M543.3 477.5h0M543.8 478.6h0M544.3 477.9h0M544.8 477.7h0M545.3 478.2h0M545.8 477.7h0M546.3 478.0h0M546.8 478.0h0M547.2 478.2h0M547.7 478.4h0M548.2 477.3h0M548.7 478.3h0M549.2 478.0h0M549.7 478.5h0M550.2 477.7h0M550.7 478.5h0M551.2 478.5h0M551.7 478.8h0M552.2 477.7h0M552.7 478.6h0M553.1 478.7h0M553.6 477.8h0M554.1 478.0h0M554.6 478.3h0M555.1 478.3h0M555.6 478.1h0M556.1 478.6h0M556.6 478.7h0M557.1 478.2h0M557.6 478.2h0M558.1 478.2h0M558.6 478.6h0M559.0 478.3h0M559.5 478.1h0M560.0 478.2h0M560.5 478.4h0M561.0 479.1h0M561.5 478.3h0M562.0 477.8h0M562.5 478.5h0M563.0 478.4h0M563.5 478.9h0M564.0 478.4h0M564.5 477.3h0M564.9 477.9h0M565.4 478.7h0M565.9 477.9h0M566.4 478.8h0M566.9 478.8h0M567.4 479.0h0M567.9 479.1h0M568.4 478.9h0M568.9 478.1h0M569.4 478.8h0M569.9 477.9h0M570.4 477.7h0M570.9 477.7h0M571.3 478.3h0M571.8 477.8h0M572.3 478.0h0M572.8 478.7h0M573.3 477.7h0M573.8 478.5h0M574.3 477.8h0M574.8 478.2h0M575.3 477.6h0M575.8 478.3h0M576.3 476.8h0M576.8 478.0h0M577.2 477.3h0M577.7 477.8h0M578.2 477.4h0M578.7 477.3h0M579.2 477.8h0M579.7 477.8h0M580.2 477.9h0M580.7 478.2h0M581.2 477.4h0M581.7 477.3h0M582.2 476.9h0M582.7 478.2h0M583.1 477.1h0M583.6 477.1h0M584.1 477.5h0M584.6 477.6h0M585.1 477.5h0M585.6 477.6h0M586.1 476.3h0M586.6 477.5h0M587.1 476.9h0M587.6 476.1h0M588.1 478.0h0M588.6 476.6h0M589.0 478.3h0M589.5 478.0h0M590.0 475.9h0M590.5 476.9h0M591.0 477.5h0M591.5 476.4h0M592.0 476.7h0M592.5 476.2h0M593.0 476.5h0M593.5 477.2h0M594.0 476.9h0M594.5 477.6h0M594.9 477.8h0M595.4 477.4h0M595.9 476.6h0M596.4 477.1h0M596.9 477.8h0M597.4 476.2h0M597.9 477.0h0M598.4 477.1h0M598.9 476.3h0M599.4 477.1h0M599.9 477.7h0M600.4 477.4h0M600.8 477.1h0M601.3 477.9h0M601.8 477.7h0M602.3 477.3h0M602.8 477.0h0M603.3 477.0h0M603.8 477.1h0M604.3 476.7h0M604.8 477.3h0M605.3 477.6h0M605.8 476.6h0M606.3 478.1h0M606.8 477.1h0M607.2 477.3h0M607.7 477.0h0M608.2 476.9h0M608.7 478.0h0M609.2 478.2h0M609.7 477.6h0M610.2 477.6h0M610.7 477.3h0M611.2 477.8h0M611.7 476.7h0M612.2 477.9h0M612.7 477.8h0M613.1 478.0h0M613.6 477.7h0M614.1 477.0h0M614.6 476.9h0M615.1 476.9h0M615.6 477.4h0M616.1 477.6h0M616.6 477.6h0M617.1 477.7h0M617.6 478.5h0M618.1 477.6h0M618.6 478.6h0M619.0 478.1h0M619.5 477.2h0M620.0 479.0h0M620.5 476.6h0M621.0 478.0h0M621.5 478.2h0M622.0 478.0h0M622.5 478.1h0M623.0 478.0h0M623.5 478.6h0M624.0 478.7h0M624.5 478.0h0M624.9 478.4h0M625.4 478.8h0M625.9 477.2h0M626.4 477.4h0M626.9 477.4h0M627.4 478.3h0M627.9 478.0h0M628.4 478.5h0M628.9 478.5h0M629.4 478.7h0M629.9 478.0h0M630.4 477.7h0M630.8 478.6h0M631.3 478.3h0M631.8 478.3h0M632.3 477.9h0M632.8 478.6h0M633.3 478.1h0M633.8 477.5h0M634.3 478.8h0M634.8 478.8h0M635.3 478.8h0M635.8 478.5h0M636.3 478.0h0M636.7 478.0h0M637.2 477.6h0M637.7 477.8h0M638.2 478.8h0M638.7 478.0h0M639.2 478.9h0M639.7 478.1h0M640.2 478.1h0M640.7 477.7h0M641.2 478.2h0M641.7 477.9h0M642.2 478.1h0M642.7 478.1h0M643.1 478.0h0M643.6 477.6h0M644.1 478.5h0M644.6 477.9h0M645.1 478.0h0M645.6 477.2h0M646.1 477.7h0M646.6 479.0h0M647.1 478.0h0M647.6 478.8h0M648.1 478.5h0M648.6 478.3h0M649.0 478.2h0M649.5 478.7h0M650.0 477.5h0M650.5 478.3h0M651.0 477.4h0M651.5 477.3h0M652.0 477.8h0M652.5 477.8h0M653.0 477.3h0M653.5 477.7h0M654.0 478.1h0M654.5 477.8h0M654.9 477.6h0M655.4 478.4h0M655.9 478.1h0M656.4 477.8h0M656.9 477.9h0M657.4 477.4h0M657.9 477.3h0M658.4 477.2h0M658.9 477.1h0M659.4 477.5h0M659.9 477.5h0M660.4 477.3h0M660.8 477.6h0M661.3 477.8h0M661.8 477.6h0M662.3 478.0h0M662.8 476.7h0M663.3 477.5h0M663.8 477.3h0" stroke="#ae2450" stroke-width="3.9" stroke-linecap="round" fill="none"/>
<path d="M502 464.6H667.1V638.4" fill="none" stroke="#2a2a2a" stroke-width="1.2"/>
<path d="M502 464.6V638.4H667.1" fill="none" stroke="#262626" stroke-width="1.6" stroke-linecap="square"/>
<path d="M499.6 555.3L505.2 546.8M499.6 558.3L505.2 549.8" stroke="#111" stroke-width="1" fill="none"/>
<path d="M660 554.3L673.9 545.6M660.8 557L674.7 548.3" stroke="#111" stroke-width="1" fill="none"/>
<text x="495.6" y="641" font-size="9.6" text-anchor="end">0</text>
<text x="495.6" y="609.8" font-size="9.6" text-anchor="end">2</text>
<text x="495.6" y="578.6" font-size="9.6" text-anchor="end">4</text>
<text x="495.6" y="529" font-size="9.6" text-anchor="end">18</text>
<text x="495.6" y="498.1" font-size="9.6" text-anchor="end">20</text>
<text x="495.6" y="467.2" font-size="9.6" text-anchor="end">22</text>
<text x="502" y="652.2" font-size="9.7" text-anchor="middle">0</text>
<text x="535.02" y="652.2" font-size="9.7" text-anchor="middle">100</text>
<text x="568.04" y="652.2" font-size="9.7" text-anchor="middle">200</text>
<text x="601.06" y="652.2" font-size="9.7" text-anchor="middle">300</text>
<text x="634.08" y="652.2" font-size="9.7" text-anchor="middle">400</text>
<text x="667.1" y="652.2" font-size="9.7" text-anchor="middle">500</text>
<path d="M502 638.4h-3M502 607.2h-3M502 576h-3M502 526.4h-3M502 495.5h-3M502 464.6h-3M502 622.8h-1.6M502 591.6h-1.6M502 560.4h-1.6M502 541.85h-1.6M502 510.95h-1.6M502 480.05h-1.6M502 638.4v2.8M518.51 638.4v1.6M535.02 638.4v2.8M551.53 638.4v1.6M568.04 638.4v2.8M584.55 638.4v1.6M601.06 638.4v2.8M617.57 638.4v1.6M634.08 638.4v2.8M650.59 638.4v1.6M667.1 638.4v2.8" fill="none" stroke="#262626" stroke-width="1.3"/>
<text x="584" y="667" font-size="9.7" text-anchor="middle" textLength="34.7" lengthAdjust="spacingAndGlyphs">Time (s)</text>
<text x="479" y="552.3" font-size="9.6" text-anchor="middle" transform="rotate(-90 479 552.3)" textLength="38.2" lengthAdjust="spacingAndGlyphs">PCE (%)</text>
<text x="558.8" y="565.8" font-size="9.6" textLength="53.5" lengthAdjust="spacingAndGlyphs" fill="#2a2a2a" style="stroke:#2a2a2a">SPO=21.1%</text>
</svg>
</body></html>
